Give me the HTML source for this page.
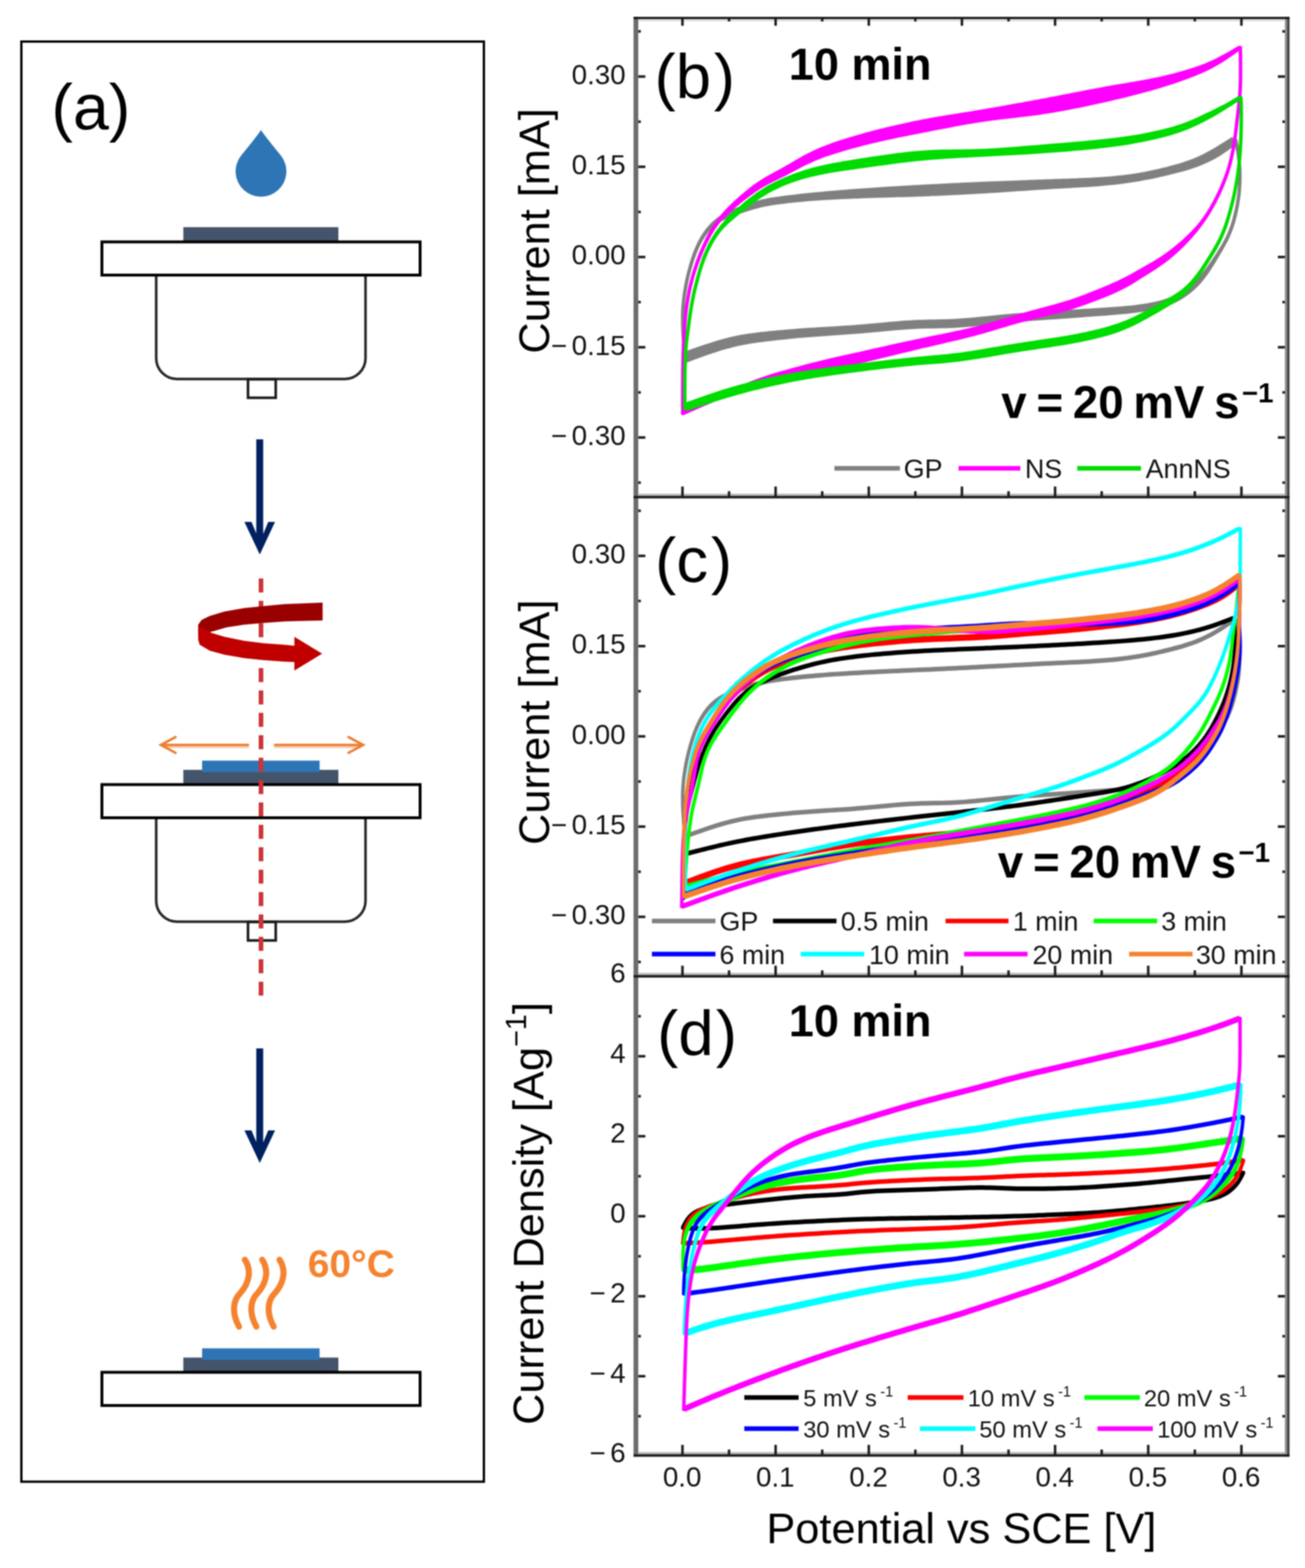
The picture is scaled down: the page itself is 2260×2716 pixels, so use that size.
<!DOCTYPE html>
<html lang="en"><head><meta charset="utf-8"><title>Spin coating schematic and cyclic voltammetry</title>
<style>html,body{margin:0;padding:0;background:#fff}body{width:2260px;height:2716px;overflow:hidden}svg{display:block;font-family:'Liberation Sans', Arial, Helvetica, sans-serif;filter:blur(1.1px)}</style>
</head><body>
<svg xmlns="http://www.w3.org/2000/svg" width="2260" height="2716" viewBox="0 0 2260 2716">
<rect x="0" y="0" width="2260" height="2716" fill="#fff"/>
<g id="panel-a">
<rect x="37" y="72" width="801" height="2494.5" fill="none" stroke="#000" stroke-width="4"/>
<text x="89.0" y="224.4" font-size="112.0" font-weight="normal" fill="#000" text-anchor="start" >(a)</text>
<path d="M452 225 Q455 231 486.5 269.5 A44 44 0 1 1 417.5 269.5 Q449 231 452 225 Z" fill="#2E75B6"/>
<rect x="317.5" y="393.5" width="268.5" height="25" fill="#44546A"/>
<path d="M270.5 478.0 V620.5 a36 36 0 0 0 36 36 H597 a36 36 0 0 0 36 -36 V478.0" fill="#fff" stroke="#262626" stroke-width="4.5"/>
<rect x="429.5" y="657.0" width="48" height="32" fill="#fff" stroke="#1a1a1a" stroke-width="4.5"/>
<rect x="176.5" y="419.0" width="551" height="57.5" fill="#fff" stroke="#000" stroke-width="5"/>
<rect x="443.8" y="761.0" width="12" height="169.5" fill="#002060"/>
<path d="M423.3 904.0 H435.5 L444 924.5 H456 L464.5 904.0 H476.3 L449.9 960.5 Z" fill="#002060"/>
<rect x="443.8" y="1816.0" width="12" height="168.5" fill="#002060"/>
<path d="M423.3 1958.0 H435.5 L444 1978.5 H456 L464.5 1958.0 H476.3 L449.9 2014.5 Z" fill="#002060"/>
<rect x="317.5" y="1333.5" width="268.5" height="25" fill="#44546A"/>
<rect x="350" y="1317.5" width="203.5" height="20" fill="#2E75B6"/>
<path d="M270.5 1418.0 V1560.5 a36 36 0 0 0 36 36 H597 a36 36 0 0 0 36 -36 V1418.0" fill="#fff" stroke="#262626" stroke-width="4.5"/>
<rect x="429.5" y="1597.0" width="48" height="32" fill="#fff" stroke="#1a1a1a" stroke-width="4.5"/>
<rect x="176.5" y="1359.0" width="551" height="57.5" fill="#fff" stroke="#000" stroke-width="5"/>
<path d="M452 1002 V1727" stroke="#CC3338" stroke-width="8" stroke-dasharray="24.2 14.6" fill="none"/>
<path d="M558.7 1043.8 L491.7 1046.4 L457.4 1049.8 L423 1053.2 L388.7 1059.2 L363 1067 L349.2 1073.8 L343.2 1082 L343.2 1100 L371.5 1092.7 L392 1086.7 L423 1082 L457.4 1079 L491.7 1076.4 L558.7 1074.7 Z" fill="#9A0000"/>
<path d="M343.2 1084 L366.4 1096.2 L388.7 1103 L423 1110 L457.4 1114.2 L491.7 1116.8 L509.8 1118.5 L509.8 1103 L557.9 1132.2 L509.8 1161.4 L509.8 1146.8 L491.7 1146 L457.4 1143.4 L423 1140 L388.7 1134 L363 1127 L345.8 1116.8 L343.2 1108 Z" fill="#C00000"/>
<path d="M278.0 1290.3 H431.2" stroke="#ED7D31" stroke-width="4.2" fill="none"/>
<path d="M282.0 1294.1 H431.2" stroke="#ED7D31" stroke-opacity="0.4" stroke-width="3.4" fill="none"/>
<path d="M305.5 1275.8 L278.5 1290.3 L305.5 1304.8" stroke="#ED7D31" stroke-width="4.2" fill="none"/>
<path d="M629.5 1290.3 H474.5" stroke="#ED7D31" stroke-width="4.2" fill="none"/>
<path d="M625.5 1294.1 H474.5" stroke="#ED7D31" stroke-opacity="0.4" stroke-width="3.4" fill="none"/>
<path d="M602.0 1275.8 L629.0 1290.3 L602.0 1304.8" stroke="#ED7D31" stroke-width="4.2" fill="none"/>
<path d="M424.0 2182 C 436.0 2200, 432.0 2222, 416.0 2240 C 400.0 2256, 404.0 2280, 414.0 2298" stroke="#F5822E" stroke-width="10.5" fill="none" stroke-linecap="round"/>
<path d="M454.0 2182 C 466.0 2200, 462.0 2222, 446.0 2240 C 430.0 2256, 434.0 2280, 444.0 2298" stroke="#F5822E" stroke-width="10.5" fill="none" stroke-linecap="round"/>
<path d="M484.0 2182 C 496.0 2200, 492.0 2222, 476.0 2240 C 460.0 2256, 464.0 2280, 474.0 2298" stroke="#F5822E" stroke-width="10.5" fill="none" stroke-linecap="round"/>
<text x="533.0" y="2211.6" font-size="67.5" font-weight="bold" fill="#F5822E" text-anchor="start" >60°C</text>
<rect x="317.5" y="2351.5" width="268.5" height="25" fill="#44546A"/>
<rect x="350" y="2335.5" width="203.5" height="20" fill="#2E75B6"/>
<rect x="176.5" y="2377.0" width="551" height="57.5" fill="#fff" stroke="#000" stroke-width="5"/>
</g>
<g id="plots">
<path d="M1189 618.8L1188.5 612.7L1188 606.5L1187.5 600.1L1187.1 593.4L1186.6 586.5L1186.1 579.5L1185.7 572.3L1185.4 565.1L1185.3 557.9L1185.2 550.8L1185.3 543.8L1185.6 536.8L1186.1 529.9L1186.7 523L1187.5 516.2L1188.4 509.5L1189.5 502.7L1190.7 495.9L1192 489L1193.5 482.2L1195.2 475.3L1197 468.4L1198.9 461.5L1200.9 454.8L1203.1 448.2L1205.4 441.8L1207.8 435.6L1210.4 429.5L1213.3 423.5L1216.5 417.6L1220.1 411.7L1224 406.1L1228.3 400.7L1232.9 395.7L1237.8 391.2L1243.1 387.2L1248.6 383.8L1254.5 380.8L1260.7 378L1267.1 375.5L1273.8 373.1L1280.7 370.7L1287.6 368.3L1294.7 366L1301.6 363.8L1308.6 361.7L1315.5 359.9L1322.3 358.3L1329.2 356.9L1336.1 355.7L1343.1 354.7L1350.1 353.7L1357.1 352.9L1364.1 352.1L1371.1 351.3L1378 350.6L1385.1 349.9L1392.2 349.2L1399.4 348.6L1406.6 348L1413.7 347.5L1420.8 347L1427.9 346.6L1434.8 346.2L1441.8 345.8L1448.9 345.4L1456.1 345.1L1463.4 344.8L1470.8 344.5L1478.2 344.1L1485.6 343.9L1493 343.6L1500.2 343.3L1507.4 343.1L1514.5 342.8L1521.6 342.6L1528.6 342.4L1535.6 342.2L1542.7 342L1549.9 341.8L1557 341.6L1564.2 341.4L1571.4 341.2L1578.6 340.9L1585.8 340.7L1592.9 340.5L1600 340.2L1607 339.9L1613.9 339.6L1620.8 339.4L1627.7 339.1L1634.6 338.7L1641.5 338.4L1648.4 338.1L1655.2 337.8L1662.1 337.4L1669 337.1L1675.9 336.7L1682.8 336.3L1689.7 336L1696.6 335.6L1703.5 335.2L1710.4 334.8L1717.2 334.3L1724.1 333.9L1731 333.5L1737.8 333L1744.7 332.5L1751.6 332.1L1758.4 331.6L1765.3 331.1L1772.2 330.7L1779 330.2L1785.9 329.7L1792.8 329.3L1799.7 328.8L1806.6 328.4L1813.6 327.9L1820.6 327.5L1827.7 327.1L1834.8 326.7L1842 326.3L1849.1 325.9L1856.2 325.5L1863.3 325.1L1870.3 324.7L1877.2 324.3L1884 323.9L1890.7 323.4L1897.5 322.9L1904.3 322.4L1911.2 321.8L1918.2 321.1L1925.2 320.4L1932.2 319.7L1939.2 318.9L1946 318L1952.8 317.1L1959.5 316.1L1966.3 315L1973.1 313.9L1980 312.6L1987 311.3L1994.1 309.9L2001.3 308.4L2008.4 306.8L2015.6 305.2L2022.6 303.5L2029.6 301.8L2036.5 300.1L2043.4 298.3L2050.3 296.4L2057.2 294.4L2064 292.2L2070.7 289.9L2077.3 287.5L2083.8 284.8L2090.1 282L2096.3 279.1L2102.4 275.9L2108.5 272.5L2114.4 268.9L2120.2 265.1L2126 261.1L2131.5 257.1L2136.9 253L2142.2 248.9L2133.8 237.1L2128.3 240.7L2122.7 244.3L2117.1 247.8L2111.4 251.3L2105.8 254.7L2100.1 258.1L2094.4 261.3L2088.8 264.3L2083.1 267.3L2077.2 270L2071.3 272.7L2065.2 275.2L2058.9 277.6L2052.5 279.8L2045.9 281.9L2039.3 283.9L2032.7 285.8L2026 287.6L2019.1 289.4L2012.2 291.1L2005.2 292.7L1998.2 294.3L1991.2 295.8L1984.2 297.2L1977.4 298.5L1970.6 299.7L1964 300.7L1957.4 301.7L1950.9 302.6L1944.2 303.4L1937.5 304.1L1930.7 304.7L1923.8 305.4L1916.9 305.9L1910 306.4L1903.2 306.9L1896.5 307.3L1889.8 307.7L1883.1 308L1876.3 308.3L1869.4 308.6L1862.5 308.9L1855.4 309.1L1848.3 309.4L1841.2 309.6L1834.1 309.9L1826.9 310.1L1819.8 310.4L1812.8 310.6L1805.8 310.9L1798.8 311.1L1791.9 311.4L1785 311.6L1778.1 311.9L1771.2 312.2L1764.3 312.4L1757.4 312.7L1750.6 312.9L1743.7 313.2L1736.8 313.4L1729.9 313.7L1723.1 314L1716.2 314.2L1709.3 314.5L1702.5 314.8L1695.6 315.1L1688.7 315.4L1681.8 315.7L1674.9 316L1668 316.3L1661.1 316.7L1654.2 317L1647.4 317.3L1640.5 317.7L1633.6 318L1626.7 318.4L1619.9 318.7L1613 319.1L1606 319.4L1599.1 319.8L1592 320.2L1584.9 320.6L1577.7 321L1570.5 321.4L1563.4 321.8L1556.2 322.2L1549 322.7L1541.9 323.1L1534.8 323.5L1527.7 324L1520.7 324.4L1513.6 324.9L1506.5 325.4L1499.3 325.9L1492 326.4L1484.6 327L1477.2 327.5L1469.8 328.1L1462.4 328.7L1455.1 329.3L1447.9 329.9L1440.8 330.5L1433.8 331.1L1426.7 331.7L1419.7 332.4L1412.5 333.1L1405.3 333.8L1398 334.5L1390.8 335.3L1383.6 336.1L1376.5 337L1369.5 337.8L1362.5 338.6L1355.5 339.5L1348.3 340.4L1341.1 341.4L1333.9 342.6L1326.6 343.9L1319.4 345.5L1312.2 347.4L1305 349.5L1297.9 351.8L1290.7 354.3L1283.6 356.8L1276.5 359.5L1269.6 362.2L1262.7 365.1L1256 368.4L1249.6 372L1243.6 376L1237.9 380.5L1232.5 385.3L1227.5 390.5L1222.8 396.1L1218.4 402L1214.4 408.1L1210.8 414.3L1207.5 420.6L1204.6 426.9L1201.9 433.2L1199.5 439.6L1197.2 446.2L1195 452.9L1193 459.8L1191.1 466.8L1189.2 473.8L1187.6 480.8L1186.1 487.8L1184.7 494.8L1183.5 501.7L1182.4 508.6L1181.5 515.5L1180.7 522.4L1180.1 529.4L1179.6 536.4L1179.3 543.6L1179.2 550.8L1179.3 558L1179.4 565.3L1179.7 572.6L1180.1 579.8L1180.6 586.9L1181 593.9L1181.5 600.6L1182 607L1182.5 613.2L1183 619.2Z" fill="#808080"/>
<circle cx="1186.0" cy="619.0" r="3.0" fill="#808080"/>
<circle cx="2138.0" cy="243.0" r="3.0" fill="#808080"/>
<path d="M2137 243.6L2138.2 249.5L2139.4 255.6L2140.6 262L2141.7 268.6L2142.5 275.5L2143.3 282.6L2143.8 289.9L2144.1 297.2L2144.2 304.5L2144.2 311.7L2143.9 318.8L2143.5 325.7L2143 332.4L2142.2 338.9L2141.3 345.4L2140.3 351.9L2139.1 358.4L2137.7 364.9L2136.2 371.5L2134.6 378L2132.7 384.5L2130.7 391L2128.4 397.3L2125.9 403.5L2123.1 409.6L2120.1 415.6L2116.8 421.5L2113.5 427.2L2110 432.8L2106.5 438.4L2102.9 444L2099.2 449.4L2095.5 454.8L2091.8 460.1L2087.9 465.4L2083.9 470.5L2079.6 475.6L2075.2 480.5L2070.5 485.3L2065.5 490L2060.2 494.5L2054.6 498.7L2048.9 502.7L2043 506.4L2037.1 509.7L2031.1 512.6L2025.1 515.2L2019 517.5L2012.8 519.4L2006.5 521.2L2000 522.7L1993.3 524.1L1986.3 525.4L1979.2 526.5L1972.1 527.5L1965.2 528.4L1958.3 529.2L1951.6 529.8L1944.8 530.4L1938 531L1931.1 531.5L1924 532L1916.8 532.5L1909.5 533L1902.1 533.4L1894.7 533.9L1887.4 534.4L1880.1 534.8L1872.9 535.3L1865.8 535.7L1858.8 536.2L1851.8 536.6L1844.9 537.1L1838 537.5L1831.1 537.9L1824.3 538.3L1817.4 538.7L1810.5 539.1L1803.6 539.5L1796.8 540L1789.9 540.4L1783 540.9L1776.1 541.4L1769.2 541.9L1762.2 542.4L1755.2 543L1748.2 543.7L1741.2 544.3L1734.1 545L1727 545.8L1719.9 546.5L1712.9 547.2L1705.9 547.9L1699 548.6L1692.1 549.3L1685.4 550L1678.6 550.6L1671.9 551.1L1665.1 551.6L1658.3 552.1L1651.5 552.4L1644.5 552.7L1637.6 552.9L1630.6 553.1L1623.7 553.2L1616.8 553.4L1609.8 553.5L1602.8 553.7L1595.7 553.9L1588.6 554.1L1581.6 554.5L1574.7 554.9L1567.8 555.3L1560.9 555.8L1554.1 556.4L1547.2 557L1540.3 557.6L1533.4 558.2L1526.4 558.9L1519.4 559.5L1512.3 560.2L1505.3 560.8L1498.2 561.5L1491.2 562.1L1484.3 562.6L1477.3 563.2L1470.4 563.7L1463.6 564.1L1456.7 564.6L1449.8 565L1443 565.4L1436.1 565.8L1429.2 566.2L1422.4 566.6L1415.5 567L1408.6 567.4L1401.7 567.8L1394.8 568.3L1387.9 568.8L1380.9 569.3L1374 569.9L1367 570.5L1360 571.1L1353 571.7L1346 572.3L1338.9 573L1331.9 573.6L1324.8 574.4L1317.8 575.1L1310.8 576L1303.8 576.9L1296.8 577.8L1289.8 578.9L1282.8 580.1L1275.8 581.5L1268.6 583.1L1261.3 584.8L1253.8 586.7L1246.3 588.8L1238.8 591L1231.3 593.4L1224 595.7L1217 598.1L1210.3 600.3L1204.1 602.5L1198.2 604.5L1192.8 606.4L1187.7 608.2L1182.7 609.9L1189.3 628.1L1194.2 626.2L1199.2 624.3L1204.6 622.3L1210.4 620.2L1216.5 618L1223.1 615.6L1229.9 613.3L1237 610.9L1244.2 608.6L1251.4 606.3L1258.6 604.3L1265.7 602.4L1272.7 600.6L1279.5 599.1L1286.2 597.7L1292.9 596.5L1299.5 595.3L1306.3 594.3L1313 593.3L1319.9 592.4L1326.8 591.5L1333.7 590.7L1340.7 589.9L1347.7 589.1L1354.6 588.4L1361.6 587.7L1368.5 587L1375.4 586.3L1382.3 585.6L1389.2 585L1396 584.4L1402.8 583.9L1409.7 583.4L1416.5 582.9L1423.4 582.4L1430.2 582L1437.1 581.5L1444 581.1L1450.8 580.6L1457.7 580.1L1464.6 579.6L1471.6 579.1L1478.5 578.6L1485.5 578L1492.5 577.4L1499.6 576.8L1506.6 576.2L1513.7 575.5L1520.8 574.9L1527.8 574.2L1534.8 573.6L1541.7 572.9L1548.6 572.3L1555.4 571.8L1562.1 571.2L1568.8 570.7L1575.6 570.3L1582.4 569.9L1589.3 569.6L1596.2 569.3L1603.2 569.1L1610.1 569L1617.1 568.9L1624 568.7L1631 568.6L1638 568.4L1645.1 568.2L1652.2 567.9L1659.2 567.5L1666.2 567.1L1673.1 566.6L1679.9 566L1686.8 565.4L1693.6 564.7L1700.5 564L1707.5 563.3L1714.5 562.6L1721.5 561.9L1728.6 561.2L1735.6 560.4L1742.6 559.7L1749.6 559.1L1756.6 558.4L1763.5 557.8L1770.4 557.2L1777.3 556.7L1784.1 556.1L1791 555.6L1797.8 555.1L1804.7 554.6L1811.5 554.1L1818.4 553.6L1825.2 553.2L1832.1 552.7L1839 552.2L1845.9 551.7L1852.8 551.2L1859.8 550.7L1866.8 550.2L1873.9 549.7L1881.1 549.1L1888.4 548.6L1895.7 548L1903.1 547.5L1910.5 546.9L1917.8 546.4L1925 545.8L1932.2 545.2L1939.2 544.6L1946.1 544L1952.9 543.4L1959.8 542.6L1966.8 541.8L1974 540.8L1981.3 539.7L1988.6 538.5L1995.9 537.1L2003 535.6L2009.9 533.8L2016.7 531.8L2023.4 529.5L2029.9 526.9L2036.5 523.8L2042.9 520.4L2049.3 516.5L2055.5 512.3L2061.5 507.7L2067.3 502.8L2072.7 497.7L2077.8 492.4L2082.5 487L2086.9 481.6L2091 476L2094.9 470.4L2098.6 464.8L2102.1 459.2L2105.6 453.5L2109 447.8L2112.4 442.1L2115.8 436.3L2119.2 430.5L2122.5 424.6L2125.8 418.5L2128.8 412.3L2131.6 406L2134.2 399.5L2136.5 392.9L2138.6 386.3L2140.5 379.6L2142.2 372.9L2143.7 366.2L2145.1 359.6L2146.3 352.9L2147.3 346.3L2148.2 339.7L2149 332.9L2149.5 326.1L2149.9 319.1L2150.2 311.8L2150.2 304.5L2150.1 297L2149.8 289.6L2149.3 282.1L2148.6 274.8L2147.7 267.8L2146.6 261L2145.5 254.5L2144.3 248.4L2143 242.4Z" fill="#808080"/>
<circle cx="2140.0" cy="243.0" r="3.0" fill="#808080"/>
<circle cx="1186.0" cy="619.0" r="3.0" fill="#808080"/>
<path d="M1185.4 716L1185.4 709.6L1185.4 703.1L1185.4 696.2L1185.4 688.9L1185.4 681.3L1185.4 673.6L1185.5 665.7L1185.5 657.8L1185.6 650L1185.6 642.4L1185.7 634.8L1185.9 627.4L1186 620.1L1186.2 612.8L1186.5 605.6L1186.7 598.5L1187 591.4L1187.4 584.4L1187.8 577.4L1188.2 570.5L1188.7 563.6L1189.3 556.7L1189.9 550L1190.6 543.3L1191.4 536.6L1192.2 530.1L1193.2 523.6L1194.2 517.2L1195.4 510.8L1196.6 504.4L1198 498L1199.6 491.5L1201.3 484.9L1203.1 478.4L1205.1 471.8L1207.3 465.1L1209.5 458.5L1211.9 451.8L1214.5 445.2L1217.2 438.6L1220 432.1L1222.9 425.7L1226 419.5L1229.1 413.4L1232.3 407.5L1235.7 401.8L1239.2 396.3L1242.9 391L1246.8 385.8L1251 380.9L1255.3 376.2L1259.9 371.7L1264.8 367.3L1269.7 362.9L1274.8 358.6L1280.1 354.3L1285.3 350L1290.7 345.7L1296.2 341.5L1301.7 337.4L1307.2 333.4L1312.8 329.7L1318.5 326.1L1324.2 322.8L1330 319.6L1335.9 316.6L1341.9 313.6L1348 310.6L1354.1 307.5L1360.3 304.4L1366.4 301.2L1372.5 297.9L1378.7 294.7L1384.9 291.4L1391.2 288.1L1397.6 285L1404.1 282L1410.5 279.1L1417 276.4L1423.3 273.9L1429.6 271.6L1435.9 269.5L1442.2 267.4L1448.6 265.4L1455.2 263.4L1461.8 261.4L1468.5 259.5L1475.3 257.6L1482.2 255.7L1489 253.9L1495.8 252.1L1502.5 250.4L1509.2 248.8L1515.7 247.2L1522.3 245.7L1528.8 244.2L1535.3 242.8L1541.9 241.4L1548.5 240L1555.1 238.6L1561.8 237.3L1568.5 235.9L1575.2 234.6L1582 233.3L1588.7 231.9L1595.5 230.6L1602.2 229.3L1609 228L1615.7 226.6L1622.5 225.3L1629.3 224L1636.1 222.7L1642.9 221.4L1649.7 220.1L1656.6 218.8L1663.5 217.6L1670.3 216.3L1677.2 215.1L1684.1 213.9L1690.9 212.8L1697.8 211.7L1704.7 210.7L1711.5 209.7L1718.4 208.8L1725.3 207.9L1732.1 207L1739 206.2L1745.9 205.4L1752.8 204.7L1759.7 203.9L1766.6 203.1L1773.5 202.3L1780.5 201.5L1787.4 200.6L1794.4 199.7L1801.3 198.7L1808.3 197.6L1815.2 196.5L1822.1 195.4L1829.1 194.2L1836 193L1842.9 191.7L1849.8 190.4L1856.7 189.1L1863.6 187.8L1870.5 186.4L1877.4 185L1884.3 183.5L1891.1 182.1L1898 180.6L1904.9 179.1L1911.9 177.5L1918.8 175.9L1925.9 174.3L1932.9 172.6L1940 170.9L1947.1 169.2L1954.2 167.4L1961.3 165.6L1968.3 163.8L1975.3 162L1982.1 160.1L1988.9 158.3L1995.7 156.4L2002.5 154.4L2009.4 152.4L2016.4 150.3L2023.5 148L2030.7 145.7L2038 143.2L2045.1 140.8L2052.1 138.3L2058.9 135.7L2065.6 133.2L2072.2 130.5L2078.8 127.8L2085.4 124.9L2092 121.7L2098.7 118.4L2105.3 114.8L2111.9 111L2118.4 107L2124.9 102.8L2131.1 98.5L2137.3 94.2L2143.2 89.9L2149.1 85.6L2144.9 79.4L2138.7 83L2132.5 86.8L2126.1 90.4L2119.6 94.1L2113 97.6L2106.4 101L2099.9 104.2L2093.3 107.1L2086.7 109.9L2080.1 112.4L2073.6 114.8L2067.1 117L2060.6 119.1L2054 121.1L2047.2 123.1L2040.2 125L2033.1 126.9L2025.9 128.8L2018.6 130.5L2011.5 132.2L2004.5 133.7L1997.7 135.1L1990.9 136.4L1984.2 137.7L1977.4 139L1970.5 140.2L1963.5 141.4L1956.4 142.6L1949.2 143.9L1942.1 145.1L1934.9 146.3L1927.7 147.6L1920.6 148.8L1913.5 150.1L1906.5 151.4L1899.5 152.7L1892.6 154L1885.7 155.3L1878.8 156.6L1872 158L1865.1 159.3L1858.3 160.6L1851.4 162L1844.6 163.3L1837.8 164.6L1831 166L1824.1 167.3L1817.3 168.6L1810.5 169.9L1803.7 171.1L1797 172.4L1790.2 173.6L1783.4 174.9L1776.6 176.1L1769.8 177.4L1763 178.6L1756.2 179.8L1749.3 181L1742.5 182.3L1735.7 183.5L1728.8 184.7L1721.9 185.9L1715.1 187.1L1708.2 188.3L1701.3 189.5L1694.4 190.6L1687.5 191.8L1680.6 192.9L1673.7 194L1666.7 195.1L1659.8 196.2L1652.9 197.3L1646 198.4L1639 199.5L1632.1 200.7L1625.2 201.8L1618.4 203L1611.5 204.3L1604.7 205.5L1597.8 206.8L1591 208.2L1584.2 209.6L1577.4 211L1570.6 212.4L1563.9 213.9L1557.1 215.4L1550.4 216.9L1543.7 218.5L1537 220.1L1530.4 221.7L1523.8 223.3L1517.2 225L1510.6 226.7L1504 228.5L1497.3 230.3L1490.5 232.2L1483.6 234.2L1476.7 236.2L1469.7 238.3L1462.8 240.4L1456 242.6L1449.3 244.8L1442.6 247.1L1436 249.4L1429.5 251.9L1423 254.4L1416.5 257.2L1409.9 260.2L1403.3 263.4L1396.6 266.8L1390.1 270.3L1383.6 274L1377.4 277.6L1371.3 281.2L1365.2 284.7L1359.3 288.1L1353.3 291.4L1347.4 294.7L1341.4 297.9L1335.4 301.2L1329.4 304.5L1323.4 308L1317.5 311.7L1311.7 315.5L1305.9 319.6L1300.2 323.8L1294.7 328.2L1289.2 332.7L1283.8 337.2L1278.5 341.9L1273.3 346.5L1268.3 351.2L1263.3 356L1258.5 360.9L1253.9 365.8L1249.4 370.9L1245.1 376.1L1241.1 381.4L1237.2 386.9L1233.5 392.6L1229.9 398.3L1226.5 404.3L1223.2 410.3L1220.1 416.6L1217.1 422.9L1214.1 429.5L1211.3 436.1L1208.6 442.9L1206.1 449.6L1203.6 456.4L1201.4 463.2L1199.2 469.9L1197.2 476.7L1195.4 483.4L1193.7 490L1192.1 496.6L1190.7 503.1L1189.4 509.7L1188.2 516.2L1187.2 522.7L1186.2 529.3L1185.4 535.9L1184.6 542.6L1183.9 549.4L1183.3 556.2L1182.7 563.1L1182.2 570L1181.8 577L1181.4 584.1L1181 591.2L1180.7 598.3L1180.5 605.4L1180.2 612.6L1180 619.9L1179.9 627.3L1179.7 634.7L1179.6 642.3L1179.6 650L1179.5 657.8L1179.5 665.6L1179.4 673.5L1179.4 681.3L1179.4 688.9L1179.4 696.2L1179.4 703.1L1179.4 709.6L1179.4 716Z" fill="#FF00FF"/>
<circle cx="1182.4" cy="716.0" r="3.0" fill="#FF00FF"/>
<circle cx="2147.0" cy="82.5" r="3.0" fill="#FF00FF"/>
<path d="M2145 82.5L2145.1 88.7L2145.2 95.1L2145.2 101.6L2145.3 108.5L2145.3 115.5L2145.4 122.7L2145.3 129.9L2145.3 137L2145.1 144.1L2144.9 151L2144.6 157.8L2144.1 164.6L2143.5 171.5L2142.8 178.4L2142 185.5L2141.1 192.7L2140.3 200L2139.4 207.5L2138.6 215.1L2137.7 222.7L2136.8 230.4L2135.8 238L2134.7 245.5L2133.5 252.9L2132.2 260.2L2130.8 267.4L2129.2 274.5L2127.5 281.5L2125.6 288.4L2123.5 295.2L2121.2 301.9L2118.8 308.5L2116.2 315.1L2113.5 321.6L2110.7 328.1L2107.6 334.5L2104.5 341L2101.1 347.4L2097.6 353.8L2093.9 360.2L2090.1 366.4L2086.1 372.5L2081.9 378.5L2077.5 384.3L2072.9 389.9L2068.1 395.3L2063.2 400.5L2058.1 405.6L2052.9 410.6L2047.6 415.4L2042.2 420.2L2036.7 424.8L2031.1 429.3L2025.4 433.7L2019.7 437.9L2014 441.9L2008.3 445.7L2002.7 449.3L1997 452.7L1991.3 456L1985.6 459.3L1979.9 462.5L1974.2 465.7L1968.5 469L1962.8 472.2L1957 475.4L1951.2 478.5L1945.3 481.6L1939.3 484.5L1933.2 487.4L1927 490.1L1920.8 492.9L1914.5 495.5L1908.1 498.2L1901.8 500.7L1895.6 503.3L1889.5 505.7L1883.6 508.1L1877.7 510.4L1871.9 512.6L1866 514.7L1860 516.8L1853.9 518.9L1847.7 520.8L1841.4 522.8L1835.1 524.6L1828.6 526.5L1822 528.3L1815.3 530.1L1808.5 532L1801.5 533.8L1794.6 535.7L1787.6 537.6L1780.6 539.5L1773.6 541.4L1766.7 543.4L1759.6 545.4L1752.5 547.4L1745.4 549.6L1738.3 551.7L1731.2 553.8L1724.3 555.9L1717.5 558L1710.7 559.9L1703.9 561.8L1697.2 563.7L1690.4 565.4L1683.5 567.1L1676.6 568.7L1669.7 570.3L1662.8 571.9L1655.9 573.3L1649.2 574.8L1642.5 576.2L1635.8 577.5L1629.2 578.9L1622.6 580.2L1615.8 581.6L1608.9 583L1601.9 584.4L1594.7 585.9L1587.5 587.4L1580.4 588.9L1573.3 590.5L1566.3 592L1559.3 593.5L1552.2 595.1L1545.1 596.6L1538 598.2L1530.7 599.9L1523.5 601.5L1516.3 603.1L1509.1 604.7L1502.1 606.3L1495.1 607.9L1488.2 609.4L1481.3 610.9L1474.5 612.5L1467.7 614L1460.8 615.5L1454.1 617L1447.4 618.6L1440.8 620.1L1434.2 621.6L1427.6 623.2L1421 624.8L1414.4 626.4L1407.7 628.1L1401 629.8L1394.2 631.6L1387.4 633.4L1380.6 635.2L1373.7 637.1L1366.8 638.9L1359.9 640.9L1353.1 642.8L1346.3 644.7L1339.6 646.7L1333 648.8L1326.4 650.9L1319.8 653.2L1313.2 655.6L1306.6 658L1300.1 660.6L1293.7 663.2L1287.5 665.8L1281.3 668.5L1275.1 671.2L1268.8 674L1262.3 676.9L1255.8 679.8L1249 682.7L1242.2 685.8L1235.2 688.9L1228.2 692L1221.1 695.2L1213.9 698.3L1206.9 701.4L1200.1 704.4L1193.5 707.3L1187.2 710.1L1181 712.9L1183.8 719.1L1190 716.4L1196.3 713.6L1202.9 710.7L1209.7 707.7L1216.7 704.6L1223.8 701.5L1231 698.4L1238.1 695.3L1245 692.3L1251.9 689.4L1258.7 686.6L1265.3 683.9L1271.8 681.4L1278.2 679L1284.5 676.7L1290.8 674.5L1297.1 672.3L1303.6 670.3L1310.1 668.2L1316.7 666.3L1323.3 664.4L1329.9 662.7L1336.5 660.9L1343.1 659.3L1349.8 657.6L1356.5 656L1363.4 654.4L1370.3 652.8L1377.2 651.2L1384.1 649.7L1391 648.2L1397.8 646.7L1404.6 645.3L1411.3 644L1418 642.7L1424.6 641.5L1431.2 640.4L1437.8 639.2L1444.4 638.1L1451.1 637L1457.9 635.8L1464.8 634.5L1471.7 633.2L1478.7 631.8L1485.6 630.3L1492.5 628.8L1499.5 627.2L1506.5 625.5L1513.6 623.8L1520.7 622.1L1527.9 620.3L1535.1 618.5L1542.3 616.8L1549.4 615L1556.5 613.3L1563.5 611.6L1570.4 609.9L1577.4 608.2L1584.4 606.5L1591.4 604.8L1598.5 603.1L1605.6 601.5L1612.6 599.9L1619.5 598.3L1626.2 596.7L1632.8 595.2L1639.4 593.6L1646 592.1L1652.7 590.5L1659.5 588.9L1666.4 587.2L1673.3 585.5L1680.3 583.8L1687.3 582L1694.2 580.1L1701.1 578.2L1708 576.2L1714.8 574.2L1721.7 572.2L1728.6 570.1L1735.5 568L1742.5 565.9L1749.6 563.8L1756.7 561.8L1763.7 559.8L1770.7 558L1777.6 556.1L1784.5 554.4L1791.5 552.6L1798.5 550.9L1805.5 549.2L1812.5 547.5L1819.4 545.8L1826.2 544.1L1832.9 542.4L1839.6 540.6L1846.1 538.8L1852.6 536.9L1859.1 534.9L1865.4 532.8L1871.6 530.7L1877.7 528.6L1883.7 526.4L1889.7 524.1L1895.8 521.8L1902 519.4L1908.3 517L1914.8 514.4L1921.3 511.7L1927.8 509L1934.3 506.1L1940.7 503L1947 499.8L1953.1 496.4L1959.2 492.9L1965 489.4L1970.8 485.8L1976.4 482.3L1982 478.8L1987.6 475.3L1993.2 471.8L1998.8 468.2L2004.4 464.5L2010.1 460.6L2015.8 456.5L2021.5 452.2L2027.2 447.7L2032.9 443L2038.4 438.1L2043.9 433L2049.3 427.9L2054.5 422.6L2059.6 417.2L2064.6 411.7L2069.4 406.1L2074.2 400.4L2078.7 394.6L2083.2 388.6L2087.5 382.5L2091.7 376.2L2095.7 369.9L2099.5 363.5L2103.2 356.9L2106.7 350.4L2110.1 343.8L2113.3 337.2L2116.3 330.6L2119.2 324L2121.9 317.3L2124.5 310.6L2126.9 303.9L2129.2 297L2131.3 290.1L2133.3 283L2135 275.8L2136.6 268.6L2138.1 261.3L2139.4 253.9L2140.6 246.4L2141.7 238.8L2142.7 231.1L2143.7 223.4L2144.5 215.8L2145.4 208.2L2146.2 200.7L2147.1 193.4L2147.9 186.2L2148.7 179L2149.5 172L2150.1 165.1L2150.6 158.2L2150.9 151.2L2151.1 144.2L2151.3 137.1L2151.3 129.9L2151.4 122.7L2151.3 115.5L2151.3 108.4L2151.2 101.6L2151.2 95L2151.1 88.6L2151 82.5Z" fill="#FF00FF"/>
<circle cx="2148.0" cy="82.5" r="3.0" fill="#FF00FF"/>
<circle cx="1182.4" cy="716.0" r="3.0" fill="#FF00FF"/>
<path d="M1189 708L1189 701.6L1189 695L1189 688.1L1188.9 680.9L1189 673.4L1189 665.7L1189 657.9L1189.1 650.2L1189.2 642.5L1189.4 635L1189.6 627.7L1189.8 620.5L1190.2 613.4L1190.6 606.5L1191.2 599.8L1191.8 593L1192.6 586.2L1193.5 579.4L1194.4 572.4L1195.4 565.3L1196.4 558L1197.4 550.6L1198.5 543.2L1199.6 535.7L1200.9 528.3L1202.2 521.1L1203.6 514L1205.1 507.1L1206.7 500.4L1208.3 493.9L1210 487.4L1211.7 481.1L1213.4 474.9L1215.2 468.7L1217.1 462.6L1219.2 456.5L1221.4 450.4L1223.8 444.3L1226.4 438.1L1229.3 432L1232.4 425.9L1235.7 419.9L1239.2 414.1L1242.9 408.5L1246.8 403.2L1250.9 398.2L1255.3 393.4L1259.9 388.9L1264.7 384.5L1269.7 380.2L1274.8 375.9L1280 371.6L1285.3 367.3L1290.7 362.9L1296.1 358.6L1301.6 354.3L1307.1 350.2L1312.7 346.3L1318.3 342.5L1324 338.9L1329.8 335.5L1335.6 332.3L1341.4 329.2L1347.4 326.4L1353.3 323.7L1359.3 321.1L1365.3 318.8L1371.2 316.6L1377.2 314.5L1383.3 312.5L1389.6 310.6L1395.9 308.8L1402.5 307.1L1409.1 305.5L1415.7 304L1422.4 302.5L1429.2 301.2L1435.9 300L1442.8 298.8L1449.8 297.7L1456.9 296.6L1464.2 295.5L1471.6 294.4L1479 293.4L1486.4 292.3L1493.7 291.3L1501 290.3L1508.2 289.3L1515.3 288.3L1522.4 287.3L1529.4 286.4L1536.4 285.4L1543.5 284.5L1550.6 283.5L1557.7 282.6L1564.8 281.7L1572 280.9L1579.1 280.1L1586.2 279.3L1593.2 278.6L1600.2 277.9L1607.1 277.3L1614 276.7L1620.8 276.2L1627.6 275.7L1634.5 275.2L1641.3 274.8L1648.1 274.4L1655 274L1661.9 273.6L1668.8 273.3L1675.7 272.9L1682.6 272.5L1689.5 272.2L1696.4 271.8L1703.3 271.4L1710.2 271.1L1717.1 270.7L1724 270.3L1730.9 270L1737.8 269.6L1744.6 269.3L1751.5 268.9L1758.4 268.5L1765.3 268.2L1772.2 267.8L1779.1 267.4L1786 267L1792.9 266.6L1799.8 266.1L1806.8 265.6L1813.8 265.1L1820.8 264.6L1827.9 264.1L1835.1 263.5L1842.2 262.9L1849.4 262.4L1856.5 261.8L1863.6 261.1L1870.5 260.5L1877.4 259.9L1884.3 259.2L1891 258.6L1897.8 257.9L1904.6 257.1L1911.5 256.3L1918.4 255.5L1925.4 254.6L1932.4 253.7L1939.4 252.7L1946.2 251.7L1953 250.7L1959.6 249.5L1966.3 248.3L1973.1 247.1L1979.9 245.7L1986.7 244.3L1993.7 242.8L2000.7 241.2L2007.7 239.5L2014.7 237.7L2021.7 235.9L2028.7 233.9L2035.6 231.8L2042.5 229.5L2049.3 227L2056.2 224.4L2063 221.6L2069.7 218.6L2076.2 215.5L2082.7 212.3L2088.9 209L2095.1 205.7L2101.1 202.4L2107.1 198.9L2112.9 195.5L2118.5 192L2124 188.6L2129.3 185.3L2134.5 182L2139.4 178.8L2144.2 175.7L2149 172.7L2145 166.3L2140.2 169.2L2135.3 172.1L2130.3 175L2125 177.9L2119.6 180.9L2113.9 183.8L2108.1 186.7L2102.1 189.7L2096 192.7L2089.9 195.6L2083.7 198.6L2077.5 201.6L2071.1 204.5L2064.7 207.3L2058.2 210L2051.6 212.6L2045 214.9L2038.3 217.1L2031.7 219.2L2025 221.1L2018.2 222.8L2011.4 224.5L2004.6 226.1L1997.6 227.6L1990.8 229L1983.9 230.4L1977.1 231.7L1970.4 232.9L1963.8 234L1957.3 235.1L1950.7 236L1944.1 237L1937.3 237.9L1930.5 238.7L1923.6 239.5L1916.6 240.3L1909.8 241.1L1902.9 241.8L1896.2 242.5L1889.5 243.1L1882.8 243.8L1876 244.4L1869.2 245L1862.2 245.6L1855.2 246.2L1848.1 246.8L1841 247.4L1833.8 248L1826.7 248.6L1819.6 249.1L1812.6 249.7L1805.6 250.3L1798.7 250.9L1791.8 251.4L1784.9 252L1778 252.6L1771.2 253.1L1764.3 253.7L1757.5 254.2L1750.6 254.8L1743.8 255.3L1736.9 255.8L1730.1 256.2L1723.2 256.7L1716.4 257.1L1709.5 257.5L1702.6 257.8L1695.8 258L1688.9 258.3L1682.1 258.4L1675.2 258.6L1668.3 258.7L1661.4 258.7L1654.5 258.8L1647.6 258.9L1640.7 259L1633.8 259.1L1626.8 259.3L1619.9 259.5L1612.9 259.8L1605.9 260.2L1598.8 260.7L1591.7 261.2L1584.5 261.8L1577.2 262.6L1570 263.3L1562.7 264.2L1555.5 265.1L1548.3 266L1541.1 267L1534 268L1526.9 269L1519.9 270L1512.8 271L1505.7 272.1L1498.5 273.2L1491.2 274.3L1483.8 275.5L1476.4 276.7L1469 277.9L1461.6 279.1L1454.3 280.4L1447 281.7L1439.9 283.1L1432.9 284.5L1426 286L1419.1 287.6L1412.2 289.3L1405.4 291.1L1398.6 293.1L1391.9 295.1L1385.4 297.3L1379 299.5L1372.7 301.8L1366.6 304.3L1360.4 306.8L1354.3 309.4L1348.1 312.2L1342 315.2L1335.8 318.3L1329.7 321.6L1323.7 325.2L1317.7 328.9L1311.9 332.8L1306.1 336.9L1300.4 341.2L1294.8 345.6L1289.2 350.1L1283.8 354.7L1278.5 359.3L1273.3 363.9L1268.3 368.6L1263.3 373.3L1258.5 378.1L1253.9 383L1249.4 388.1L1245.1 393.4L1241 398.9L1237.1 404.6L1233.4 410.5L1229.8 416.6L1226.5 422.8L1223.4 429.2L1220.5 435.5L1217.8 441.8L1215.4 448.1L1213.2 454.4L1211.2 460.7L1209.3 466.9L1207.5 473.2L1205.7 479.5L1204 485.9L1202.4 492.4L1200.7 499L1199.1 505.8L1197.6 512.8L1196.2 520L1194.9 527.3L1193.7 534.8L1192.5 542.3L1191.4 549.8L1190.4 557.2L1189.4 564.5L1188.4 571.6L1187.5 578.6L1186.6 585.5L1185.8 592.4L1185.2 599.2L1184.6 606.1L1184.2 613.1L1183.8 620.2L1183.6 627.5L1183.4 634.9L1183.2 642.4L1183.1 650.1L1183 657.9L1183 665.6L1183 673.3L1182.9 680.9L1183 688.1L1183 695L1183 701.6L1183 708Z" fill="#00DC00"/>
<circle cx="1186.0" cy="708.0" r="3.0" fill="#00DC00"/>
<circle cx="2147.0" cy="169.5" r="3.0" fill="#00DC00"/>
<path d="M2146 169.6L2146.2 175L2146.5 180.6L2146.6 186.4L2146.7 192.5L2146.8 199L2146.7 205.7L2146.7 212.7L2146.5 219.8L2146.4 227.1L2146.2 234.5L2145.9 241.9L2145.5 249.3L2145.1 256.7L2144.6 264.1L2144.1 271.4L2143.4 278.8L2142.6 286L2141.7 293.3L2140.8 300.5L2139.7 307.7L2138.5 314.9L2137.2 322.1L2135.9 329.3L2134.4 336.4L2132.8 343.6L2131.2 350.6L2129.4 357.5L2127.6 364.3L2125.7 371.1L2123.7 377.7L2121.7 384.1L2119.5 390.5L2117.2 396.8L2114.7 402.9L2112 408.9L2109.2 414.9L2106.1 420.7L2102.9 426.5L2099.6 432.2L2096.2 437.9L2092.7 443.6L2089.1 449.3L2085.4 455L2081.7 460.7L2077.9 466.4L2073.9 472L2069.7 477.6L2065.3 483L2060.7 488.2L2055.9 493.1L2051 497.6L2046 501.7L2040.8 505.5L2035.5 509.1L2029.9 512.6L2024.2 516L2018.3 519.5L2012.3 523L2006.1 526.4L1999.8 529.9L1993.5 533.3L1987.3 536.7L1981.1 539.9L1975.1 543L1969 546.1L1963 549L1956.9 551.7L1950.8 554.4L1944.6 556.8L1938.4 559.2L1932.2 561.3L1926 563.3L1919.8 565.2L1913.5 567L1907 568.7L1900.4 570.4L1893.6 572L1886.8 573.6L1879.8 575.2L1872.8 576.6L1865.9 578L1859.1 579.3L1852.4 580.5L1845.7 581.7L1839 582.8L1832.2 583.9L1825.4 585L1818.4 586L1811.4 587L1804.4 588.1L1797.3 589.1L1790.2 590.2L1783.1 591.2L1776 592.3L1768.9 593.4L1761.8 594.5L1754.8 595.7L1747.7 596.8L1740.6 598L1733.6 599.2L1726.5 600.4L1719.4 601.6L1712.4 602.8L1705.4 604L1698.5 605.2L1691.7 606.3L1684.9 607.4L1678.1 608.4L1671.4 609.4L1664.6 610.4L1657.8 611.3L1650.9 612.1L1644 612.9L1637.1 613.7L1630.1 614.3L1623.2 615L1616.3 615.6L1609.4 616.2L1602.4 616.8L1595.3 617.5L1588.3 618.1L1581.3 618.8L1574.4 619.5L1567.6 620.2L1560.8 621L1554 621.7L1547.1 622.5L1540.2 623.3L1533.3 624.1L1526.3 624.9L1519.2 625.7L1512.2 626.5L1505.1 627.4L1498 628.2L1491 629.1L1484 630L1477 630.9L1470.1 631.7L1463.2 632.6L1456.3 633.5L1449.4 634.3L1442.5 635.2L1435.6 636.1L1428.7 637L1421.8 638L1414.9 639L1408 640L1401.1 641L1394.2 642.1L1387.2 643.3L1380.3 644.4L1373.3 645.7L1366.3 647L1359.3 648.4L1352.2 649.8L1345.1 651.2L1338.1 652.7L1331 654.3L1323.9 655.8L1316.9 657.4L1309.9 659.1L1303 660.8L1296.1 662.5L1289.3 664.2L1282.4 666L1275.5 667.9L1268.5 669.9L1261.4 672.1L1254.1 674.3L1246.8 676.6L1239.5 679L1232.3 681.4L1225.2 683.8L1218.4 686.2L1212 688.5L1205.9 690.6L1200.2 692.7L1195 694.6L1190 696.3L1185.2 698.1L1190 711.9L1194.9 710.3L1199.9 708.6L1205.2 706.8L1210.8 704.8L1216.9 702.8L1223.4 700.6L1230.1 698.3L1237.2 696.1L1244.3 693.8L1251.5 691.5L1258.8 689.3L1265.9 687.2L1272.9 685.2L1279.8 683.2L1286.6 681.4L1293.3 679.6L1300 677.8L1306.8 676.1L1313.7 674.4L1320.5 672.8L1327.5 671.1L1334.4 669.5L1341.4 667.9L1348.4 666.4L1355.3 664.9L1362.3 663.4L1369.2 662L1376.1 660.7L1383 659.4L1389.8 658.2L1396.6 657L1403.5 655.9L1410.3 654.8L1417.1 653.7L1423.9 652.7L1430.8 651.7L1437.6 650.7L1444.4 649.8L1451.3 648.8L1458.2 647.9L1465 647L1471.9 646.1L1478.8 645.2L1485.8 644.3L1492.8 643.4L1499.8 642.5L1506.8 641.6L1513.9 640.7L1520.9 639.9L1527.9 639.1L1534.9 638.3L1541.8 637.5L1548.7 636.7L1555.5 636L1562.3 635.2L1569 634.5L1575.8 633.9L1582.7 633.2L1589.6 632.6L1596.6 632L1603.6 631.5L1610.6 631L1617.5 630.5L1624.5 629.9L1631.5 629.4L1638.5 628.8L1645.6 628.1L1652.7 627.3L1659.7 626.5L1666.7 625.6L1673.6 624.6L1680.4 623.6L1687.3 622.6L1694.1 621.5L1701 620.3L1708 619.2L1715 618L1722 616.7L1729.1 615.5L1736.1 614.3L1743.2 613.1L1750.2 612L1757.2 610.8L1764.2 609.7L1771.3 608.6L1778.3 607.5L1785.3 606.4L1792.4 605.4L1799.5 604.3L1806.6 603.3L1813.7 602.2L1820.7 601.2L1827.7 600.1L1834.6 599L1841.5 597.9L1848.3 596.8L1855.1 595.6L1861.9 594.3L1868.9 593L1875.9 591.5L1883 590L1890.1 588.4L1897.2 586.8L1904.1 585.1L1910.9 583.3L1917.6 581.4L1924.1 579.5L1930.6 577.4L1937.1 575.2L1943.5 572.8L1950 570.1L1956.4 567.3L1962.7 564.4L1969 561.3L1975.1 558.1L1981.2 554.8L1987.3 551.5L1993.5 548.1L1999.7 544.5L2006 541L2012.3 537.3L2018.5 533.6L2024.6 529.9L2030.6 526.1L2036.4 522.3L2042 518.2L2047.4 514L2052.6 509.4L2057.6 504.4L2062.3 499.2L2066.9 493.6L2071.3 487.8L2075.5 482L2079.6 476.1L2083.5 470.2L2087.3 464.3L2090.9 458.5L2094.5 452.7L2098.1 447L2101.6 441.2L2105.1 435.5L2108.5 429.6L2111.7 423.7L2114.8 417.7L2117.7 411.5L2120.4 405.3L2122.9 399L2125.3 392.6L2127.4 386L2129.5 379.4L2131.5 372.7L2133.4 365.9L2135.2 359L2137 352L2138.7 344.9L2140.3 337.7L2141.7 330.4L2143.1 323.2L2144.4 315.9L2145.6 308.6L2146.7 301.3L2147.7 294L2148.6 286.7L2149.3 279.4L2150 272L2150.6 264.5L2151.1 257.1L2151.5 249.6L2151.9 242.1L2152.1 234.7L2152.4 227.3L2152.5 219.9L2152.7 212.7L2152.7 205.7L2152.8 198.9L2152.7 192.4L2152.6 186.2L2152.5 180.4L2152.2 174.8L2152 169.4Z" fill="#00DC00"/>
<circle cx="2149.0" cy="169.5" r="3.0" fill="#00DC00"/>
<circle cx="1187.6" cy="705.0" r="3.0" fill="#00DC00"/>
<path d="M1189 1448.8L1188.5 1442.7L1188 1436.5L1187.6 1430.1L1187.1 1423.4L1186.6 1416.5L1186.1 1409.5L1185.7 1402.3L1185.4 1395.1L1185.3 1387.9L1185.2 1380.8L1185.3 1373.8L1185.7 1366.8L1186.1 1359.9L1186.8 1353L1187.5 1346.2L1188.5 1339.5L1189.5 1332.7L1190.7 1325.9L1192.1 1319.1L1193.6 1312.2L1195.2 1305.3L1197 1298.4L1199 1291.5L1201 1284.8L1203.2 1278.2L1205.4 1271.8L1207.8 1265.6L1210.5 1259.6L1213.4 1253.5L1216.6 1247.6L1220.1 1241.7L1224 1236L1228.2 1230.6L1232.8 1225.6L1237.6 1221L1242.7 1216.8L1248.2 1213.1L1253.9 1209.7L1260 1206.7L1266.4 1203.9L1273.1 1201.3L1279.9 1198.7L1286.9 1196.3L1293.9 1193.9L1300.9 1191.5L1307.9 1189.4L1314.8 1187.4L1321.7 1185.7L1328.7 1184.3L1335.7 1183.1L1342.7 1182L1349.8 1181L1356.8 1180.1L1363.8 1179.3L1370.7 1178.5L1377.7 1177.7L1384.7 1177L1391.9 1176.3L1399.1 1175.5L1406.3 1174.9L1413.5 1174.3L1420.6 1173.7L1427.6 1173.1L1434.6 1172.6L1441.6 1172.1L1448.7 1171.6L1455.9 1171.2L1463.1 1170.7L1470.5 1170.3L1477.9 1169.8L1485.3 1169.4L1492.7 1169L1500 1168.6L1507.2 1168.2L1514.3 1167.9L1521.3 1167.5L1528.4 1167.2L1535.4 1166.9L1542.5 1166.5L1549.6 1166.2L1556.8 1165.9L1564 1165.6L1571.2 1165.3L1578.4 1165L1585.5 1164.6L1592.6 1164.3L1599.7 1164L1606.7 1163.7L1613.6 1163.4L1620.5 1163L1627.4 1162.7L1634.3 1162.4L1641.2 1162L1648 1161.7L1654.9 1161.4L1661.8 1161L1668.7 1160.7L1675.6 1160.4L1682.5 1160L1689.4 1159.7L1696.3 1159.3L1703.2 1159L1710.1 1158.6L1716.9 1158.3L1723.8 1157.9L1730.7 1157.6L1737.5 1157.2L1744.4 1156.8L1751.3 1156.5L1758.1 1156.1L1765 1155.8L1771.9 1155.4L1778.8 1155L1785.6 1154.7L1792.5 1154.3L1799.4 1154L1806.4 1153.6L1813.4 1153.3L1820.4 1152.9L1827.5 1152.6L1834.6 1152.3L1841.8 1152L1848.9 1151.6L1856 1151.3L1863.1 1151L1870 1150.7L1876.9 1150.3L1883.7 1149.9L1890.5 1149.5L1897.3 1149.1L1904 1148.6L1910.9 1148.1L1917.9 1147.5L1924.9 1146.9L1931.9 1146.2L1938.8 1145.4L1945.6 1144.6L1952.4 1143.8L1959.1 1142.8L1965.8 1141.8L1972.5 1140.7L1979.4 1139.5L1986.4 1138.2L1993.4 1136.7L2000.6 1135.2L2007.7 1133.6L2014.8 1132L2021.8 1130.3L2028.8 1128.6L2035.6 1126.8L2042.4 1124.9L2049.2 1122.9L2056 1120.8L2062.7 1118.6L2069.3 1116.2L2075.8 1113.7L2082.1 1111L2088.2 1108.1L2094.3 1105.1L2100.3 1101.9L2106.2 1098.6L2112.1 1095.1L2117.9 1091.4L2123.6 1087.6L2129.2 1083.8L2134.7 1079.9L2140.2 1076.1L2135.8 1069.9L2130.5 1073.8L2125 1077.6L2119.4 1081.3L2113.8 1085L2108.1 1088.6L2102.4 1092L2096.6 1095.2L2090.8 1098.3L2084.9 1101.2L2078.9 1103.9L2072.8 1106.5L2066.6 1108.9L2060.2 1111.2L2053.6 1113.3L2047 1115.4L2040.3 1117.3L2033.6 1119.1L2026.8 1120.9L2019.9 1122.6L2013 1124.3L2006 1125.9L1998.9 1127.5L1991.8 1129L1984.8 1130.4L1977.9 1131.7L1971.2 1132.9L1964.5 1133.9L1957.9 1135L1951.3 1135.9L1944.7 1136.7L1937.9 1137.5L1931.1 1138.2L1924.1 1138.9L1917.2 1139.6L1910.3 1140.1L1903.5 1140.6L1896.7 1141.1L1890 1141.6L1883.3 1141.9L1876.5 1142.3L1869.6 1142.7L1862.7 1143L1855.6 1143.3L1848.5 1143.7L1841.4 1144L1834.3 1144.3L1827.1 1144.6L1820 1145L1813 1145.3L1806 1145.6L1799 1146L1792.1 1146.3L1785.2 1146.7L1778.3 1147L1771.5 1147.4L1764.6 1147.8L1757.7 1148.1L1750.9 1148.5L1744 1148.9L1737.1 1149.2L1730.3 1149.6L1723.4 1149.9L1716.5 1150.3L1709.7 1150.6L1702.8 1151L1695.9 1151.3L1689 1151.7L1682.1 1152L1675.2 1152.4L1668.3 1152.7L1661.4 1153.1L1654.5 1153.4L1647.7 1153.7L1640.8 1154.1L1633.9 1154.4L1627 1154.7L1620.2 1155L1613.3 1155.4L1606.3 1155.7L1599.3 1156L1592.3 1156.3L1585.2 1156.7L1578 1157L1570.8 1157.3L1563.6 1157.6L1556.4 1157.9L1549.3 1158.2L1542.1 1158.5L1535 1158.9L1528 1159.2L1520.9 1159.5L1513.9 1159.9L1506.8 1160.2L1499.6 1160.6L1492.3 1161L1484.9 1161.4L1477.5 1161.8L1470 1162.3L1462.6 1162.7L1455.3 1163.2L1448.1 1163.7L1441 1164.1L1434 1164.6L1427 1165.2L1419.9 1165.7L1412.8 1166.3L1405.6 1166.9L1398.3 1167.6L1391.1 1168.3L1383.9 1169L1376.9 1169.8L1369.8 1170.6L1362.8 1171.4L1355.8 1172.2L1348.7 1173.1L1341.5 1174.1L1334.3 1175.2L1327.2 1176.5L1320 1178L1312.8 1179.8L1305.7 1181.8L1298.6 1184L1291.4 1186.4L1284.3 1188.9L1277.3 1191.4L1270.3 1194L1263.4 1196.7L1256.7 1199.7L1250.2 1203L1244.1 1206.7L1238.2 1210.9L1232.7 1215.5L1227.6 1220.6L1222.8 1226.1L1218.4 1232L1214.4 1238.1L1210.7 1244.3L1207.5 1250.6L1204.5 1256.9L1201.9 1263.2L1199.4 1269.6L1197.1 1276.2L1195 1282.9L1192.9 1289.8L1191 1296.7L1189.2 1303.8L1187.5 1310.8L1186 1317.8L1184.7 1324.8L1183.5 1331.7L1182.4 1338.6L1181.5 1345.5L1180.7 1352.4L1180.1 1359.4L1179.6 1366.4L1179.3 1373.6L1179.2 1380.8L1179.3 1388L1179.4 1395.3L1179.7 1402.6L1180.1 1409.8L1180.6 1416.9L1181 1423.9L1181.5 1430.6L1182 1437L1182.5 1443.2L1183 1449.2Z" fill="#808080"/>
<circle cx="1186.0" cy="1449.0" r="3.0" fill="#808080"/>
<circle cx="2138.0" cy="1073.0" r="3.0" fill="#808080"/>
<path d="M2137 1073.6L2138.2 1079.5L2139.4 1085.6L2140.6 1092L2141.6 1098.6L2142.5 1105.5L2143.2 1112.6L2143.8 1119.9L2144.1 1127.2L2144.2 1134.5L2144.2 1141.7L2143.9 1148.8L2143.5 1155.7L2142.9 1162.4L2142.2 1168.9L2141.3 1175.4L2140.3 1181.9L2139 1188.4L2137.7 1194.9L2136.2 1201.5L2134.5 1208L2132.6 1214.5L2130.6 1220.9L2128.3 1227.3L2125.8 1233.5L2123 1239.6L2120 1245.6L2116.8 1251.4L2113.4 1257.2L2110 1262.9L2106.6 1268.5L2103.1 1274.1L2099.6 1279.6L2096 1285.1L2092.3 1290.5L2088.6 1295.9L2084.7 1301.2L2080.6 1306.3L2076.2 1311.4L2071.6 1316.4L2066.6 1321.2L2061.4 1325.9L2055.8 1330.3L2050.1 1334.4L2044.2 1338.2L2038.2 1341.7L2032.1 1344.8L2026 1347.5L2019.8 1349.8L2013.6 1351.9L2007.2 1353.7L2000.6 1355.3L1993.8 1356.7L1986.8 1358L1979.6 1359.2L1972.5 1360.2L1965.5 1361.1L1958.6 1361.9L1951.8 1362.6L1945.1 1363.2L1938.3 1363.8L1931.3 1364.4L1924.2 1364.9L1917 1365.4L1909.7 1366L1902.3 1366.5L1895 1367L1887.6 1367.5L1880.4 1368L1873.2 1368.5L1866.1 1369L1859 1369.5L1852.1 1369.9L1845.1 1370.4L1838.2 1370.8L1831.4 1371.3L1824.5 1371.7L1817.6 1372.2L1810.8 1372.6L1803.9 1373.1L1797 1373.5L1790.1 1374L1783.3 1374.5L1776.4 1375L1769.5 1375.6L1762.5 1376.2L1755.6 1376.8L1748.5 1377.4L1741.5 1378.1L1734.5 1378.8L1727.4 1379.5L1720.3 1380.2L1713.3 1380.9L1706.3 1381.7L1699.4 1382.4L1692.5 1383.1L1685.7 1383.7L1678.9 1384.3L1672.2 1384.9L1665.4 1385.4L1658.5 1385.8L1651.6 1386.2L1644.7 1386.4L1637.7 1386.7L1630.7 1386.9L1623.8 1387L1616.8 1387.1L1609.9 1387.2L1602.9 1387.4L1595.8 1387.6L1588.8 1387.9L1581.8 1388.2L1574.9 1388.6L1568 1389.1L1561.2 1389.6L1554.4 1390.1L1547.6 1390.7L1540.7 1391.3L1533.7 1391.9L1526.7 1392.6L1519.7 1393.2L1512.6 1393.9L1505.6 1394.5L1498.6 1395.2L1491.5 1395.8L1484.6 1396.3L1477.6 1396.9L1470.7 1397.4L1463.8 1397.9L1457 1398.4L1450.1 1398.8L1443.2 1399.2L1436.4 1399.7L1429.5 1400.1L1422.6 1400.5L1415.7 1400.9L1408.9 1401.4L1402 1401.9L1395.1 1402.4L1388.2 1402.9L1381.3 1403.5L1374.3 1404.1L1367.4 1404.7L1360.4 1405.4L1353.4 1406.1L1346.4 1406.7L1339.4 1407.5L1332.4 1408.2L1325.3 1409L1318.3 1409.8L1311.4 1410.7L1304.5 1411.6L1297.6 1412.7L1290.7 1413.8L1283.8 1415L1276.8 1416.4L1269.7 1418L1262.5 1419.7L1255.2 1421.7L1247.7 1423.8L1240.3 1426L1232.9 1428.4L1225.7 1430.8L1218.8 1433.2L1212.1 1435.5L1205.9 1437.7L1200.1 1439.8L1194.7 1441.7L1189.6 1443.5L1184.7 1445.3L1187.3 1452.7L1192.3 1450.9L1197.4 1449.1L1202.8 1447.1L1208.5 1445.1L1214.7 1442.9L1221.3 1440.6L1228.2 1438.2L1235.3 1435.9L1242.6 1433.6L1250 1431.4L1257.3 1429.3L1264.5 1427.4L1271.5 1425.7L1278.4 1424.2L1285.3 1422.8L1292 1421.6L1298.8 1420.5L1305.6 1419.5L1312.4 1418.6L1319.3 1417.7L1326.2 1416.9L1333.2 1416.1L1340.2 1415.4L1347.2 1414.7L1354.2 1414L1361.2 1413.3L1368.1 1412.7L1375.1 1412.1L1382 1411.5L1388.8 1410.9L1395.7 1410.4L1402.6 1409.9L1409.4 1409.4L1416.3 1408.9L1423.1 1408.5L1430 1408.1L1436.9 1407.6L1443.7 1407.2L1450.6 1406.8L1457.5 1406.3L1464.4 1405.9L1471.3 1405.4L1478.2 1404.9L1485.2 1404.3L1492.2 1403.7L1499.3 1403.1L1506.3 1402.5L1513.4 1401.8L1520.4 1401.2L1527.5 1400.5L1534.5 1399.9L1541.4 1399.3L1548.3 1398.6L1555.1 1398.1L1561.8 1397.5L1568.6 1397L1575.4 1396.6L1582.2 1396.2L1589.2 1395.9L1596.1 1395.6L1603.1 1395.4L1610.1 1395.2L1617 1395.1L1624 1395L1630.9 1394.8L1637.9 1394.7L1645 1394.4L1652 1394.1L1659 1393.8L1665.9 1393.3L1672.8 1392.8L1679.6 1392.3L1686.4 1391.7L1693.3 1391L1700.2 1390.3L1707.1 1389.6L1714.1 1388.9L1721.1 1388.2L1728.2 1387.4L1735.2 1386.7L1742.3 1386L1749.3 1385.4L1756.3 1384.7L1763.2 1384.1L1770.1 1383.5L1777 1383L1783.9 1382.5L1790.7 1382L1797.6 1381.5L1804.4 1381.1L1811.3 1380.6L1818.1 1380.2L1825 1379.7L1831.9 1379.3L1838.8 1378.8L1845.7 1378.4L1852.6 1377.9L1859.6 1377.4L1866.6 1377L1873.7 1376.5L1880.9 1376L1888.2 1375.5L1895.5 1375L1902.9 1374.5L1910.2 1373.9L1917.6 1373.4L1924.8 1372.9L1931.9 1372.3L1938.9 1371.8L1945.8 1371.2L1952.6 1370.6L1959.5 1369.9L1966.5 1369.1L1973.6 1368.1L1980.9 1367.1L1988.2 1365.9L1995.4 1364.5L2002.4 1363L2009.3 1361.3L2015.9 1359.4L2022.5 1357.2L2029 1354.6L2035.5 1351.7L2041.8 1348.4L2048.2 1344.7L2054.3 1340.6L2060.3 1336.2L2066.1 1331.4L2071.6 1326.5L2076.7 1321.4L2081.5 1316.1L2086 1310.8L2090.2 1305.4L2094.2 1299.9L2098 1294.4L2101.7 1288.9L2105.3 1283.3L2108.8 1277.7L2112.3 1272L2115.8 1266.3L2119.2 1260.5L2122.6 1254.6L2125.8 1248.6L2128.9 1242.4L2131.7 1236L2134.3 1229.6L2136.6 1223L2138.7 1216.3L2140.5 1209.6L2142.2 1202.9L2143.7 1196.2L2145.1 1189.6L2146.3 1182.9L2147.4 1176.3L2148.3 1169.7L2149 1162.9L2149.5 1156.1L2149.9 1149.1L2150.2 1141.8L2150.2 1134.5L2150.1 1127L2149.8 1119.6L2149.3 1112.1L2148.6 1104.8L2147.7 1097.7L2146.6 1091L2145.5 1084.5L2144.3 1078.4L2143 1072.4Z" fill="#808080"/>
<circle cx="2140.0" cy="1073.0" r="3.0" fill="#808080"/>
<circle cx="1186.0" cy="1449.0" r="3.0" fill="#808080"/>
<path d="M1187 1480.1L1187.3 1474L1187.6 1467.7L1187.9 1461.2L1188.3 1454.6L1188.7 1447.7L1189.1 1440.8L1189.6 1434L1190.2 1427.2L1190.9 1420.5L1191.7 1413.8L1192.7 1407.3L1193.9 1400.7L1195.3 1394.2L1196.8 1387.6L1198.5 1381L1200.3 1374.4L1202.1 1367.7L1203.9 1360.9L1205.7 1354.1L1207.5 1347.3L1209.3 1340.5L1211.1 1333.7L1213 1327L1215 1320.3L1217.2 1313.8L1219.6 1307.3L1222.2 1300.9L1224.9 1294.7L1227.8 1288.6L1230.8 1282.7L1234 1276.9L1237.3 1271.2L1240.8 1265.6L1244.5 1260.1L1248.3 1254.6L1252.2 1249.1L1256.2 1243.7L1260.2 1238.3L1264.4 1233L1268.6 1227.7L1273 1222.4L1277.5 1217.3L1282.3 1212.4L1287.2 1207.8L1292.4 1203.3L1297.8 1199.2L1303.4 1195.3L1309.3 1191.7L1315.4 1188.3L1321.7 1185L1328.1 1182L1334.7 1179.1L1341.3 1176.3L1348 1173.6L1354.7 1171.1L1361.5 1168.7L1368.3 1166.3L1375.1 1164.1L1382.1 1161.9L1389 1159.9L1395.9 1157.9L1402.8 1156L1409.5 1154.3L1416.2 1152.6L1422.8 1151.1L1429.4 1149.7L1435.9 1148.3L1442.5 1147.1L1449.2 1145.9L1456 1144.8L1462.9 1143.7L1469.8 1142.8L1476.6 1141.9L1483.4 1141L1490 1140.2L1496.6 1139.5L1503.2 1138.8L1509.8 1138.1L1516.6 1137.5L1523.4 1136.9L1530.4 1136.3L1537.4 1135.7L1544.5 1135.2L1551.7 1134.6L1559 1134.1L1566.2 1133.6L1573.4 1133.1L1580.6 1132.6L1587.8 1132.2L1595 1131.7L1602.2 1131.3L1609.5 1130.9L1616.9 1130.6L1624.3 1130.2L1631.7 1129.9L1639.1 1129.5L1646.5 1129.2L1653.8 1128.9L1661 1128.6L1668 1128.3L1675 1128L1681.8 1127.8L1688.6 1127.5L1695.3 1127.2L1702.2 1126.9L1709 1126.6L1715.8 1126.4L1722.5 1126.1L1729.1 1125.8L1735.6 1125.5L1742.1 1125.3L1748.7 1125L1755.2 1124.7L1761.8 1124.4L1768.4 1124.1L1775 1123.8L1781.7 1123.5L1788.3 1123.2L1795.1 1122.9L1802 1122.6L1809 1122.2L1816.1 1121.9L1823.2 1121.6L1830.4 1121.2L1837.6 1120.8L1844.8 1120.4L1851.9 1120.1L1859.1 1119.7L1866.2 1119.3L1873.3 1118.9L1880.4 1118.4L1887.5 1118L1894.7 1117.6L1901.8 1117.2L1909 1116.7L1916.1 1116.3L1923.2 1115.8L1930.1 1115.3L1937 1114.8L1943.8 1114.3L1950.6 1113.8L1957.4 1113.3L1964.2 1112.7L1971.1 1112.1L1978.2 1111.4L1985.3 1110.7L1992.4 1109.9L1999.4 1109.1L2006.3 1108.3L2013.1 1107.4L2019.7 1106.5L2026.3 1105.5L2032.9 1104.4L2039.5 1103.2L2046.1 1102L2052.8 1100.6L2059.4 1099.2L2066 1097.7L2072.5 1096.1L2079.1 1094.4L2085.6 1092.5L2092.3 1090.5L2099 1088.4L2105.7 1086.2L2112.3 1083.8L2118.8 1081.5L2125.1 1079L2131.2 1076.6L2137.1 1074.2L2134.3 1067L2128.3 1069.4L2122.2 1071.8L2116 1074.1L2109.7 1076.5L2103.2 1078.8L2096.6 1080.9L2090 1083L2083.5 1084.9L2077 1086.7L2070.6 1088.4L2064.2 1090L2057.7 1091.5L2051.2 1092.9L2044.6 1094.2L2038.1 1095.4L2031.6 1096.5L2025.1 1097.6L2018.6 1098.6L2012 1099.5L2005.3 1100.4L1998.5 1101.2L1991.5 1102L1984.5 1102.7L1977.4 1103.5L1970.4 1104.1L1963.5 1104.7L1956.7 1105.3L1950 1105.9L1943.2 1106.4L1936.5 1106.9L1929.6 1107.4L1922.6 1107.8L1915.6 1108.3L1908.5 1108.7L1901.3 1109.2L1894.2 1109.6L1887.1 1110L1879.9 1110.5L1872.8 1110.9L1865.7 1111.3L1858.6 1111.7L1851.5 1112.1L1844.4 1112.5L1837.2 1112.8L1830 1113.2L1822.8 1113.6L1815.7 1113.9L1808.6 1114.3L1801.6 1114.6L1794.7 1114.9L1788 1115.2L1781.3 1115.5L1774.7 1115.9L1768.1 1116.2L1761.5 1116.4L1754.9 1116.7L1748.3 1117L1741.8 1117.3L1735.3 1117.6L1728.8 1117.8L1722.2 1118.1L1715.5 1118.4L1708.7 1118.6L1701.8 1118.9L1695 1119.2L1688.2 1119.5L1681.4 1119.8L1674.6 1120L1667.7 1120.3L1660.7 1120.6L1653.5 1120.9L1646.2 1121.2L1638.8 1121.6L1631.3 1121.9L1623.9 1122.2L1616.5 1122.6L1609.1 1123L1601.8 1123.3L1594.5 1123.8L1587.3 1124.2L1580.1 1124.6L1572.9 1125.1L1565.6 1125.6L1558.4 1126.1L1551.1 1126.6L1543.9 1127.2L1536.8 1127.8L1529.7 1128.3L1522.7 1128.9L1515.8 1129.6L1509.1 1130.2L1502.4 1130.9L1495.8 1131.6L1489.1 1132.3L1482.4 1133.1L1475.6 1133.9L1468.7 1134.9L1461.7 1135.9L1454.8 1136.9L1447.9 1138.1L1441.1 1139.3L1434.4 1140.5L1427.7 1141.9L1421.1 1143.4L1414.4 1144.9L1407.6 1146.6L1400.7 1148.4L1393.8 1150.3L1386.8 1152.3L1379.7 1154.4L1372.7 1156.6L1365.8 1158.9L1358.8 1161.3L1352 1163.8L1345.2 1166.4L1338.4 1169.1L1331.6 1171.9L1324.9 1175L1318.2 1178.2L1311.7 1181.6L1305.4 1185.2L1299.2 1189L1293.3 1193.2L1287.7 1197.6L1282.3 1202.4L1277.2 1207.3L1272.3 1212.5L1267.7 1217.8L1263.2 1223.2L1258.9 1228.7L1254.7 1234.1L1250.6 1239.6L1246.6 1245.1L1242.6 1250.7L1238.8 1256.3L1235.1 1262L1231.5 1267.8L1228.2 1273.6L1224.9 1279.6L1221.9 1285.8L1218.9 1292L1216.2 1298.5L1213.6 1305L1211.2 1311.7L1209 1318.4L1207 1325.2L1205 1332L1203.2 1338.9L1201.4 1345.7L1199.7 1352.5L1197.9 1359.3L1196.1 1366.1L1194.2 1372.8L1192.5 1379.5L1190.8 1386.2L1189.2 1392.8L1187.9 1399.5L1186.7 1406.3L1185.7 1413L1184.9 1419.8L1184.2 1426.6L1183.6 1433.5L1183.1 1440.4L1182.7 1447.3L1182.3 1454.2L1181.9 1460.9L1181.6 1467.4L1181.3 1473.7L1181 1479.9Z" fill="#000000"/>
<circle cx="1184.0" cy="1480.0" r="3.0" fill="#000000"/>
<circle cx="2135.7" cy="1070.6" r="3.0" fill="#000000"/>
<path d="M2134 1071.3L2134.6 1077.6L2135.2 1084L2135.6 1090.6L2135.9 1097.4L2136 1104.4L2135.9 1111.4L2135.6 1118.5L2135.2 1125.5L2134.7 1132.5L2134 1139.4L2133.3 1146.2L2132.3 1153.1L2131.2 1159.9L2130 1166.7L2128.6 1173.5L2127 1180.3L2125.2 1187.2L2123.2 1194L2121.1 1200.7L2118.8 1207.4L2116.4 1214L2113.8 1220.4L2111.1 1226.7L2108.4 1232.7L2105.5 1238.7L2102.5 1244.7L2099.3 1250.6L2096.1 1256.5L2092.6 1262.4L2089 1268.1L2085.2 1273.7L2081.3 1279.1L2077.1 1284.2L2072.8 1289.2L2068.3 1294.1L2063.6 1298.7L2058.8 1303.3L2053.8 1307.7L2048.6 1311.9L2043.3 1315.9L2037.9 1319.7L2032.3 1323.3L2026.7 1326.8L2021 1330.1L2015.3 1333.3L2009.5 1336.4L2003.7 1339.3L1997.8 1342.2L1991.8 1345L1985.6 1347.6L1979.3 1350.2L1972.9 1352.6L1966.6 1354.8L1960.2 1356.9L1954 1358.9L1947.8 1360.7L1941.7 1362.3L1935.5 1363.7L1929.4 1365.1L1923.1 1366.3L1916.8 1367.5L1910.2 1368.6L1903.4 1369.7L1896.4 1370.8L1889.2 1372L1881.9 1373.1L1874.6 1374.2L1867.4 1375.4L1860.4 1376.4L1853.5 1377.5L1846.7 1378.6L1839.9 1379.6L1833.1 1380.7L1826.3 1381.7L1819.3 1382.8L1812.2 1383.8L1805.1 1384.9L1798 1386L1790.9 1387L1783.7 1388L1776.6 1389L1769.6 1390L1762.5 1391L1755.5 1391.9L1748.5 1392.8L1741.4 1393.7L1734.4 1394.5L1727.3 1395.4L1720.3 1396.2L1713.2 1397L1706.3 1397.8L1699.3 1398.6L1692.4 1399.4L1685.6 1400.1L1678.8 1400.9L1672.1 1401.6L1665.2 1402.4L1658.3 1403.2L1651.4 1403.9L1644.4 1404.7L1637.4 1405.5L1630.4 1406.2L1623.4 1407L1616.5 1407.8L1609.5 1408.5L1602.6 1409.3L1595.5 1410.1L1588.5 1410.8L1581.6 1411.6L1574.7 1412.4L1567.9 1413.2L1561.1 1413.9L1554.3 1414.7L1547.5 1415.5L1540.6 1416.3L1533.6 1417.1L1526.6 1417.9L1519.6 1418.7L1512.5 1419.5L1505.5 1420.4L1498.4 1421.2L1491.4 1422L1484.4 1422.9L1477.4 1423.7L1470.5 1424.6L1463.6 1425.5L1456.7 1426.3L1449.8 1427.2L1443 1428.1L1436.1 1429L1429.2 1429.9L1422.3 1430.8L1415.5 1431.7L1408.6 1432.6L1401.7 1433.6L1394.8 1434.5L1387.9 1435.5L1381 1436.5L1374.1 1437.5L1367.2 1438.6L1360.2 1439.6L1353.3 1440.7L1346.3 1441.7L1339.3 1442.8L1332.2 1444L1325.3 1445.1L1318.3 1446.2L1311.3 1447.4L1304.4 1448.6L1297.6 1449.8L1290.7 1451.1L1283.8 1452.4L1276.8 1453.7L1269.7 1455.2L1262.5 1456.7L1255 1458.4L1247.5 1460.1L1240 1461.9L1232.5 1463.7L1225.1 1465.5L1218 1467.2L1211.2 1469L1204.8 1470.6L1198.9 1472.1L1193.3 1473.5L1188.1 1474.9L1183 1476.2L1185 1483.8L1190 1482.5L1195.3 1481.2L1200.8 1479.8L1206.8 1478.2L1213.2 1476.6L1219.9 1474.9L1227 1473.1L1234.3 1471.4L1241.8 1469.6L1249.3 1467.8L1256.8 1466.1L1264.1 1464.5L1271.3 1463L1278.4 1461.5L1285.3 1460.2L1292.2 1458.9L1299 1457.6L1305.8 1456.4L1312.7 1455.2L1319.6 1454.1L1326.5 1452.9L1333.5 1451.8L1340.5 1450.7L1347.5 1449.6L1354.5 1448.5L1361.4 1447.5L1368.4 1446.4L1375.3 1445.4L1382.2 1444.4L1389.1 1443.4L1396 1442.4L1402.8 1441.5L1409.7 1440.5L1416.5 1439.6L1423.4 1438.7L1430.3 1437.8L1437.1 1436.9L1444 1436L1450.8 1435.1L1457.7 1434.2L1464.6 1433.4L1471.5 1432.5L1478.4 1431.7L1485.4 1430.8L1492.4 1430L1499.4 1429.1L1506.4 1428.3L1513.5 1427.4L1520.5 1426.6L1527.6 1425.8L1534.6 1425L1541.5 1424.2L1548.4 1423.4L1555.2 1422.6L1562 1421.9L1568.8 1421.1L1575.6 1420.3L1582.5 1419.5L1589.4 1418.8L1596.4 1418L1603.4 1417.2L1610.4 1416.5L1617.4 1415.7L1624.3 1414.9L1631.3 1414.2L1638.2 1413.4L1645.3 1412.6L1652.3 1411.9L1659.2 1411.1L1666.1 1410.3L1672.9 1409.6L1679.7 1408.8L1686.5 1408.1L1693.3 1407.3L1700.2 1406.5L1707.2 1405.7L1714.2 1404.9L1721.2 1404.1L1728.3 1403.3L1735.3 1402.4L1742.4 1401.6L1749.5 1400.7L1756.5 1399.8L1763.6 1398.9L1770.7 1397.9L1777.7 1396.9L1784.9 1395.9L1792 1394.9L1799.2 1393.8L1806.3 1392.8L1813.4 1391.7L1820.5 1390.7L1827.5 1389.6L1834.4 1388.5L1841.2 1387.5L1847.9 1386.4L1854.7 1385.4L1861.6 1384.3L1868.6 1383.2L1875.8 1382.1L1883.1 1381L1890.4 1379.8L1897.7 1378.7L1904.7 1377.6L1911.6 1376.4L1918.2 1375.3L1924.6 1374.1L1931 1372.8L1937.3 1371.5L1943.6 1369.9L1949.9 1368.3L1956.2 1366.4L1962.6 1364.4L1969.1 1362.3L1975.6 1359.9L1982.2 1357.4L1988.6 1354.8L1995 1352L2001.1 1349.2L2007.2 1346.2L2013.1 1343.2L2019 1340L2024.8 1336.7L2030.6 1333.3L2036.4 1329.7L2042.1 1325.9L2047.7 1321.9L2053.2 1317.7L2058.5 1313.3L2063.7 1308.7L2068.7 1303.9L2073.5 1299L2078.1 1293.9L2082.5 1288.7L2086.8 1283.3L2090.9 1277.6L2094.7 1271.8L2098.4 1265.8L2101.9 1259.8L2105.2 1253.7L2108.4 1247.7L2111.4 1241.6L2114.3 1235.5L2117.1 1229.3L2119.8 1222.9L2122.4 1216.3L2124.8 1209.6L2127.1 1202.7L2129.3 1195.8L2131.2 1188.8L2133 1181.8L2134.6 1174.8L2136 1167.9L2137.3 1160.9L2138.4 1154L2139.3 1147L2140.1 1140L2140.7 1133L2141.2 1125.9L2141.6 1118.8L2141.9 1111.6L2142 1104.4L2141.9 1097.3L2141.6 1090.3L2141.2 1083.6L2140.6 1077.1L2140 1070.7Z" fill="#000000"/>
<circle cx="2137.0" cy="1071.0" r="3.0" fill="#000000"/>
<circle cx="1184.0" cy="1480.0" r="3.0" fill="#000000"/>
<path d="M1188 1529L1188 1523.2L1188.1 1517.1L1188.1 1510.7L1188.2 1503.9L1188.3 1496.7L1188.4 1489.1L1188.5 1481.4L1188.6 1473.5L1188.7 1465.7L1188.9 1458L1189.1 1450.4L1189.4 1442.9L1189.6 1435.6L1189.9 1428.3L1190.3 1421.1L1190.6 1414L1191.1 1407.1L1191.6 1400.1L1192.1 1393.2L1192.8 1386.3L1193.6 1379.4L1194.4 1372.5L1195.4 1365.5L1196.5 1358.6L1197.6 1351.7L1198.9 1345L1200.4 1338.3L1201.9 1331.8L1203.6 1325.3L1205.5 1318.9L1207.6 1312.6L1209.8 1306.4L1212.2 1300.2L1214.8 1294.2L1217.5 1288.2L1220.5 1282.2L1223.6 1276.3L1226.9 1270.3L1230.4 1264.5L1233.9 1258.7L1237.6 1253L1241.4 1247.3L1245.4 1241.7L1249.4 1236.2L1253.6 1230.7L1257.9 1225.3L1262.3 1220L1266.9 1214.8L1271.6 1209.7L1276.4 1204.8L1281.3 1200L1286.4 1195.3L1291.6 1190.9L1296.8 1186.7L1302.1 1182.7L1307.5 1178.9L1313 1175.2L1318.7 1171.7L1324.5 1168.3L1330.4 1165L1336.5 1161.9L1342.7 1159L1349.1 1156.2L1355.5 1153.5L1362.1 1151.1L1368.8 1148.7L1375.6 1146.4L1382.5 1144.3L1389.4 1142.2L1396.3 1140.2L1403.1 1138.4L1409.9 1136.7L1416.6 1135L1423.1 1133.5L1429.7 1132.1L1436.2 1130.8L1442.8 1129.6L1449.5 1128.4L1456.3 1127.3L1463.1 1126.2L1470 1125.2L1476.9 1124.3L1483.6 1123.4L1490.2 1122.6L1496.8 1121.8L1503.4 1121L1510.1 1120.3L1516.8 1119.5L1523.6 1118.9L1530.6 1118.2L1537.6 1117.5L1544.7 1116.9L1551.9 1116.2L1559.1 1115.6L1566.3 1115.1L1573.5 1114.5L1580.7 1114L1587.9 1113.6L1595.1 1113.2L1602.3 1112.8L1609.6 1112.4L1616.9 1112.1L1624.3 1111.8L1631.7 1111.4L1639.2 1111.2L1646.6 1110.9L1653.9 1110.6L1661 1110.3L1668.1 1110.1L1675 1109.8L1681.9 1109.5L1688.7 1109.2L1695.5 1108.8L1702.3 1108.4L1709.2 1108L1716 1107.5L1722.8 1107L1729.4 1106.5L1735.9 1105.9L1742.4 1105.4L1749 1104.8L1755.5 1104.2L1762.1 1103.7L1768.7 1103.1L1775.3 1102.6L1781.9 1102L1788.6 1101.5L1795.4 1101L1802.2 1100.4L1809.2 1099.9L1816.3 1099.3L1823.5 1098.7L1830.7 1098.1L1837.9 1097.5L1845.1 1096.9L1852.2 1096.2L1859.4 1095.6L1866.5 1094.9L1873.6 1094.2L1880.7 1093.5L1887.9 1092.7L1895 1092L1902.2 1091.2L1909.3 1090.4L1916.5 1089.6L1923.5 1088.8L1930.5 1088L1937.4 1087.2L1944.2 1086.3L1951 1085.4L1957.8 1084.5L1964.6 1083.5L1971.6 1082.4L1978.7 1081.3L1985.8 1080.1L1992.9 1078.8L2000 1077.5L2006.9 1076.1L2013.7 1074.7L2020.4 1073.2L2027 1071.7L2033.6 1070L2040.2 1068.3L2046.8 1066.4L2053.5 1064.4L2060.2 1062.3L2066.8 1060.1L2073.3 1057.9L2079.8 1055.5L2086.4 1053L2093 1050.4L2099.6 1047.5L2106.4 1044.4L2113 1041L2119.5 1037.3L2125.8 1033.3L2131.8 1029L2137.5 1024.6L2142.8 1020.1L2148 1015.6L2142 1008.4L2136.9 1012.8L2131.6 1017.1L2126.1 1021.2L2120.4 1025.1L2114.5 1028.7L2108.3 1032.1L2101.9 1035.2L2095.4 1038.1L2089 1040.7L2082.6 1043.3L2076.2 1045.6L2069.8 1047.9L2063.4 1050.1L2056.9 1052.2L2050.4 1054.2L2043.9 1056.1L2037.4 1057.9L2030.9 1059.6L2024.4 1061.2L2018 1062.7L2011.4 1064.1L2004.8 1065.5L1997.9 1066.8L1991 1068.1L1984 1069.4L1976.9 1070.5L1969.9 1071.6L1963 1072.7L1956.3 1073.6L1949.6 1074.6L1942.8 1075.4L1936.1 1076.3L1929.2 1077.1L1922.3 1077.9L1915.2 1078.8L1908.1 1079.5L1901 1080.3L1893.9 1081.1L1886.7 1081.8L1879.6 1082.6L1872.5 1083.3L1865.4 1084L1858.3 1084.7L1851.2 1085.3L1844.1 1086L1836.9 1086.6L1829.7 1087.2L1822.6 1087.8L1815.4 1088.4L1808.3 1088.9L1801.4 1089.5L1794.5 1090L1787.7 1090.6L1781 1091.1L1774.4 1091.6L1767.8 1092.2L1761.2 1092.7L1754.6 1093.3L1748 1093.9L1741.5 1094.4L1735 1095L1728.5 1095.5L1721.9 1096.1L1715.2 1096.6L1708.5 1097L1701.7 1097.4L1694.9 1097.8L1688.1 1098.2L1681.4 1098.5L1674.6 1098.8L1667.7 1099.1L1660.6 1099.3L1653.4 1099.6L1646.1 1099.9L1638.7 1100.2L1631.3 1100.5L1623.8 1100.8L1616.4 1101.1L1609 1101.4L1601.7 1101.8L1594.4 1102.2L1587.2 1102.6L1580 1103.1L1572.7 1103.6L1565.5 1104.1L1558.2 1104.7L1551 1105.3L1543.7 1105.9L1536.6 1106.6L1529.5 1107.3L1522.5 1107.9L1515.6 1108.7L1508.9 1109.4L1502.2 1110.1L1495.5 1110.9L1488.9 1111.7L1482.2 1112.5L1475.4 1113.4L1468.5 1114.4L1461.5 1115.4L1454.6 1116.5L1447.7 1117.6L1440.8 1118.9L1434.1 1120.1L1427.4 1121.5L1420.8 1123L1414.1 1124.5L1407.3 1126.2L1400.4 1128L1393.4 1129.9L1386.4 1131.9L1379.3 1134.1L1372.3 1136.3L1365.3 1138.7L1358.4 1141.2L1351.6 1143.8L1344.9 1146.6L1338.4 1149.6L1331.9 1152.8L1325.6 1156.1L1319.5 1159.6L1313.5 1163.2L1307.6 1167L1301.9 1170.9L1296.4 1175L1290.9 1179.3L1285.5 1183.8L1280.2 1188.5L1275.1 1193.4L1270 1198.5L1265.1 1203.7L1260.4 1209.1L1255.8 1214.5L1251.3 1220L1247 1225.6L1242.8 1231.2L1238.7 1237L1234.7 1242.8L1230.9 1248.6L1227.2 1254.5L1223.6 1260.5L1220.2 1266.6L1216.9 1272.7L1213.8 1278.9L1210.8 1285.1L1208.1 1291.3L1205.6 1297.6L1203.2 1304L1201 1310.4L1199 1317L1197.2 1323.6L1195.5 1330.2L1194 1336.9L1192.6 1343.7L1191.4 1350.6L1190.2 1357.6L1189.2 1364.6L1188.2 1371.7L1187.4 1378.7L1186.7 1385.7L1186 1392.7L1185.5 1399.7L1185 1406.7L1184.6 1413.7L1184.2 1420.8L1183.9 1428L1183.6 1435.3L1183.3 1442.7L1183.1 1450.2L1182.9 1457.8L1182.7 1465.6L1182.6 1473.4L1182.4 1481.3L1182.3 1489L1182.3 1496.6L1182.2 1503.8L1182.1 1510.7L1182.1 1517.1L1182 1523.1L1182 1529Z" fill="#FF0000"/>
<circle cx="1185.0" cy="1529.0" r="3.0" fill="#FF0000"/>
<circle cx="2145.0" cy="1012.0" r="3.0" fill="#FF0000"/>
<path d="M2143 1012L2143.1 1018.2L2143.2 1024.4L2143.2 1031L2143.3 1037.9L2143.4 1045L2143.4 1052.3L2143.3 1059.6L2143.2 1067L2143.1 1074.3L2143 1081.5L2142.7 1088.7L2142.4 1095.8L2142.1 1102.8L2141.7 1109.8L2141.2 1116.6L2140.6 1123.3L2140 1130L2139.3 1136.6L2138.5 1143.2L2137.6 1149.8L2136.6 1156.4L2135.5 1163.1L2134.4 1169.7L2133.1 1176.4L2131.8 1183.2L2130.4 1189.9L2128.8 1196.7L2127.1 1203.5L2125.2 1210.3L2123.2 1217L2121.1 1223.6L2118.8 1230.2L2116.3 1236.6L2113.6 1243L2110.6 1249.2L2107.5 1255.3L2104.1 1261.3L2100.5 1267.3L2096.7 1273.2L2092.7 1279.1L2088.4 1284.9L2083.9 1290.6L2079.2 1296.2L2074.3 1301.6L2069.3 1306.9L2064.1 1311.9L2058.9 1316.8L2053.6 1321.4L2048.2 1325.9L2042.7 1330.1L2037.1 1334.1L2031.4 1338L2025.7 1341.6L2019.9 1345.2L2014 1348.5L2008 1351.8L2002.1 1354.9L1996.1 1357.9L1990.1 1360.8L1984.1 1363.7L1978.1 1366.6L1972 1369.4L1965.9 1372.3L1959.8 1375.2L1953.5 1378L1947.3 1380.8L1940.9 1383.4L1934.5 1385.9L1928.1 1388.3L1921.8 1390.5L1915.3 1392.7L1908.7 1394.7L1902 1396.7L1895.1 1398.7L1888 1400.6L1880.8 1402.5L1873.6 1404.4L1866.4 1406.1L1859.3 1407.8L1852.3 1409.3L1845.3 1410.9L1838.3 1412.3L1831.2 1413.8L1824 1415.2L1816.8 1416.6L1809.5 1418L1802.3 1419.4L1795.2 1420.7L1788.2 1422L1781.3 1423.2L1774.4 1424.4L1767.7 1425.6L1761 1426.7L1754.3 1427.7L1747.8 1428.7L1741.3 1429.6L1734.8 1430.4L1728.3 1431.2L1721.7 1431.9L1715.1 1432.7L1708.3 1433.3L1701.5 1434L1694.7 1434.6L1687.9 1435.3L1681.1 1435.9L1674.3 1436.5L1667.4 1437L1660.4 1437.6L1653.2 1438.2L1645.9 1438.8L1638.5 1439.4L1631.1 1440.1L1623.6 1440.7L1616.2 1441.3L1608.8 1442L1601.5 1442.6L1594.3 1443.3L1587.1 1443.9L1580 1444.6L1572.9 1445.3L1565.9 1446L1558.8 1446.8L1551.8 1447.5L1544.9 1448.2L1538 1449L1531.2 1449.8L1524.4 1450.5L1517.6 1451.3L1510.9 1452.2L1504.1 1453L1497.3 1453.9L1490.6 1454.8L1483.7 1455.8L1476.9 1456.7L1470.1 1457.8L1463.2 1458.8L1456.3 1459.9L1449.4 1461.1L1442.6 1462.2L1435.7 1463.4L1428.8 1464.6L1421.9 1465.8L1415 1467.1L1408.2 1468.3L1401.3 1469.6L1394.4 1470.8L1387.5 1472.1L1380.6 1473.4L1373.7 1474.6L1366.8 1475.9L1359.8 1477.1L1352.8 1478.3L1345.8 1479.6L1338.8 1480.8L1331.8 1482L1324.7 1483.3L1317.7 1484.6L1310.8 1485.9L1303.8 1487.3L1297 1488.7L1290.1 1490.2L1283.2 1491.8L1276.3 1493.5L1269.3 1495.4L1262.1 1497.4L1254.9 1499.5L1247.6 1501.9L1240.3 1504.3L1233 1506.7L1225.9 1509.2L1219.1 1511.7L1212.6 1514.1L1206.5 1516.3L1200.9 1518.4L1195.6 1520.4L1190.6 1522.3L1185.8 1524.1L1189.4 1533.9L1194.3 1532.1L1199.3 1530.3L1204.5 1528.3L1210.2 1526.2L1216.3 1524L1222.7 1521.6L1229.5 1519.2L1236.5 1516.8L1243.6 1514.3L1250.8 1512L1258 1509.8L1265.1 1507.7L1272.1 1505.7L1279 1503.9L1285.7 1502.3L1292.5 1500.8L1299.2 1499.3L1306 1497.9L1312.8 1496.6L1319.7 1495.3L1326.7 1494L1333.7 1492.7L1340.7 1491.5L1347.7 1490.3L1354.7 1489L1361.7 1487.8L1368.7 1486.6L1375.7 1485.3L1382.6 1484.1L1389.5 1482.8L1396.4 1481.5L1403.2 1480.3L1410.1 1479L1417 1477.8L1423.8 1476.5L1430.7 1475.3L1437.5 1474.1L1444.4 1473L1451.2 1471.8L1458.1 1470.7L1464.9 1469.6L1471.7 1468.6L1478.5 1467.5L1485.3 1466.6L1492 1465.6L1498.8 1464.7L1505.5 1463.9L1512.2 1463L1518.9 1462.2L1525.7 1461.4L1532.4 1460.6L1539.2 1459.9L1546.1 1459.1L1553 1458.4L1560 1457.7L1567 1456.9L1574 1456.2L1581.1 1455.5L1588.2 1454.9L1595.3 1454.2L1602.5 1453.5L1609.8 1452.9L1617.1 1452.3L1624.5 1451.6L1632 1451L1639.4 1450.4L1646.8 1449.8L1654.1 1449.2L1661.3 1448.6L1668.3 1448L1675.3 1447.4L1682.1 1446.8L1688.9 1446.2L1695.7 1445.6L1702.5 1444.9L1709.4 1444.2L1716.2 1443.6L1722.9 1442.8L1729.6 1442.1L1736.2 1441.3L1742.7 1440.4L1749.3 1439.5L1756 1438.5L1762.7 1437.4L1769.5 1436.3L1776.3 1435.2L1783.1 1434L1790.1 1432.7L1797.2 1431.4L1804.3 1430.1L1811.6 1428.7L1818.8 1427.3L1826.1 1425.9L1833.3 1424.4L1840.5 1422.9L1847.6 1421.4L1854.7 1419.9L1861.8 1418.3L1868.9 1416.6L1876.2 1414.8L1883.5 1413L1890.8 1411L1898 1409L1905 1407L1911.9 1404.9L1918.6 1402.8L1925.2 1400.6L1931.8 1398.2L1938.3 1395.7L1944.9 1393.1L1951.4 1390.3L1957.8 1387.5L1964.1 1384.6L1970.3 1381.7L1976.4 1378.7L1982.5 1375.8L1988.6 1372.9L1994.6 1370L2000.7 1367L2006.8 1363.9L2012.9 1360.7L2018.9 1357.3L2025 1353.7L2031 1350L2036.9 1346.1L2042.7 1342L2048.5 1337.7L2054.1 1333.2L2059.6 1328.5L2065.1 1323.5L2070.4 1318.4L2075.7 1313.1L2080.8 1307.5L2085.8 1301.8L2090.5 1295.9L2095 1289.9L2099.4 1283.8L2103.4 1277.6L2107.3 1271.4L2110.9 1265.1L2114.2 1258.8L2117.3 1252.4L2120.2 1245.9L2122.9 1239.3L2125.3 1232.6L2127.6 1225.8L2129.7 1219L2131.7 1212.1L2133.5 1205.2L2135.2 1198.2L2136.7 1191.3L2138.1 1184.4L2139.4 1177.6L2140.7 1170.8L2141.8 1164.1L2142.8 1157.4L2143.8 1150.7L2144.6 1144L2145.4 1137.3L2146.1 1130.6L2146.7 1123.9L2147.3 1117.1L2147.8 1110.1L2148.2 1103.2L2148.5 1096.1L2148.8 1088.9L2149 1081.7L2149.1 1074.4L2149.3 1067.1L2149.3 1059.7L2149.4 1052.3L2149.4 1045L2149.3 1037.8L2149.3 1030.9L2149.2 1024.4L2149.1 1018.1L2149 1012Z" fill="#FF0000"/>
<circle cx="2146.0" cy="1012.0" r="3.0" fill="#FF0000"/>
<circle cx="1187.6" cy="1529.0" r="3.0" fill="#FF0000"/>
<path d="M1189 1535.2L1189.4 1528.7L1189.7 1522.2L1190.1 1515.4L1190.6 1508.4L1191 1501.3L1191.5 1494.1L1192 1486.8L1192.6 1479.5L1193.2 1472.3L1193.8 1465L1194.5 1457.7L1195.2 1450.4L1196 1443.1L1196.9 1435.9L1197.9 1428.7L1198.9 1421.6L1200 1414.6L1201.3 1407.7L1202.6 1400.9L1204.1 1394.3L1205.6 1387.7L1207.3 1381.2L1208.9 1374.6L1210.6 1368.1L1212.2 1361.6L1213.7 1355L1215.2 1348.5L1216.6 1341.9L1218 1335.4L1219.6 1328.9L1221.3 1322.4L1223.2 1316L1225.3 1309.7L1227.8 1303.5L1230.5 1297.5L1233.6 1291.6L1236.9 1285.7L1240.5 1280L1244.2 1274.3L1248.1 1268.7L1252 1263.1L1256 1257.5L1260 1251.9L1264.1 1246.3L1268.1 1240.8L1272.2 1235.3L1276.4 1229.9L1280.5 1224.5L1284.8 1219.3L1289.2 1214.1L1293.8 1209L1298.5 1204L1303.5 1199L1308.6 1194.2L1313.8 1189.6L1319.2 1185.2L1324.6 1181L1330 1177L1335.4 1173.3L1340.9 1169.7L1346.5 1166.2L1352.2 1162.9L1358.1 1159.7L1364.1 1156.6L1370.2 1153.6L1376.5 1150.7L1382.9 1147.9L1389.4 1145.3L1396 1142.8L1402.7 1140.4L1409.6 1138.1L1416.5 1135.8L1423.4 1133.7L1430.3 1131.6L1437.2 1129.5L1444.1 1127.6L1450.9 1125.7L1457.6 1123.9L1464.3 1122.2L1471 1120.6L1477.7 1119L1484.4 1117.6L1491.2 1116.1L1498 1114.8L1504.8 1113.6L1511.6 1112.4L1518.2 1111.3L1524.9 1110.3L1531.5 1109.4L1538.1 1108.5L1544.7 1107.7L1551.4 1107L1558.2 1106.2L1565.1 1105.5L1572 1104.8L1579 1104.1L1585.9 1103.4L1592.8 1102.7L1599.7 1102.1L1606.4 1101.5L1613.1 1100.9L1619.6 1100.3L1626.2 1099.7L1632.7 1099.2L1639.4 1098.6L1646.1 1098.1L1653.1 1097.5L1660.2 1097L1667.6 1096.4L1675.1 1095.9L1682.7 1095.3L1690.2 1094.7L1697.6 1094.2L1704.8 1093.7L1711.8 1093.2L1718.6 1092.7L1725.4 1092.2L1732.2 1091.7L1739.2 1091.2L1746.2 1090.8L1753.5 1090.3L1760.8 1089.8L1768.2 1089.3L1775.6 1088.7L1783.1 1088.2L1790.6 1087.7L1798.1 1087.2L1805.5 1086.7L1812.8 1086.1L1820 1085.6L1827.1 1085.1L1834.1 1084.6L1841 1084L1847.8 1083.5L1854.6 1082.9L1861.6 1082.3L1868.7 1081.7L1876 1081L1883.5 1080.3L1891 1079.6L1898.5 1078.8L1905.8 1078L1913 1077.3L1919.9 1076.5L1926.6 1075.7L1933.2 1074.9L1939.6 1074.1L1945.9 1073.2L1952.2 1072.4L1958.5 1071.4L1965 1070.5L1971.8 1069.4L1978.6 1068.3L1985.7 1067.1L1992.7 1065.8L1999.7 1064.5L2006.6 1063.1L2013.4 1061.7L2020 1060.2L2026.6 1058.6L2033.2 1057L2039.8 1055.2L2046.4 1053.4L2053.1 1051.5L2059.7 1049.4L2066.2 1047.3L2072.7 1045L2079 1042.7L2085.2 1040.3L2091.4 1037.7L2097.5 1034.9L2103.4 1032L2109.3 1029L2115 1025.9L2120.6 1022.7L2126.1 1019.4L2131.3 1016L2136.4 1012.7L2141.3 1009.4L2146.1 1006.1L2141.9 999.9L2137.1 1003.1L2132.2 1006.4L2127.2 1009.7L2122.1 1012.9L2116.8 1016.1L2111.3 1019.2L2105.7 1022.2L2100 1025.1L2094.2 1027.9L2088.3 1030.5L2082.3 1033L2076.2 1035.4L2070 1037.7L2063.7 1039.8L2057.3 1041.9L2050.8 1043.9L2044.3 1045.8L2037.7 1047.6L2031.2 1049.3L2024.8 1050.9L2018.3 1052.4L2011.7 1053.9L2005 1055.3L1998.2 1056.7L1991.3 1058L1984.3 1059.3L1977.3 1060.4L1970.5 1061.6L1963.8 1062.6L1957.4 1063.6L1951.1 1064.5L1944.8 1065.3L1938.6 1066.2L1932.2 1067L1925.7 1067.8L1919 1068.5L1912.1 1069.3L1905 1070.1L1897.6 1070.9L1890.2 1071.6L1882.7 1072.4L1875.3 1073.1L1868 1073.7L1860.9 1074.4L1854 1074.9L1847.2 1075.5L1840.4 1076.1L1833.5 1076.6L1826.5 1077.1L1819.4 1077.6L1812.2 1078.2L1804.9 1078.7L1797.5 1079.2L1790 1079.7L1782.5 1080.3L1775.1 1080.8L1767.6 1081.3L1760.2 1081.8L1752.9 1082.3L1745.7 1082.8L1738.6 1083.3L1731.7 1083.7L1724.8 1084.2L1718 1084.7L1711.2 1085.2L1704.2 1085.7L1697 1086.2L1689.6 1086.8L1682.1 1087.3L1674.5 1087.9L1667 1088.5L1659.6 1089L1652.5 1089.6L1645.5 1090.1L1638.7 1090.7L1632.1 1091.2L1625.5 1091.8L1618.9 1092.3L1612.4 1092.9L1605.7 1093.5L1598.9 1094.1L1592.1 1094.8L1585.1 1095.4L1578.2 1096.1L1571.2 1096.8L1564.2 1097.5L1557.3 1098.3L1550.5 1099L1543.7 1099.8L1537 1100.6L1530.4 1101.5L1523.7 1102.4L1517 1103.4L1510.2 1104.5L1503.4 1105.7L1496.5 1107L1489.6 1108.4L1482.7 1109.8L1475.9 1111.3L1469.1 1112.9L1462.4 1114.6L1455.6 1116.3L1448.8 1118.1L1442 1120L1435.1 1122L1428.1 1124L1421.1 1126.1L1414.1 1128.3L1407.1 1130.6L1400.1 1133L1393.3 1135.5L1386.5 1138.1L1379.9 1140.8L1373.3 1143.6L1366.9 1146.6L1360.6 1149.7L1354.5 1152.9L1348.5 1156.3L1342.6 1159.7L1336.9 1163.3L1331.2 1167L1325.6 1170.9L1320.1 1175.1L1314.5 1179.4L1309.1 1184.1L1303.7 1188.9L1298.4 1193.9L1293.4 1199L1288.5 1204.2L1283.9 1209.5L1279.4 1214.8L1275.1 1220.2L1270.9 1225.6L1266.7 1231.1L1262.6 1236.7L1258.5 1242.3L1254.4 1247.9L1250.4 1253.5L1246.4 1259.1L1242.4 1264.8L1238.5 1270.6L1234.8 1276.4L1231.1 1282.4L1227.7 1288.4L1224.6 1294.7L1221.8 1301L1219.3 1307.5L1217.1 1314.1L1215.2 1320.7L1213.5 1327.4L1212 1334L1210.5 1340.6L1209.1 1347.1L1207.7 1353.6L1206.1 1360.1L1204.5 1366.6L1202.9 1373.1L1201.2 1379.7L1199.6 1386.2L1198 1392.9L1196.5 1399.7L1195.2 1406.6L1194 1413.6L1192.8 1420.7L1191.8 1427.9L1190.9 1435.1L1190 1442.4L1189.2 1449.8L1188.5 1457.1L1187.8 1464.4L1187.1 1471.8L1186.5 1479.1L1186 1486.4L1185.5 1493.6L1185 1500.9L1184.5 1508L1184.1 1515L1183.7 1521.8L1183.4 1528.4L1183 1534.8Z" fill="#00FF00"/>
<circle cx="1186.0" cy="1535.0" r="3.0" fill="#00FF00"/>
<circle cx="2144.0" cy="1003.0" r="3.0" fill="#00FF00"/>
<path d="M2143 1002.7L2142.5 1009.1L2141.9 1015.5L2141.4 1022.1L2140.8 1028.9L2140.1 1035.8L2139.4 1042.7L2138.7 1049.5L2137.9 1056.1L2137.1 1062.5L2136.3 1068.8L2135.4 1075L2134.6 1081.2L2133.8 1087.5L2133 1094L2132.3 1100.7L2131.5 1107.5L2130.7 1114.6L2129.8 1121.8L2128.8 1129.1L2127.7 1136.4L2126.4 1143.7L2124.9 1151L2123.3 1158.3L2121.5 1165.4L2119.5 1172.5L2117.3 1179.5L2115 1186.4L2112.5 1193.1L2109.8 1199.7L2107.1 1206L2104.3 1212.2L2101.4 1218.2L2098.6 1224L2095.7 1229.8L2092.9 1235.5L2090 1241.2L2087.1 1246.9L2084 1252.6L2080.9 1258.2L2077.5 1263.8L2073.8 1269.4L2070 1275L2065.9 1280.6L2061.6 1286.1L2057.2 1291.6L2052.6 1297.1L2048 1302.4L2043.2 1307.6L2038.3 1312.6L2033.4 1317.3L2028.3 1321.8L2023.1 1326L2017.8 1330L2012.4 1333.7L2006.9 1337.3L2001.4 1340.8L1995.8 1344.2L1990.1 1347.6L1984.4 1350.9L1978.5 1354.2L1972.4 1357.3L1966.2 1360.4L1960 1363.3L1953.6 1366.1L1947.1 1368.8L1940.6 1371.4L1933.9 1374L1927 1376.5L1920.2 1379L1913.2 1381.3L1906.3 1383.6L1899.4 1385.8L1892.6 1387.9L1885.7 1389.8L1878.9 1391.7L1872 1393.5L1865.2 1395.2L1858.4 1396.8L1851.5 1398.4L1844.7 1400L1837.9 1401.5L1831.2 1403L1824.6 1404.4L1818 1405.8L1811.4 1407.2L1804.8 1408.6L1798.2 1409.9L1791.4 1411.2L1784.6 1412.6L1777.7 1413.9L1770.7 1415.3L1763.7 1416.6L1756.8 1417.9L1749.9 1419.2L1743 1420.5L1736.1 1421.8L1729.1 1423.1L1722.1 1424.4L1714.9 1425.8L1707.8 1427.1L1700.6 1428.4L1693.4 1429.7L1686.4 1431.1L1679.4 1432.4L1672.5 1433.6L1665.6 1434.9L1658.9 1436.2L1652.1 1437.5L1645.5 1438.7L1638.9 1440L1632.4 1441.2L1626 1442.4L1619.7 1443.7L1613.3 1444.9L1606.9 1446.1L1600.4 1447.3L1593.9 1448.5L1587.3 1449.7L1580.7 1450.9L1574.1 1452.1L1567.4 1453.3L1560.7 1454.5L1554 1455.6L1547.2 1456.8L1540.4 1458L1533.4 1459.2L1526.4 1460.4L1519.4 1461.6L1512.3 1462.9L1505.3 1464.1L1498.2 1465.3L1491.2 1466.6L1484.2 1467.9L1477.2 1469.1L1470.3 1470.4L1463.4 1471.7L1456.5 1473L1449.6 1474.3L1442.7 1475.6L1435.8 1477L1429 1478.3L1422.1 1479.6L1415.2 1481L1408.4 1482.3L1401.5 1483.7L1394.6 1485L1387.7 1486.4L1380.8 1487.7L1373.9 1489.1L1367 1490.5L1360 1491.8L1353 1493.2L1346 1494.5L1339 1495.9L1331.9 1497.2L1324.9 1498.6L1317.9 1500L1311 1501.3L1304.1 1502.7L1297.2 1504.1L1290.4 1505.5L1283.4 1507L1276.4 1508.6L1269.2 1510.2L1261.8 1511.9L1254.2 1513.8L1246.4 1515.6L1238.7 1517.6L1231.1 1519.5L1223.6 1521.5L1216.5 1523.3L1209.9 1525.1L1203.6 1526.8L1197.8 1528.3L1192.3 1529.8L1187 1531.2L1189 1538.8L1194.3 1537.4L1199.8 1535.9L1205.6 1534.4L1211.9 1532.7L1218.6 1531L1225.6 1529.1L1233 1527.2L1240.6 1525.3L1248.3 1523.3L1256 1521.4L1263.6 1519.6L1270.9 1517.9L1278.1 1516.3L1285.1 1514.8L1292 1513.3L1298.8 1511.9L1305.7 1510.5L1312.5 1509.1L1319.5 1507.7L1326.4 1506.4L1333.5 1505L1340.5 1503.7L1347.5 1502.3L1354.5 1501L1361.5 1499.6L1368.5 1498.2L1375.4 1496.9L1382.4 1495.5L1389.3 1494.2L1396.2 1492.8L1403 1491.5L1409.9 1490.1L1416.8 1488.8L1423.6 1487.4L1430.5 1486.1L1437.4 1484.8L1444.2 1483.4L1451.1 1482.1L1458 1480.8L1464.8 1479.5L1471.7 1478.2L1478.7 1476.9L1485.6 1475.7L1492.6 1474.4L1499.6 1473.2L1506.6 1471.9L1513.7 1470.7L1520.7 1469.5L1527.8 1468.3L1534.8 1467L1541.7 1465.8L1548.6 1464.7L1555.4 1463.5L1562.1 1462.3L1568.8 1461.1L1575.5 1459.9L1582.1 1458.7L1588.7 1457.5L1595.4 1456.3L1601.9 1455.1L1608.4 1453.9L1614.8 1452.7L1621.1 1451.5L1627.5 1450.2L1633.9 1449L1640.4 1447.8L1647 1446.5L1653.6 1445.3L1660.3 1444L1667.1 1442.7L1673.9 1441.5L1680.8 1440.2L1687.8 1438.9L1694.9 1437.6L1702 1436.2L1709.2 1434.9L1716.4 1433.6L1723.5 1432.3L1730.6 1430.9L1737.6 1429.6L1744.5 1428.3L1751.4 1427L1758.3 1425.7L1765.2 1424.4L1772.2 1423.1L1779.2 1421.7L1786.1 1420.4L1793 1419L1799.7 1417.7L1806.4 1416.3L1813 1415L1819.6 1413.6L1826.2 1412.2L1832.9 1410.7L1839.7 1409.2L1846.5 1407.7L1853.3 1406.1L1860.2 1404.5L1867.1 1402.8L1874 1401.1L1880.9 1399.3L1887.9 1397.4L1894.8 1395.4L1901.8 1393.3L1908.7 1391.1L1915.8 1388.8L1922.8 1386.3L1929.7 1383.8L1936.6 1381.3L1943.4 1378.7L1950.1 1376L1956.7 1373.2L1963.2 1370.3L1969.6 1367.3L1975.9 1364.2L1982.1 1360.9L1988.1 1357.6L1994 1354.2L1999.7 1350.7L2005.4 1347.2L2011 1343.6L2016.6 1339.9L2022.2 1336L2027.7 1331.8L2033 1327.4L2038.3 1322.7L2043.4 1317.7L2048.4 1312.5L2053.2 1307.1L2058 1301.7L2062.6 1296.1L2067.1 1290.4L2071.4 1284.7L2075.6 1279L2079.5 1273.2L2083.2 1267.4L2086.7 1261.6L2089.9 1255.8L2093 1250L2095.9 1244.3L2098.8 1238.5L2101.7 1232.7L2104.5 1226.9L2107.4 1221L2110.2 1214.9L2113 1208.6L2115.8 1202.1L2118.5 1195.4L2121 1188.5L2123.4 1181.5L2125.6 1174.3L2127.6 1167L2129.4 1159.7L2131 1152.3L2132.5 1144.9L2133.7 1137.4L2134.9 1130L2135.9 1122.6L2136.7 1115.3L2137.5 1108.2L2138.3 1101.4L2139.1 1094.7L2139.8 1088.2L2140.7 1082L2141.5 1075.8L2142.3 1069.6L2143.2 1063.3L2144 1056.8L2144.7 1050.2L2145.5 1043.4L2146.1 1036.4L2146.8 1029.5L2147.4 1022.6L2148 1016L2148.5 1009.6L2149 1003.3Z" fill="#00FF00"/>
<circle cx="2146.0" cy="1003.0" r="3.0" fill="#00FF00"/>
<circle cx="1188.0" cy="1535.0" r="3.0" fill="#00FF00"/>
<path d="M1187 1556L1187 1550.1L1187 1543.9L1186.9 1537.4L1186.9 1530.5L1186.9 1523.2L1186.9 1515.5L1186.9 1507.6L1187 1499.6L1187 1491.7L1187.1 1483.8L1187.2 1476L1187.3 1468.2L1187.4 1460.5L1187.5 1452.8L1187.7 1445.2L1187.9 1437.7L1188.1 1430.3L1188.3 1423.1L1188.7 1415.9L1189 1408.9L1189.5 1402L1190.1 1395.2L1190.7 1388.5L1191.5 1382L1192.4 1375.6L1193.4 1369.2L1194.5 1362.8L1195.6 1356.4L1196.9 1349.9L1198.3 1343.3L1199.8 1336.8L1201.4 1330.2L1203.1 1323.7L1204.9 1317.2L1206.8 1310.9L1209 1304.6L1211.3 1298.4L1213.9 1292.2L1216.8 1286.1L1220 1280L1223.4 1273.9L1227 1267.8L1230.8 1261.7L1234.6 1255.6L1238.4 1249.5L1242.2 1243.4L1246 1237.5L1249.9 1231.7L1253.9 1226L1258 1220.5L1262.3 1215.3L1266.7 1210.2L1271.3 1205.2L1276.1 1200.4L1281.1 1195.8L1286.1 1191.3L1291.3 1186.9L1296.6 1182.7L1301.9 1178.7L1307.3 1174.8L1312.8 1171L1318.5 1167.3L1324.3 1163.8L1330.3 1160.4L1336.4 1157.2L1342.6 1154.2L1348.9 1151.3L1355.4 1148.6L1362 1146.1L1368.7 1143.7L1375.5 1141.3L1382.4 1139L1389.4 1136.8L1396.3 1134.5L1403.3 1132.3L1410.1 1130L1416.9 1127.7L1423.5 1125.4L1430.1 1123.2L1436.7 1120.9L1443.3 1118.7L1450 1116.6L1456.8 1114.6L1463.6 1112.7L1470.4 1111L1477.2 1109.5L1483.9 1108.1L1490.4 1106.9L1497 1105.8L1503.5 1104.8L1510.1 1103.9L1516.8 1103L1523.6 1102.2L1530.6 1101.5L1537.6 1100.7L1544.7 1100L1551.9 1099.3L1559.1 1098.7L1566.3 1098L1573.6 1097.4L1580.7 1096.8L1587.9 1096.2L1595.1 1095.7L1602.3 1095.2L1609.6 1094.7L1617 1094.3L1624.4 1093.8L1631.8 1093.4L1639.2 1093L1646.6 1092.6L1653.9 1092.2L1661.1 1091.8L1668.1 1091.5L1675.1 1091.1L1681.9 1090.8L1688.7 1090.4L1695.5 1090L1702.3 1089.5L1709.2 1089.1L1716 1088.6L1722.7 1088.1L1729.3 1087.7L1735.8 1087.2L1742.2 1086.8L1748.7 1086.5L1755.2 1086.2L1761.8 1086L1768.4 1085.8L1774.9 1085.7L1781.5 1085.7L1788.2 1085.7L1794.9 1085.7L1801.8 1085.7L1808.7 1085.8L1815.8 1085.9L1823 1085.9L1830.2 1085.9L1837.4 1086L1844.6 1086L1851.8 1085.9L1858.9 1085.9L1866 1085.8L1873.2 1085.6L1880.3 1085.5L1887.4 1085.3L1894.6 1085.1L1901.8 1084.9L1908.9 1084.6L1916 1084.3L1923.1 1084L1930.1 1083.7L1937 1083.3L1943.9 1082.9L1950.7 1082.4L1957.5 1081.8L1964.4 1081.1L1971.4 1080.3L1978.5 1079.4L1985.6 1078.3L1992.8 1077.2L1999.9 1075.9L2006.8 1074.5L2013.6 1073.1L2020.3 1071.6L2026.9 1069.9L2033.5 1068.3L2040.1 1066.5L2046.7 1064.6L2053.4 1062.6L2060 1060.6L2066.6 1058.4L2073 1056.1L2079.3 1053.7L2085.6 1051.2L2091.8 1048.5L2097.8 1045.6L2103.9 1042.5L2109.8 1039.3L2115.6 1035.9L2121.3 1032.4L2127 1028.8L2132.6 1025L2138 1021.2L2143.3 1017.4L2148.6 1013.6L2143.4 1006.4L2138.2 1010.1L2132.9 1013.9L2127.5 1017.5L2122.1 1021.2L2116.5 1024.6L2110.9 1028L2105.3 1031.2L2099.6 1034.2L2093.7 1037.1L2087.9 1039.8L2081.9 1042.4L2075.9 1044.8L2069.7 1047L2063.4 1049.2L2057 1051.3L2050.5 1053.3L2044 1055.2L2037.5 1057L2031 1058.8L2024.5 1060.4L2018 1062L2011.5 1063.4L2004.8 1064.8L1998.1 1066.2L1991.1 1067.4L1984.1 1068.5L1977.1 1069.5L1970.2 1070.4L1963.3 1071.2L1956.6 1071.9L1949.9 1072.4L1943.2 1072.9L1936.4 1073.3L1929.6 1073.7L1922.7 1074L1915.6 1074.3L1908.5 1074.6L1901.4 1074.9L1894.3 1075.1L1887.2 1075.3L1880.1 1075.5L1873 1075.6L1865.9 1075.8L1858.8 1075.9L1851.7 1075.9L1844.6 1076L1837.4 1076L1830.2 1075.9L1823 1075.9L1815.9 1075.9L1808.8 1075.8L1801.8 1075.7L1794.9 1075.7L1788.2 1075.7L1781.5 1075.7L1774.8 1075.7L1768.2 1075.8L1761.5 1076L1754.9 1076.2L1748.3 1076.5L1741.7 1076.9L1735.2 1077.3L1728.6 1077.7L1722 1078.2L1715.3 1078.6L1708.5 1079.1L1701.7 1079.6L1694.9 1080L1688.1 1080.4L1681.3 1080.8L1674.5 1081.1L1667.6 1081.5L1660.6 1081.9L1653.4 1082.2L1646.1 1082.6L1638.7 1083L1631.2 1083.4L1623.8 1083.8L1616.3 1084.3L1609 1084.8L1601.6 1085.2L1594.4 1085.8L1587.2 1086.3L1579.9 1086.9L1572.7 1087.5L1565.5 1088.1L1558.2 1088.7L1551 1089.4L1543.7 1090.1L1536.6 1090.8L1529.5 1091.5L1522.5 1092.3L1515.6 1093.2L1508.8 1094L1502.1 1095L1495.4 1096L1488.7 1097.1L1481.9 1098.4L1475.1 1099.8L1468.1 1101.5L1461.1 1103.2L1454.1 1105.2L1447.1 1107.3L1440.3 1109.5L1433.6 1111.7L1427 1114L1420.4 1116.3L1413.8 1118.5L1407 1120.8L1400.2 1123L1393.3 1125.3L1386.4 1127.5L1379.4 1129.8L1372.4 1132.2L1365.4 1134.6L1358.6 1137.1L1351.8 1139.8L1345.1 1142.6L1338.5 1145.7L1332.1 1148.9L1325.8 1152.3L1319.6 1155.9L1313.6 1159.7L1307.8 1163.5L1302.1 1167.5L1296.6 1171.6L1291.1 1175.8L1285.7 1180.2L1280.5 1184.8L1275.3 1189.5L1270.2 1194.5L1265.3 1199.5L1260.6 1204.8L1256.1 1210.2L1251.7 1215.7L1247.5 1221.5L1243.5 1227.3L1239.6 1233.3L1235.8 1239.4L1232 1245.5L1228.2 1251.6L1224.4 1257.8L1220.6 1264L1217 1270.3L1213.5 1276.6L1210.3 1283L1207.5 1289.4L1204.9 1295.8L1202.6 1302.3L1200.5 1308.8L1198.6 1315.4L1196.8 1322L1195.1 1328.6L1193.5 1335.3L1192.1 1342L1190.7 1348.6L1189.4 1355.2L1188.3 1361.7L1187.2 1368.2L1186.2 1374.7L1185.4 1381.2L1184.6 1387.9L1184 1394.7L1183.4 1401.6L1183 1408.6L1182.6 1415.6L1182.3 1422.8L1182.1 1430.1L1181.9 1437.6L1181.7 1445.1L1181.5 1452.7L1181.4 1460.4L1181.3 1468.1L1181.1 1475.9L1181.1 1483.7L1181 1491.6L1181 1499.6L1180.9 1507.6L1180.9 1515.5L1180.9 1523.2L1180.9 1530.5L1180.9 1537.4L1181 1543.9L1181 1550.1L1181 1556Z" fill="#0000FF"/>
<circle cx="1184.0" cy="1556.0" r="3.0" fill="#0000FF"/>
<circle cx="2146.0" cy="1010.0" r="3.0" fill="#0000FF"/>
<path d="M2144 997.1L2144.1 1003.7L2144.3 1010.4L2144.4 1017.4L2144.4 1024.5L2144.4 1031.7L2144.3 1038.8L2144.2 1045.9L2144 1052.8L2143.7 1059.6L2143.5 1066.3L2143.4 1073L2143.4 1079.7L2143.6 1086.3L2143.8 1092.9L2144.2 1099.5L2144.5 1106.1L2144.7 1112.7L2144.8 1119.4L2144.7 1126.1L2144.3 1133L2143.8 1139.9L2143 1146.9L2142 1153.9L2140.9 1161L2139.7 1168L2138.4 1175.1L2137.1 1182.2L2135.6 1189.2L2134 1196.3L2132.3 1203.4L2130.5 1210.5L2128.6 1217.6L2126.5 1224.6L2124.3 1231.7L2121.9 1238.7L2119.3 1245.6L2116.6 1252.4L2113.7 1258.9L2110.6 1265.2L2107.3 1271.2L2103.9 1277L2100.4 1282.7L2096.8 1288.3L2093.1 1293.9L2089.3 1299.4L2085.2 1304.7L2080.9 1309.9L2076.5 1314.9L2071.9 1319.6L2067.2 1324.1L2062.4 1328.4L2057.6 1332.6L2052.6 1336.6L2047.6 1340.5L2042.4 1344.3L2037.1 1347.8L2031.8 1351L2026.2 1354.1L2020.5 1356.9L2014.6 1359.7L2008.4 1362.4L2002 1365.1L1995.6 1367.7L1989 1370.4L1982.3 1373L1975.6 1375.7L1968.7 1378.4L1961.7 1381.1L1954.7 1383.7L1947.7 1386.3L1940.7 1388.8L1933.8 1391.2L1927.1 1393.6L1920.4 1395.8L1913.9 1397.9L1907.3 1400L1900.6 1402.1L1893.9 1404L1887.1 1406L1880.2 1407.9L1873.3 1409.7L1866.4 1411.4L1859.6 1413L1852.9 1414.6L1846.2 1416.1L1839.5 1417.6L1832.7 1419L1825.9 1420.4L1818.9 1421.8L1811.9 1423.2L1804.8 1424.6L1797.7 1426L1790.5 1427.3L1783.4 1428.6L1776.3 1429.9L1769.3 1431.2L1762.2 1432.4L1755.2 1433.6L1748.2 1434.8L1741.1 1435.9L1734.1 1437.1L1727 1438.2L1720 1439.2L1713 1440.3L1706 1441.3L1699.1 1442.3L1692.2 1443.3L1685.4 1444.3L1678.6 1445.2L1671.8 1446.2L1665 1447.1L1658.1 1448.1L1651.2 1449L1644.2 1450L1637.2 1450.9L1630.2 1451.8L1623.2 1452.7L1616.3 1453.6L1609.3 1454.5L1602.3 1455.4L1595.3 1456.3L1588.3 1457.2L1581.3 1458.2L1574.4 1459.1L1567.6 1460.1L1560.8 1461.1L1554 1462L1547.2 1463L1540.3 1464.1L1533.4 1465.1L1526.4 1466.1L1519.3 1467.2L1512.3 1468.3L1505.2 1469.3L1498.1 1470.4L1491.1 1471.5L1484.1 1472.6L1477.2 1473.7L1470.2 1474.8L1463.3 1475.8L1456.4 1476.9L1449.6 1478L1442.7 1479.1L1435.8 1480.2L1428.9 1481.3L1422.1 1482.4L1415.2 1483.5L1408.3 1484.7L1401.4 1485.9L1394.5 1487.2L1387.6 1488.4L1380.7 1489.7L1373.8 1491.1L1366.8 1492.5L1359.8 1493.9L1352.8 1495.4L1345.8 1496.9L1338.8 1498.4L1331.8 1500L1324.8 1501.5L1317.8 1503.2L1310.9 1504.8L1304 1506.5L1297.1 1508.2L1290.2 1510L1283.3 1511.8L1276.3 1513.7L1269.2 1515.7L1261.9 1517.9L1254.5 1520.1L1247 1522.5L1239.4 1524.9L1231.9 1527.4L1224.5 1529.8L1217.4 1532.3L1210.6 1534.6L1204.2 1536.8L1198.3 1538.9L1192.7 1540.8L1187.5 1542.7L1182.4 1544.4L1185.6 1553.6L1190.7 1551.8L1195.9 1550L1201.4 1548L1207.4 1546L1213.8 1543.8L1220.5 1541.4L1227.6 1539L1234.9 1536.6L1242.4 1534.1L1249.9 1531.7L1257.3 1529.4L1264.7 1527.2L1271.9 1525.1L1278.9 1523.1L1285.8 1521.2L1292.7 1519.5L1299.5 1517.7L1306.3 1516L1313.2 1514.4L1320.1 1512.7L1327 1511.1L1334 1509.6L1340.9 1508L1347.9 1506.5L1354.9 1505L1361.8 1503.6L1368.8 1502.2L1375.7 1500.8L1382.6 1499.5L1389.4 1498.2L1396.3 1496.9L1403.1 1495.7L1410 1494.5L1416.8 1493.3L1423.7 1492.2L1430.5 1491.1L1437.4 1490L1444.2 1488.9L1451.1 1487.8L1458 1486.7L1464.9 1485.6L1471.8 1484.6L1478.7 1483.5L1485.7 1482.4L1492.6 1481.3L1499.7 1480.2L1506.7 1479.2L1513.8 1478.1L1520.8 1477L1527.8 1476L1534.8 1474.9L1541.8 1473.9L1548.6 1472.9L1555.4 1471.9L1562.2 1470.9L1569 1469.9L1575.8 1469L1582.7 1468L1589.6 1467.1L1596.6 1466.1L1603.6 1465.2L1610.6 1464.3L1617.6 1463.4L1624.5 1462.5L1631.5 1461.7L1638.5 1460.7L1645.5 1459.8L1652.5 1458.9L1659.5 1457.9L1666.4 1457L1673.2 1456L1680 1455.1L1686.8 1454.1L1693.6 1453.2L1700.5 1452.2L1707.4 1451.1L1714.4 1450.1L1721.5 1449L1728.6 1448L1735.6 1446.9L1742.7 1445.7L1749.8 1444.6L1756.8 1443.4L1763.9 1442.2L1771 1440.9L1778.1 1439.7L1785.2 1438.4L1792.4 1437L1799.5 1435.7L1806.7 1434.3L1813.8 1432.9L1820.9 1431.5L1827.9 1430.1L1834.8 1428.7L1841.6 1427.2L1848.3 1425.7L1855.1 1424.2L1861.9 1422.6L1868.8 1420.9L1875.7 1419.2L1882.8 1417.3L1889.7 1415.4L1896.7 1413.4L1903.5 1411.4L1910.2 1409.3L1916.8 1407.2L1923.5 1405L1930.2 1402.7L1937 1400.3L1944 1397.9L1951 1395.3L1958 1392.7L1965.1 1390L1972.1 1387.3L1979.1 1384.6L1985.9 1381.9L1992.6 1379.3L1999.2 1376.6L2005.7 1373.9L2012.2 1371.1L2018.5 1368.3L2024.7 1365.4L2030.6 1362.3L2036.4 1359L2042.1 1355.4L2047.6 1351.6L2052.9 1347.6L2058.1 1343.5L2063.2 1339.2L2068.1 1334.8L2073.1 1330.2L2077.9 1325.5L2082.6 1320.4L2087.1 1315.1L2091.5 1309.6L2095.6 1303.9L2099.5 1298.2L2103.2 1292.4L2106.8 1286.6L2110.3 1280.7L2113.7 1274.7L2117 1268.4L2120.1 1261.9L2123 1255.1L2125.7 1248.1L2128.3 1241L2130.7 1233.8L2132.9 1226.5L2134.9 1219.3L2136.8 1212.1L2138.6 1204.9L2140.3 1197.7L2141.8 1190.6L2143.3 1183.4L2144.6 1176.3L2145.9 1169.1L2147.1 1162L2148.2 1154.8L2149.1 1147.6L2149.9 1140.5L2150.4 1133.4L2150.7 1126.3L2150.8 1119.4L2150.7 1112.6L2150.5 1105.9L2150.2 1099.2L2149.9 1092.7L2149.6 1086.1L2149.5 1079.6L2149.4 1073L2149.5 1066.5L2149.7 1059.8L2150 1053L2150.2 1046L2150.3 1038.9L2150.4 1031.7L2150.4 1024.5L2150.4 1017.3L2150.3 1010.3L2150.2 1003.6L2150 996.9Z" fill="#0000FF"/>
<circle cx="2147.0" cy="997.0" r="3.0" fill="#0000FF"/>
<circle cx="1184.0" cy="1549.0" r="3.0" fill="#0000FF"/>
<path d="M1190.6 1540.9L1190.5 1535.4L1190.3 1529.7L1190.2 1523.6L1190 1517.1L1189.9 1510.1L1189.7 1502.8L1189.6 1495.3L1189.4 1487.6L1189.3 1479.8L1189.2 1472.1L1189.2 1464.5L1189.2 1457L1189.2 1449.6L1189.3 1442.2L1189.4 1434.9L1189.6 1427.8L1189.8 1420.7L1190.1 1413.7L1190.4 1406.8L1190.8 1400L1191.2 1393.2L1191.7 1386.4L1192.2 1379.6L1192.8 1372.8L1193.4 1366L1194.1 1359.1L1194.8 1352.4L1195.6 1345.7L1196.5 1339L1197.5 1332.5L1198.6 1326L1199.8 1319.4L1201.2 1312.9L1202.8 1306.4L1204.5 1299.8L1206.4 1293.3L1208.5 1286.8L1210.7 1280.3L1213.2 1273.8L1215.9 1267.2L1218.9 1260.8L1222.2 1254.4L1225.7 1248.2L1229.6 1242.2L1233.7 1236.4L1238.1 1230.7L1242.7 1225.1L1247.3 1219.6L1252.1 1214.3L1256.8 1209L1261.6 1203.9L1266.3 1198.9L1271.1 1194.1L1276 1189.3L1280.9 1184.6L1285.9 1180L1291.1 1175.5L1296.3 1171.1L1301.6 1166.7L1307 1162.4L1312.5 1158.2L1318.2 1154L1324 1149.9L1329.9 1145.8L1335.9 1141.9L1341.9 1138.2L1347.9 1134.6L1354 1131.1L1360.1 1127.8L1366.2 1124.5L1372.5 1121.3L1378.8 1118.2L1385.1 1115.2L1391.5 1112.2L1397.9 1109.3L1404.3 1106.5L1410.8 1103.8L1417.2 1101.1L1423.6 1098.5L1430.1 1096L1436.6 1093.6L1443.1 1091.3L1449.8 1089L1456.6 1086.7L1463.5 1084.6L1470.4 1082.5L1477.2 1080.5L1483.9 1078.6L1490.6 1076.8L1497.2 1075.1L1503.8 1073.4L1510.4 1071.8L1517.1 1070.2L1524 1068.6L1530.9 1067L1538 1065.4L1545.1 1063.8L1552.3 1062.2L1559.5 1060.6L1566.7 1059.1L1573.9 1057.6L1581.1 1056.1L1588.3 1054.6L1595.5 1053.2L1602.8 1051.7L1610 1050.3L1617.4 1048.9L1624.8 1047.5L1632.2 1046.1L1639.7 1044.7L1647.1 1043.3L1654.4 1042L1661.6 1040.7L1668.6 1039.4L1675.5 1038.1L1682.4 1036.8L1689.1 1035.5L1695.9 1034.1L1702.8 1032.8L1709.6 1031.4L1716.4 1029.9L1723.2 1028.5L1729.8 1027.1L1736.3 1025.6L1742.8 1024.2L1749.3 1022.8L1755.9 1021.4L1762.5 1019.9L1769.1 1018.5L1775.7 1017.2L1782.3 1015.8L1789 1014.4L1795.7 1013L1802.6 1011.6L1809.6 1010.2L1816.6 1008.8L1823.8 1007.4L1831 1005.9L1838.2 1004.5L1845.3 1003.1L1852.5 1001.7L1859.6 1000.3L1866.7 999L1873.8 997.6L1880.9 996.3L1888 995L1895.2 993.7L1902.3 992.4L1909.4 991.1L1916.5 989.9L1923.6 988.6L1930.6 987.3L1937.5 986.1L1944.3 984.9L1951 983.6L1957.8 982.3L1964.6 981L1971.5 979.6L1978.6 978.2L1985.7 976.8L1992.8 975.3L1999.8 973.7L2006.7 972.2L2013.5 970.7L2020.1 969.1L2026.7 967.4L2033.2 965.7L2039.8 963.9L2046.5 962L2053.1 960L2059.8 957.9L2066.3 955.7L2072.8 953.4L2079.3 951.1L2085.9 948.6L2092.4 946L2099.1 943.2L2105.7 940.3L2112.3 937.3L2118.8 934.2L2125.1 931.1L2131.1 927.9L2136.9 924.9L2142.4 921.8L2147.8 918.8L2144.2 912.2L2138.8 915.1L2133.3 918.1L2127.6 921.1L2121.6 924.2L2115.4 927.3L2109.1 930.3L2102.6 933.2L2096 936.1L2089.5 938.8L2083 941.3L2076.6 943.8L2070.2 946.1L2063.8 948.3L2057.3 950.4L2050.8 952.5L2044.2 954.4L2037.7 956.3L2031.2 958.1L2024.7 959.8L2018.2 961.4L2011.6 963L2005 964.5L1998.1 966L1991.1 967.5L1984.1 969L1977 970.4L1970 971.8L1963.1 973.2L1956.3 974.5L1949.6 975.8L1942.8 977L1936 978.3L1929.2 979.5L1922.2 980.8L1915.1 982L1908 983.3L1900.9 984.6L1893.7 985.9L1886.6 987.2L1879.4 988.5L1872.3 989.8L1865.2 991.2L1858.1 992.5L1851 993.9L1843.8 995.3L1836.6 996.7L1829.4 998.2L1822.2 999.6L1815.1 1001L1808 1002.5L1801 1003.9L1794.1 1005.3L1787.4 1006.7L1780.7 1008L1774.1 1009.4L1767.4 1010.8L1760.8 1012.2L1754.2 1013.6L1747.6 1015L1741.1 1016.4L1734.6 1017.9L1728.1 1019.3L1721.5 1020.7L1714.8 1022.2L1708 1023.6L1701.2 1025L1694.4 1026.3L1687.6 1027.7L1680.9 1029L1674.1 1030.3L1667.2 1031.5L1660.1 1032.8L1652.9 1034.2L1645.6 1035.5L1638.2 1036.9L1630.8 1038.3L1623.3 1039.7L1615.9 1041.1L1608.5 1042.5L1601.2 1043.9L1594 1045.4L1586.7 1046.8L1579.5 1048.3L1572.3 1049.8L1565.1 1051.3L1557.8 1052.9L1550.6 1054.5L1543.4 1056.1L1536.2 1057.7L1529.1 1059.3L1522.2 1060.9L1515.3 1062.5L1508.5 1064.1L1501.8 1065.8L1495.2 1067.5L1488.6 1069.2L1481.8 1071L1475 1072.9L1468.1 1075L1461.2 1077.1L1454.2 1079.3L1447.3 1081.5L1440.5 1083.9L1433.9 1086.3L1427.3 1088.7L1420.7 1091.3L1414.2 1093.9L1407.7 1096.6L1401.2 1099.4L1394.8 1102.3L1388.3 1105.2L1381.8 1108.2L1375.4 1111.3L1369 1114.5L1362.7 1117.7L1356.4 1121L1350.2 1124.5L1344.1 1128L1337.9 1131.7L1331.8 1135.6L1325.7 1139.6L1319.7 1143.7L1313.8 1147.9L1308.1 1152.2L1302.5 1156.6L1297 1161L1291.6 1165.4L1286.3 1170L1281.1 1174.6L1276 1179.3L1270.9 1184.1L1266 1189L1261.2 1194L1256.4 1199L1251.6 1204.2L1246.8 1209.6L1242 1215L1237.2 1220.6L1232.6 1226.4L1228.1 1232.3L1223.9 1238.5L1220 1244.8L1216.3 1251.3L1213 1257.9L1209.9 1264.6L1207.2 1271.4L1204.7 1278.1L1202.4 1284.8L1200.4 1291.5L1198.5 1298.2L1196.7 1304.8L1195.2 1311.5L1193.8 1318.2L1192.5 1324.9L1191.4 1331.5L1190.5 1338.2L1189.6 1344.9L1188.8 1351.7L1188.1 1358.5L1187.4 1365.4L1186.8 1372.3L1186.2 1379.2L1185.7 1386L1185.2 1392.8L1184.8 1399.6L1184.4 1406.5L1184.1 1413.4L1183.8 1420.4L1183.6 1427.6L1183.4 1434.8L1183.3 1442.1L1183.2 1449.5L1183.2 1457L1183.2 1464.5L1183.2 1472.2L1183.3 1479.9L1183.4 1487.7L1183.6 1495.4L1183.7 1503L1183.9 1510.3L1184 1517.2L1184.2 1523.7L1184.3 1529.8L1184.5 1535.5L1184.6 1541.1Z" fill="#00FFFF"/>
<circle cx="1187.6" cy="1541.0" r="3.0" fill="#00FFFF"/>
<circle cx="2146.0" cy="915.5" r="3.0" fill="#00FFFF"/>
<path d="M2145 916L2145 921.9L2145 928L2145 934.5L2144.9 941.4L2144.9 948.7L2144.9 956.3L2144.9 964L2144.9 971.7L2144.8 979.4L2144.7 987L2144.7 994.4L2144.5 1001.7L2144.4 1008.9L2144.1 1015.9L2143.7 1022.7L2143.1 1029.2L2142.3 1035.8L2141.2 1042.3L2140 1048.9L2138.5 1055.8L2136.9 1062.8L2135.1 1070L2133.1 1077.3L2131.1 1084.7L2128.9 1092L2126.7 1099.4L2124.4 1106.7L2122.1 1114L2119.8 1121.2L2117.3 1128.4L2114.8 1135.6L2112.1 1142.7L2109.3 1149.6L2106.5 1156.5L2103.6 1163.3L2100.6 1170L2097.5 1176.5L2094.4 1182.8L2091.2 1189L2087.8 1195L2084.2 1200.8L2080.3 1206.3L2076.2 1211.7L2071.8 1216.9L2067.2 1222.1L2062.4 1227.2L2057.4 1232.3L2052.4 1237.4L2047.4 1242.5L2042.2 1247.6L2037 1252.6L2031.6 1257.5L2026.2 1262.2L2020.6 1266.7L2014.8 1271L2009 1275.2L2003 1279.2L1996.9 1283.1L1990.6 1286.9L1984.3 1290.7L1977.8 1294.4L1971.4 1298.1L1965 1301.7L1958.7 1305.2L1952.4 1308.7L1946.3 1312L1940.1 1315.2L1934 1318.3L1927.8 1321.2L1921.5 1324.1L1915.1 1326.8L1908.7 1329.5L1902.1 1332.1L1895.5 1334.7L1888.9 1337.3L1882.4 1339.8L1875.9 1342.2L1869.5 1344.6L1863.2 1347L1856.9 1349.3L1850.5 1351.6L1844.1 1353.9L1837.7 1356.1L1831.2 1358.2L1824.8 1360.3L1818.4 1362.3L1811.9 1364.3L1805.3 1366.3L1798.6 1368.3L1791.8 1370.4L1784.8 1372.5L1777.7 1374.6L1770.6 1376.7L1763.5 1378.8L1756.5 1380.9L1749.5 1383L1742.6 1385.2L1735.7 1387.3L1728.7 1389.5L1721.6 1391.6L1714.5 1393.8L1707.3 1396L1700.2 1398.2L1693 1400.3L1686 1402.4L1679 1404.4L1672.1 1406.4L1665.3 1408.2L1658.6 1410L1651.9 1411.7L1645.3 1413.3L1638.8 1414.8L1632.3 1416.3L1625.9 1417.6L1619.6 1419L1613.2 1420.3L1606.8 1421.6L1600.4 1422.9L1593.8 1424.3L1587.2 1425.7L1580.6 1427.1L1573.9 1428.6L1567.2 1430.1L1560.5 1431.6L1553.8 1433.2L1547 1434.8L1540.1 1436.4L1533.2 1438L1526.2 1439.7L1519.2 1441.4L1512.1 1443L1505 1444.7L1498 1446.4L1491 1448L1484 1449.6L1477 1451.3L1470.1 1452.9L1463.2 1454.4L1456.3 1456L1449.5 1457.5L1442.6 1459.1L1435.7 1460.6L1428.9 1462.2L1422 1463.8L1415.1 1465.3L1408.2 1467L1401.3 1468.6L1394.4 1470.3L1387.5 1472L1380.6 1473.8L1373.7 1475.6L1366.7 1477.4L1359.7 1479.3L1352.7 1481.3L1345.7 1483.3L1338.6 1485.3L1331.6 1487.3L1324.6 1489.4L1317.6 1491.5L1310.7 1493.6L1303.8 1495.7L1296.9 1497.9L1290.1 1500L1283.3 1502.2L1276.4 1504.5L1269.4 1506.8L1262.4 1509.2L1255.2 1511.7L1247.9 1514.3L1240.6 1516.9L1233.4 1519.6L1226.3 1522.2L1219.5 1524.7L1213.1 1527.1L1207 1529.5L1201.3 1531.6L1196 1533.6L1191 1535.5L1186.2 1537.4L1189 1544.6L1193.8 1542.8L1198.8 1540.9L1204.1 1538.9L1209.8 1536.8L1215.8 1534.5L1222.3 1532L1229.1 1529.5L1236.1 1526.9L1243.3 1524.3L1250.5 1521.7L1257.7 1519.1L1264.9 1516.6L1271.9 1514.2L1278.9 1511.9L1285.7 1509.7L1292.5 1507.5L1299.3 1505.4L1306.1 1503.2L1313 1501.1L1319.9 1499L1326.8 1497L1333.8 1494.9L1340.8 1492.8L1347.8 1490.8L1354.8 1488.9L1361.8 1486.9L1368.8 1485L1375.7 1483.2L1382.6 1481.4L1389.5 1479.7L1396.3 1478L1403.2 1476.3L1410 1474.7L1416.9 1473.1L1423.8 1471.5L1430.6 1469.9L1437.5 1468.4L1444.3 1466.8L1451.2 1465.3L1458.1 1463.7L1465 1462.2L1471.9 1460.6L1478.8 1459L1485.8 1457.4L1492.8 1455.7L1499.8 1454.1L1506.9 1452.4L1513.9 1450.7L1521 1449.1L1528 1447.4L1535 1445.7L1541.9 1444.1L1548.8 1442.5L1555.6 1440.9L1562.3 1439.4L1569 1437.8L1575.6 1436.3L1582.3 1434.9L1588.9 1433.4L1595.4 1432L1602 1430.7L1608.4 1429.3L1614.8 1428L1621.2 1426.7L1627.6 1425.4L1634 1424L1640.5 1422.5L1647.1 1421L1653.8 1419.4L1660.6 1417.7L1667.4 1415.9L1674.3 1414L1681.2 1412L1688.2 1410L1695.3 1407.9L1702.4 1405.7L1709.6 1403.6L1716.8 1401.4L1724 1399.2L1731 1397L1738 1394.8L1744.9 1392.7L1751.8 1390.6L1758.8 1388.5L1765.8 1386.4L1772.8 1384.2L1780 1382.1L1787 1380L1794 1377.9L1800.9 1375.9L1807.6 1373.9L1814.2 1371.9L1820.7 1369.8L1827.2 1367.8L1833.7 1365.7L1840.2 1363.5L1846.7 1361.3L1853.1 1359L1859.5 1356.7L1865.9 1354.3L1872.3 1352L1878.7 1349.5L1885.2 1347.1L1891.7 1344.5L1898.3 1342L1905 1339.3L1911.6 1336.7L1918.2 1334L1924.6 1331.2L1931 1328.3L1937.4 1325.2L1943.6 1322.1L1949.9 1318.8L1956.1 1315.4L1962.4 1311.9L1968.7 1308.3L1975.1 1304.7L1981.6 1301L1988.1 1297.2L1994.5 1293.4L2000.9 1289.5L2007.1 1285.5L2013.3 1281.3L2019.3 1277L2025.1 1272.5L2030.9 1267.8L2036.5 1263L2041.9 1257.9L2047.2 1252.8L2052.4 1247.6L2057.5 1242.4L2062.6 1237.3L2067.6 1232.1L2072.4 1226.8L2077.2 1221.5L2081.7 1216L2085.9 1210.4L2089.9 1204.5L2093.6 1198.4L2097 1192.2L2100.3 1185.8L2103.5 1179.3L2106.5 1172.7L2109.5 1165.9L2112.5 1159L2115.3 1152L2118.1 1145L2120.8 1137.8L2123.3 1130.5L2125.8 1123.3L2128.2 1115.9L2130.5 1108.6L2132.7 1101.2L2134.9 1093.8L2137.1 1086.4L2139.2 1079L2141.1 1071.6L2142.9 1064.2L2144.6 1057.1L2146 1050.1L2147.3 1043.3L2148.3 1036.6L2149.1 1029.9L2149.7 1023.1L2150.1 1016.2L2150.4 1009.1L2150.5 1001.9L2150.7 994.5L2150.7 987L2150.8 979.4L2150.9 971.7L2150.9 964L2150.9 956.3L2150.9 948.7L2150.9 941.4L2151 934.5L2151 928L2151 921.9L2151 916Z" fill="#00FFFF"/>
<circle cx="2148.0" cy="916.0" r="3.0" fill="#00FFFF"/>
<circle cx="1187.6" cy="1541.0" r="3.0" fill="#00FFFF"/>
<path d="M1183.7 1570L1183.7 1564.2L1183.8 1558.1L1183.9 1551.7L1183.9 1544.9L1184 1537.8L1184.1 1530.4L1184.2 1522.8L1184.3 1515.3L1184.4 1507.8L1184.6 1500.4L1184.8 1493.2L1184.9 1486L1185.2 1479L1185.4 1472.2L1185.7 1465.4L1186.1 1458.8L1186.5 1452.2L1187 1445.6L1187.6 1438.9L1188.3 1432.3L1189.2 1425.6L1190.2 1419L1191.4 1412.4L1192.7 1405.7L1194.2 1399L1195.8 1392.1L1197.5 1385.1L1199.1 1378L1200.7 1370.7L1202.1 1363.4L1203.4 1356.1L1204.6 1348.8L1205.7 1341.7L1206.8 1334.7L1207.9 1327.9L1209.1 1321.2L1210.5 1314.7L1212.2 1308.3L1214.1 1302L1216.5 1295.7L1219.3 1289.4L1222.3 1283.2L1225.7 1277L1229.3 1270.8L1233 1264.7L1236.7 1258.7L1240.5 1252.7L1244.3 1246.9L1248.1 1241L1252 1235.3L1255.9 1229.6L1260 1224L1264.2 1218.4L1268.5 1212.9L1273 1207.6L1277.7 1202.4L1282.4 1197.4L1287.2 1192.6L1292.1 1188L1297 1183.5L1302.1 1179.1L1307.3 1174.9L1312.5 1170.8L1317.9 1166.8L1323.5 1162.9L1329.3 1159.1L1335.1 1155.5L1341.1 1151.9L1347.1 1148.5L1353.1 1145.3L1359.2 1142.1L1365.4 1139L1371.7 1136L1378.1 1133.1L1384.6 1130.1L1391.1 1127.3L1397.7 1124.6L1404.3 1121.9L1410.9 1119.3L1417.6 1116.9L1424.3 1114.5L1431.1 1112.3L1437.9 1110.1L1444.7 1108.1L1451.5 1106.2L1458.3 1104.4L1465.1 1102.8L1471.9 1101.3L1478.7 1099.9L1485.6 1098.7L1492.5 1097.6L1499.3 1096.7L1506.2 1095.8L1513 1095.1L1519.8 1094.5L1526.6 1093.9L1533.2 1093.4L1539.8 1093L1546.3 1092.6L1552.7 1092.2L1559.1 1091.9L1565.4 1091.6L1571.8 1091.5L1578.3 1091.4L1584.9 1091.4L1591.6 1091.5L1598.5 1091.8L1605.4 1092.1L1612.4 1092.4L1619.5 1092.9L1626.8 1093.4L1634.1 1093.9L1641.6 1094.5L1649.2 1095.1L1656.8 1095.7L1664.3 1096.2L1671.8 1096.8L1679.2 1097.2L1686.5 1097.6L1693.7 1097.9L1700.7 1098.1L1707.8 1098.2L1714.7 1098.2L1721.5 1098.1L1728.2 1097.9L1734.9 1097.5L1741.6 1097.1L1748.3 1096.6L1755.1 1096.1L1761.8 1095.6L1768.5 1095L1775.2 1094.4L1781.8 1093.9L1788.6 1093.3L1795.3 1092.6L1802.2 1092L1809.2 1091.3L1816.3 1090.6L1823.5 1089.9L1830.6 1089.2L1837.8 1088.4L1845 1087.7L1852.2 1087L1859.3 1086.2L1866.4 1085.5L1873.5 1084.7L1880.6 1084L1887.8 1083.2L1894.9 1082.4L1902.1 1081.7L1909.2 1080.9L1916.3 1080.1L1923.4 1079.3L1930.4 1078.5L1937.3 1077.6L1944.1 1076.8L1950.9 1075.9L1957.7 1075L1964.5 1074L1971.5 1072.9L1978.5 1071.8L1985.7 1070.6L1992.8 1069.3L1999.8 1068L2006.7 1066.6L2013.5 1065.1L2020.1 1063.6L2026.7 1062.1L2033.3 1060.4L2039.9 1058.7L2046.6 1056.8L2053.2 1054.9L2059.8 1052.9L2066.4 1050.7L2072.8 1048.5L2079.2 1046.1L2085.4 1043.7L2091.6 1041.1L2097.6 1038.3L2103.6 1035.4L2109.5 1032.3L2115.3 1029.1L2120.9 1025.7L2126.4 1022.1L2131.6 1018.4L2136.7 1014.7L2141.7 1011L2146.5 1007.2L2141.5 1000.8L2136.8 1004.5L2131.9 1008.1L2126.9 1011.7L2121.8 1015.2L2116.5 1018.6L2111.1 1021.8L2105.5 1024.9L2099.8 1027.8L2094 1030.5L2088.1 1033.2L2082.1 1035.6L2076.1 1038L2069.9 1040.2L2063.6 1042.4L2057.2 1044.5L2050.7 1046.5L2044.2 1048.4L2037.6 1050.2L2031.1 1051.9L2024.6 1053.5L2018.2 1055L2011.6 1056.4L2004.9 1057.8L1998.1 1059.2L1991.2 1060.5L1984.1 1061.8L1977.1 1063L1970.1 1064.1L1963.2 1065.1L1956.4 1066.1L1949.7 1067L1943 1067.9L1936.2 1068.7L1929.3 1069.6L1922.4 1070.4L1915.3 1071.2L1908.2 1071.9L1901.1 1072.7L1894 1073.5L1886.8 1074.3L1879.7 1075L1872.6 1075.8L1865.5 1076.5L1858.4 1077.3L1851.3 1078L1844.1 1078.8L1836.9 1079.5L1829.7 1080.2L1822.6 1081L1815.4 1081.7L1808.3 1082.4L1801.4 1083L1794.5 1083.7L1787.7 1084.3L1781.1 1084.9L1774.4 1085.5L1767.8 1086.1L1761.1 1086.6L1754.4 1087.2L1747.7 1087.7L1741 1088.1L1734.4 1088.5L1727.9 1088.9L1721.3 1089.1L1714.6 1089.2L1707.8 1089.2L1700.9 1089.1L1694 1088.9L1686.9 1088.6L1679.7 1088.3L1672.4 1087.8L1665 1087.3L1657.4 1086.7L1649.9 1086.1L1642.3 1085.5L1634.8 1085L1627.4 1084.4L1620.1 1083.9L1613 1083.4L1605.9 1083.1L1598.8 1082.8L1591.8 1082.6L1585 1082.4L1578.2 1082.4L1571.6 1082.5L1565.1 1082.6L1558.7 1082.9L1552.2 1083.2L1545.8 1083.6L1539.2 1084L1532.6 1084.5L1525.9 1085L1519 1085.5L1512.1 1086.2L1505.2 1086.9L1498.2 1087.8L1491.1 1088.8L1484.1 1089.9L1477.1 1091.2L1470.1 1092.6L1463.1 1094.1L1456.1 1095.8L1449.2 1097.7L1442.2 1099.6L1435.3 1101.7L1428.4 1103.9L1421.5 1106.2L1414.6 1108.7L1407.9 1111.2L1401.1 1113.8L1394.4 1116.5L1387.7 1119.4L1381.1 1122.3L1374.5 1125.2L1368 1128.3L1361.7 1131.4L1355.4 1134.5L1349.1 1137.8L1343 1141.1L1336.8 1144.7L1330.7 1148.4L1324.7 1152.2L1318.9 1156.2L1313.1 1160.2L1307.6 1164.4L1302.2 1168.6L1296.9 1173L1291.8 1177.5L1286.7 1182.2L1281.7 1187.1L1276.8 1192.1L1272 1197.3L1267.3 1202.7L1262.7 1208.2L1258.3 1213.8L1254 1219.6L1249.9 1225.4L1246 1231.2L1242.1 1237L1238.3 1242.9L1234.5 1248.9L1230.7 1254.9L1226.9 1261L1223.2 1267.3L1219.6 1273.6L1216.2 1280.1L1213.1 1286.6L1210.3 1293.2L1207.9 1299.9L1206 1306.6L1204.3 1313.3L1203 1320L1201.8 1326.8L1200.7 1333.7L1199.6 1340.7L1198.5 1347.8L1197.3 1355L1196 1362.2L1194.5 1369.4L1193 1376.6L1191.3 1383.7L1189.7 1390.7L1188.1 1397.6L1186.6 1404.4L1185.3 1411.2L1184.1 1418L1183.1 1424.8L1182.2 1431.6L1181.5 1438.3L1180.9 1445.1L1180.4 1451.7L1180 1458.4L1179.7 1465.1L1179.4 1471.9L1179.2 1478.8L1178.9 1485.9L1178.7 1493L1178.6 1500.3L1178.4 1507.7L1178.3 1515.2L1178.2 1522.7L1178.1 1530.3L1178 1537.7L1177.9 1544.8L1177.9 1551.6L1177.8 1558L1177.7 1564.1L1177.7 1570Z" fill="#FF00FF"/>
<circle cx="1180.7" cy="1570.0" r="3.0" fill="#FF00FF"/>
<circle cx="2144.0" cy="1004.0" r="3.0" fill="#FF00FF"/>
<path d="M2143 1004.1L2143.1 1010.3L2143.2 1016.8L2143.3 1023.5L2143.5 1030.6L2143.5 1037.8L2143.6 1045.1L2143.6 1052.4L2143.5 1059.7L2143.4 1066.7L2143.2 1073.6L2142.9 1080.3L2142.6 1087L2142.3 1093.6L2141.9 1100.2L2141.5 1106.8L2141 1113.4L2140.5 1120L2139.9 1126.7L2139.2 1133.4L2138.4 1140.2L2137.5 1147L2136.4 1153.9L2135.3 1160.7L2134 1167.7L2132.6 1174.6L2131.2 1181.6L2129.6 1188.5L2127.9 1195.4L2126.2 1202.2L2124.2 1208.8L2122.2 1215.2L2120 1221.4L2117.6 1227.3L2115.1 1233.1L2112.4 1238.6L2109.5 1244.1L2106.4 1249.4L2103.2 1254.8L2099.8 1260.1L2096.3 1265.4L2092.8 1270.8L2089.1 1276.1L2085.3 1281.4L2081.2 1286.6L2076.9 1291.9L2072.4 1297.1L2067.6 1302.2L2062.6 1307.2L2057.4 1312.1L2052.2 1316.9L2046.9 1321.4L2041.6 1325.7L2036.2 1329.8L2030.8 1333.6L2025.3 1337.2L2019.7 1340.6L2014 1343.9L2008.2 1347.1L2002.4 1350.1L1996.6 1353.1L1990.6 1356.1L1984.7 1359L1978.6 1361.9L1972.6 1364.8L1966.4 1367.6L1960.2 1370.5L1954 1373.3L1947.6 1376.1L1941.2 1378.8L1934.7 1381.3L1928.3 1383.7L1921.9 1386L1915.4 1388.2L1908.9 1390.3L1902.1 1392.4L1895.2 1394.4L1888.2 1396.4L1881 1398.3L1873.9 1400.2L1866.8 1402L1859.9 1403.7L1853.1 1405.2L1846.3 1406.8L1839.6 1408.2L1832.8 1409.6L1826 1411.1L1819 1412.5L1812 1413.9L1804.9 1415.2L1797.8 1416.6L1790.6 1418L1783.5 1419.3L1776.4 1420.6L1769.3 1421.9L1762.3 1423.2L1755.2 1424.5L1748.2 1425.7L1741.2 1426.9L1734.1 1428.1L1727.1 1429.3L1720 1430.5L1713 1431.6L1706 1432.8L1699 1433.9L1692.2 1435L1685.4 1436.1L1678.6 1437.2L1671.8 1438.3L1664.9 1439.5L1658.1 1440.6L1651.1 1441.7L1644.1 1442.9L1637.1 1444L1630.1 1445.2L1623.1 1446.4L1616.2 1447.6L1609.2 1448.8L1602.2 1450.1L1595.1 1451.4L1588.1 1452.8L1581.1 1454.2L1574.2 1455.6L1567.4 1457.1L1560.6 1458.6L1553.8 1460.1L1546.9 1461.7L1540 1463.3L1533.1 1464.9L1526.1 1466.5L1519 1468.2L1512 1469.9L1504.9 1471.6L1497.9 1473.3L1490.9 1474.9L1483.9 1476.6L1476.9 1478.2L1470 1479.8L1463.1 1481.4L1456.2 1482.9L1449.4 1484.5L1442.5 1486L1435.6 1487.6L1428.7 1489.2L1421.9 1490.7L1415 1492.3L1408.1 1493.9L1401.2 1495.6L1394.3 1497.3L1387.4 1499L1380.5 1500.8L1373.6 1502.6L1366.7 1504.5L1359.7 1506.4L1352.7 1508.3L1345.8 1510.3L1338.8 1512.3L1331.8 1514.3L1324.8 1516.4L1317.9 1518.5L1310.9 1520.6L1304 1522.8L1297.2 1524.9L1290.3 1527.1L1283.5 1529.3L1276.6 1531.5L1269.6 1533.8L1262.5 1536.2L1255.3 1538.6L1248.1 1541.2L1240.7 1543.7L1233.4 1546.3L1226.2 1548.9L1219.2 1551.5L1212.4 1553.9L1206 1556.3L1199.9 1558.5L1194.3 1560.6L1189 1562.5L1184 1564.3L1179.2 1566.1L1182.2 1574.3L1187 1572.5L1192 1570.7L1197.3 1568.8L1202.9 1566.7L1209 1564.5L1215.4 1562.1L1222.2 1559.7L1229.2 1557.1L1236.4 1554.6L1243.6 1552L1250.9 1549.4L1258.2 1546.9L1265.3 1544.5L1272.4 1542.1L1279.3 1539.8L1286.2 1537.6L1293 1535.4L1299.8 1533.3L1306.6 1531.2L1313.5 1529L1320.4 1526.9L1327.3 1524.9L1334.3 1522.8L1341.2 1520.8L1348.2 1518.8L1355.1 1516.8L1362.1 1514.9L1369 1513L1375.9 1511.2L1382.7 1509.4L1389.6 1507.6L1396.5 1505.9L1403.3 1504.2L1410.2 1502.6L1417 1501L1423.9 1499.4L1430.7 1497.8L1437.6 1496.3L1444.5 1494.7L1451.3 1493.2L1458.2 1491.6L1465.1 1490L1472 1488.4L1478.9 1486.8L1485.9 1485.2L1492.9 1483.6L1499.9 1481.9L1507 1480.2L1514 1478.5L1521.1 1476.9L1528.1 1475.2L1535.1 1473.5L1542 1471.9L1548.9 1470.3L1555.7 1468.8L1562.5 1467.2L1569.2 1465.8L1576 1464.3L1582.9 1462.9L1589.8 1461.5L1596.8 1460.1L1603.8 1458.8L1610.8 1457.6L1617.7 1456.4L1624.6 1455.2L1631.6 1454L1638.5 1452.9L1645.5 1451.7L1652.5 1450.6L1659.5 1449.4L1666.4 1448.3L1673.2 1447.2L1680 1446.1L1686.8 1445L1693.6 1443.8L1700.5 1442.7L1707.4 1441.6L1714.4 1440.5L1721.5 1439.3L1728.5 1438.1L1735.6 1437L1742.7 1435.7L1749.7 1434.5L1756.8 1433.3L1763.8 1432L1770.9 1430.7L1778 1429.4L1785.1 1428.1L1792.3 1426.7L1799.4 1425.4L1806.6 1424L1813.7 1422.6L1820.8 1421.2L1827.8 1419.8L1834.7 1418.4L1841.5 1416.9L1848.3 1415.4L1855.1 1413.9L1861.9 1412.3L1869 1410.6L1876.1 1408.8L1883.3 1406.9L1890.5 1404.9L1897.7 1402.9L1904.7 1400.8L1911.5 1398.7L1918.2 1396.5L1924.8 1394.3L1931.3 1391.9L1937.9 1389.4L1944.4 1386.8L1951 1384.1L1957.5 1381.2L1963.8 1378.3L1970.1 1375.4L1976.2 1372.5L1982.3 1369.6L1988.4 1366.7L1994.4 1363.7L2000.4 1360.7L2006.4 1357.7L2012.3 1354.5L2018.2 1351.2L2024 1347.8L2029.8 1344.2L2035.4 1340.4L2041.1 1336.3L2046.6 1332.1L2052.1 1327.6L2057.5 1322.8L2062.8 1317.9L2068.1 1312.8L2073.2 1307.5L2078.1 1302.2L2082.7 1296.7L2087.1 1291.3L2091.2 1285.8L2095.1 1280.3L2098.8 1274.8L2102.4 1269.4L2105.9 1263.9L2109.3 1258.5L2112.5 1253L2115.6 1247.4L2118.6 1241.7L2121.3 1235.9L2123.8 1229.9L2126.2 1223.7L2128.4 1217.3L2130.4 1210.6L2132.3 1203.9L2134.1 1197L2135.8 1190L2137.3 1182.9L2138.8 1175.9L2140.1 1168.8L2141.4 1161.8L2142.5 1154.8L2143.6 1147.9L2144.5 1141L2145.3 1134.1L2146 1127.3L2146.6 1120.5L2147.1 1113.8L2147.5 1107.2L2147.9 1100.5L2148.3 1093.9L2148.7 1087.3L2149 1080.6L2149.2 1073.8L2149.4 1066.8L2149.5 1059.7L2149.6 1052.5L2149.6 1045.1L2149.5 1037.7L2149.5 1030.5L2149.4 1023.4L2149.2 1016.7L2149.1 1010.2L2149 1003.9Z" fill="#FF00FF"/>
<circle cx="2146.0" cy="1004.0" r="3.0" fill="#FF00FF"/>
<circle cx="1180.7" cy="1570.2" r="3.0" fill="#FF00FF"/>
<path d="M1187 1553L1187 1547.1L1187 1540.9L1186.9 1534.4L1186.9 1527.5L1186.9 1520.2L1186.9 1512.5L1186.9 1504.6L1187 1496.6L1187 1488.7L1187.1 1480.8L1187.2 1473L1187.3 1465.2L1187.4 1457.5L1187.5 1449.8L1187.7 1442.2L1187.9 1434.7L1188.1 1427.3L1188.3 1420.1L1188.7 1412.9L1189 1405.9L1189.5 1399L1190.1 1392.2L1190.7 1385.5L1191.5 1379L1192.4 1372.6L1193.4 1366.2L1194.5 1359.8L1195.7 1353.4L1196.9 1346.9L1198.3 1340.3L1199.8 1333.8L1201.4 1327.2L1203.1 1320.7L1204.9 1314.2L1206.9 1307.9L1209 1301.6L1211.3 1295.4L1214 1289.2L1216.8 1283.1L1220 1277L1223.5 1270.9L1227.1 1264.8L1230.8 1258.7L1234.6 1252.6L1238.4 1246.5L1242.2 1240.5L1246.1 1234.6L1250 1228.7L1253.9 1223.1L1258.1 1217.6L1262.4 1212.3L1266.8 1207.2L1271.4 1202.3L1276.2 1197.5L1281.2 1192.9L1286.2 1188.4L1291.4 1184L1296.7 1179.9L1302 1175.8L1307.4 1171.9L1312.9 1168.2L1318.6 1164.5L1324.4 1161L1330.4 1157.6L1336.5 1154.3L1342.7 1151.3L1349 1148.4L1355.5 1145.7L1362.1 1143.1L1368.8 1140.6L1375.6 1138.3L1382.5 1136L1389.4 1133.8L1396.3 1131.7L1403.2 1129.7L1410 1127.7L1416.7 1125.8L1423.3 1124L1429.8 1122.3L1436.4 1120.7L1443 1119.1L1449.7 1117.6L1456.5 1116.2L1463.3 1114.8L1470.2 1113.6L1477 1112.4L1483.7 1111.3L1490.4 1110.2L1496.9 1109.3L1503.5 1108.4L1510.1 1107.5L1516.8 1106.6L1523.7 1105.8L1530.6 1105L1537.7 1104.2L1544.8 1103.5L1552 1102.7L1559.2 1102L1566.4 1101.3L1573.6 1100.7L1580.8 1100.1L1587.9 1099.5L1595.1 1099L1602.3 1098.5L1609.6 1098L1617 1097.5L1624.4 1097.1L1631.8 1096.7L1639.2 1096.3L1646.6 1095.9L1653.9 1095.5L1661.1 1095.2L1668.2 1094.8L1675.1 1094.4L1681.9 1094L1688.7 1093.7L1695.5 1093.2L1702.3 1092.8L1709.2 1092.3L1716 1091.8L1722.7 1091.3L1729.4 1090.8L1735.9 1090.2L1742.4 1089.7L1748.9 1089.1L1755.5 1088.5L1762.1 1088L1768.7 1087.4L1775.3 1086.9L1781.9 1086.4L1788.6 1085.8L1795.3 1085.3L1802.2 1084.7L1809.2 1084.2L1816.3 1083.6L1823.4 1083L1830.6 1082.4L1837.8 1081.8L1845 1081.2L1852.2 1080.5L1859.4 1079.8L1866.5 1079.1L1873.6 1078.4L1880.7 1077.7L1887.8 1077L1895 1076.2L1902.2 1075.5L1909.3 1074.7L1916.4 1073.9L1923.5 1073.1L1930.5 1072.2L1937.4 1071.4L1944.2 1070.5L1951 1069.7L1957.8 1068.7L1964.6 1067.7L1971.6 1066.7L1978.6 1065.6L1985.8 1064.4L1992.9 1063.1L1999.9 1061.8L2006.9 1060.4L2013.6 1059L2020.3 1057.6L2026.9 1056L2033.5 1054.4L2040.1 1052.7L2046.8 1050.8L2053.4 1048.8L2060.1 1046.8L2066.6 1044.6L2073.1 1042.3L2079.4 1039.9L2085.7 1037.4L2091.8 1034.6L2097.9 1031.8L2104 1028.7L2109.9 1025.5L2115.7 1022.1L2121.5 1018.6L2127.1 1014.9L2132.7 1011.2L2138.1 1007.4L2143.4 1003.6L2148.7 999.8L2143.3 992.2L2138.1 996L2132.8 999.7L2127.4 1003.4L2122 1007L2116.4 1010.5L2110.8 1013.8L2105.2 1017L2099.5 1020L2093.7 1022.9L2087.8 1025.6L2081.8 1028.1L2075.8 1030.5L2069.6 1032.8L2063.4 1035L2057 1037.1L2050.5 1039.1L2044 1041L2037.4 1042.7L2030.9 1044.4L2024.5 1046L2018 1047.5L2011.5 1048.9L2004.8 1050.3L1998 1051.6L1991 1052.9L1984 1054.1L1977 1055.3L1970 1056.4L1963.1 1057.4L1956.3 1058.4L1949.6 1059.3L1942.9 1060.2L1936.1 1061L1929.2 1061.9L1922.3 1062.7L1915.3 1063.5L1908.2 1064.3L1901 1065.1L1893.9 1065.8L1886.8 1066.6L1879.6 1067.3L1872.5 1068L1865.5 1068.7L1858.4 1069.4L1851.3 1070.1L1844.1 1070.7L1836.9 1071.4L1829.7 1072L1822.6 1072.6L1815.4 1073.2L1808.4 1073.7L1801.4 1074.3L1794.5 1074.8L1787.7 1075.4L1781.1 1075.9L1774.4 1076.4L1767.8 1077L1761.2 1077.5L1754.6 1078.1L1748 1078.7L1741.5 1079.2L1735 1079.8L1728.5 1080.3L1721.9 1080.8L1715.2 1081.4L1708.5 1081.9L1701.6 1082.3L1694.8 1082.8L1688.1 1083.2L1681.3 1083.6L1674.5 1084L1667.6 1084.3L1660.6 1084.7L1653.4 1085.1L1646.1 1085.4L1638.7 1085.8L1631.2 1086.2L1623.8 1086.6L1616.3 1087.1L1609 1087.5L1601.6 1088L1594.4 1088.5L1587.1 1089.1L1579.9 1089.6L1572.7 1090.3L1565.4 1090.9L1558.2 1091.6L1550.9 1092.3L1543.7 1093.1L1536.5 1093.8L1529.4 1094.6L1522.4 1095.4L1515.6 1096.3L1508.8 1097.1L1502.1 1098L1495.4 1098.9L1488.8 1099.9L1482.1 1101L1475.2 1102.1L1468.3 1103.3L1461.3 1104.6L1454.4 1106L1447.5 1107.5L1440.7 1109.1L1433.9 1110.7L1427.3 1112.4L1420.6 1114.1L1413.9 1116L1407.2 1117.9L1400.3 1119.8L1393.4 1121.9L1386.4 1124.1L1379.3 1126.3L1372.3 1128.7L1365.3 1131.1L1358.5 1133.7L1351.7 1136.4L1345 1139.3L1338.4 1142.4L1332 1145.7L1325.7 1149.1L1319.5 1152.7L1313.5 1156.5L1307.7 1160.4L1302 1164.3L1296.5 1168.4L1291 1172.7L1285.6 1177.1L1280.3 1181.7L1275.2 1186.4L1270.1 1191.3L1265.2 1196.4L1260.5 1201.7L1256 1207.1L1251.6 1212.7L1247.4 1218.4L1243.4 1224.3L1239.5 1230.3L1235.7 1236.3L1231.9 1242.4L1228.1 1248.5L1224.3 1254.7L1220.5 1261L1216.9 1267.2L1213.5 1273.6L1210.3 1280L1207.4 1286.4L1204.8 1292.8L1202.5 1299.3L1200.4 1305.8L1198.5 1312.4L1196.7 1319L1195.1 1325.6L1193.5 1332.3L1192 1339L1190.7 1345.6L1189.4 1352.2L1188.2 1358.7L1187.2 1365.2L1186.2 1371.7L1185.4 1378.2L1184.6 1384.9L1184 1391.7L1183.4 1398.6L1183 1405.6L1182.6 1412.6L1182.3 1419.8L1182.1 1427.1L1181.9 1434.6L1181.7 1442.1L1181.5 1449.7L1181.4 1457.4L1181.3 1465.1L1181.1 1472.9L1181.1 1480.7L1181 1488.6L1181 1496.6L1180.9 1504.6L1180.9 1512.5L1180.9 1520.2L1180.9 1527.5L1180.9 1534.4L1181 1540.9L1181 1547.1L1181 1553Z" fill="#F5822E"/>
<circle cx="1184.0" cy="1553.0" r="3.0" fill="#F5822E"/>
<circle cx="2146.0" cy="996.0" r="3.0" fill="#F5822E"/>
<path d="M2144 997.1L2144.1 1003.7L2144.3 1010.5L2144.4 1017.4L2144.5 1024.5L2144.5 1031.7L2144.4 1038.9L2144.3 1045.9L2144 1052.9L2143.8 1059.8L2143.5 1066.6L2143.2 1073.4L2142.9 1080.3L2142.6 1087.2L2142.3 1094.2L2142 1101.3L2141.7 1108.4L2141.3 1115.6L2140.7 1122.7L2140.1 1129.9L2139.3 1137L2138.4 1144.2L2137.4 1151.3L2136.3 1158.4L2135.1 1165.5L2133.9 1172.6L2132.5 1179.7L2131 1186.7L2129.5 1193.8L2127.8 1200.9L2126 1208L2124.1 1215L2122 1222.1L2119.8 1229.2L2117.4 1236.2L2114.8 1243.1L2112 1249.9L2109.1 1256.4L2106 1262.6L2102.7 1268.6L2099.3 1274.4L2095.9 1280.1L2092.3 1285.7L2088.5 1291.3L2084.7 1296.8L2080.6 1302.2L2076.3 1307.3L2071.9 1312.3L2067.3 1317L2062.6 1321.5L2057.8 1325.8L2052.9 1330L2048 1334.2L2043 1338.3L2038 1342.5L2032.9 1346.5L2027.9 1350.5L2022.8 1354.4L2017.7 1358.1L2012.3 1361.6L2006.7 1365L2000.9 1368.3L1994.9 1371.3L1988.7 1374.3L1982.3 1377.1L1975.6 1379.8L1968.8 1382.5L1961.8 1385.1L1954.8 1387.7L1947.7 1390.2L1940.7 1392.7L1933.8 1395.1L1927.1 1397.4L1920.4 1399.6L1913.8 1401.7L1907.2 1403.8L1900.6 1405.8L1893.9 1407.8L1887 1409.8L1880.2 1411.6L1873.2 1413.4L1866.4 1415.2L1859.6 1416.8L1852.8 1418.4L1846.1 1419.9L1839.4 1421.3L1832.7 1422.8L1825.8 1424.2L1818.9 1425.6L1811.8 1427L1804.7 1428.4L1797.6 1429.7L1790.5 1431.1L1783.4 1432.4L1776.3 1433.7L1769.2 1434.9L1762.2 1436.2L1755.1 1437.4L1748.1 1438.5L1741.1 1439.7L1734 1440.8L1727 1441.9L1720 1443L1712.9 1444L1705.9 1445.1L1699 1446.1L1692.1 1447.1L1685.3 1448L1678.6 1449L1671.8 1450L1665 1450.9L1658.1 1451.8L1651.1 1452.8L1644.1 1453.7L1637.1 1454.6L1630.2 1455.5L1623.2 1456.4L1616.3 1457.3L1609.3 1458.2L1602.3 1459.1L1595.3 1460L1588.3 1461L1581.3 1461.9L1574.4 1462.9L1567.6 1463.9L1560.8 1464.8L1554 1465.8L1547.2 1466.8L1540.3 1467.8L1533.3 1468.8L1526.3 1469.9L1519.3 1470.9L1512.2 1472L1505.2 1473.1L1498.1 1474.2L1491.1 1475.3L1484.1 1476.4L1477.1 1477.4L1470.2 1478.5L1463.3 1479.6L1456.4 1480.7L1449.5 1481.7L1442.7 1482.8L1435.8 1483.9L1428.9 1485L1422 1486.2L1415.1 1487.3L1408.3 1488.5L1401.4 1489.7L1394.5 1490.9L1387.6 1492.2L1380.6 1493.5L1373.7 1494.9L1366.8 1496.2L1359.8 1497.7L1352.8 1499.1L1345.8 1500.6L1338.8 1502.2L1331.7 1503.7L1324.7 1505.3L1317.8 1506.9L1310.8 1508.6L1303.9 1510.3L1297 1512L1290.1 1513.7L1283.2 1515.6L1276.2 1517.5L1269.1 1519.5L1261.8 1521.6L1254.4 1523.9L1246.9 1526.2L1239.3 1528.7L1231.8 1531.2L1224.4 1533.6L1217.3 1536.1L1210.5 1538.4L1204.1 1540.6L1198.2 1542.7L1192.6 1544.6L1187.4 1546.5L1182.3 1548.2L1185.7 1557.8L1190.7 1556L1196 1554.2L1201.5 1552.3L1207.5 1550.2L1213.8 1548L1220.6 1545.7L1227.7 1543.2L1235 1540.8L1242.4 1538.4L1250 1536L1257.4 1533.6L1264.8 1531.4L1272 1529.3L1279 1527.4L1285.9 1525.5L1292.7 1523.7L1299.5 1521.9L1306.4 1520.3L1313.2 1518.6L1320.1 1517L1327 1515.4L1334 1513.8L1341 1512.3L1348 1510.7L1354.9 1509.3L1361.9 1507.8L1368.8 1506.4L1375.7 1505L1382.6 1503.7L1389.5 1502.4L1396.3 1501.1L1403.2 1499.9L1410 1498.7L1416.9 1497.6L1423.7 1496.4L1430.6 1495.3L1437.4 1494.2L1444.3 1493.1L1451.2 1492L1458 1491L1464.9 1489.9L1471.8 1488.8L1478.7 1487.7L1485.7 1486.6L1492.7 1485.6L1499.7 1484.5L1506.7 1483.4L1513.8 1482.3L1520.8 1481.3L1527.9 1480.2L1534.9 1479.2L1541.8 1478.1L1548.7 1477.1L1555.5 1476.1L1562.3 1475.1L1569 1474.2L1575.9 1473.2L1582.7 1472.3L1589.7 1471.3L1596.7 1470.4L1603.7 1469.5L1610.6 1468.6L1617.6 1467.7L1624.5 1466.8L1631.5 1465.9L1638.5 1465L1645.5 1464.1L1652.5 1463.1L1659.5 1462.2L1666.4 1461.2L1673.2 1460.3L1680 1459.3L1686.8 1458.4L1693.6 1457.4L1700.5 1456.4L1707.5 1455.4L1714.5 1454.3L1721.5 1453.3L1728.6 1452.2L1735.7 1451.1L1742.7 1450L1749.8 1448.8L1756.9 1447.6L1763.9 1446.4L1771 1445.2L1778.1 1443.9L1785.2 1442.6L1792.4 1441.3L1799.6 1439.9L1806.7 1438.6L1813.8 1437.2L1820.9 1435.8L1827.9 1434.3L1834.8 1432.9L1841.6 1431.5L1848.4 1430L1855.1 1428.4L1862 1426.8L1868.8 1425.2L1875.8 1423.4L1882.8 1421.6L1889.8 1419.6L1896.7 1417.7L1903.5 1415.6L1910.2 1413.5L1916.9 1411.4L1923.6 1409.2L1930.3 1407L1937.1 1404.6L1944.1 1402.2L1951.1 1399.7L1958.2 1397.2L1965.4 1394.5L1972.4 1391.8L1979.4 1389.1L1986.2 1386.2L1992.8 1383.2L1999.3 1380.1L2005.6 1376.8L2011.6 1373.3L2017.5 1369.6L2023 1365.7L2028.4 1361.8L2033.5 1357.7L2038.6 1353.6L2043.7 1349.5L2048.8 1345.3L2053.8 1341L2058.8 1336.8L2063.8 1332.4L2068.6 1327.8L2073.5 1323.1L2078.2 1318L2082.7 1312.7L2087.1 1307.2L2091.2 1301.5L2095.1 1295.7L2098.8 1290L2102.4 1284.2L2105.9 1278.3L2109.3 1272.2L2112.6 1265.9L2115.7 1259.4L2118.6 1252.6L2121.3 1245.6L2123.8 1238.5L2126.2 1231.3L2128.4 1224.1L2130.4 1216.8L2132.3 1209.6L2134.1 1202.4L2135.8 1195.2L2137.3 1188.1L2138.8 1180.9L2140.1 1173.7L2141.4 1166.6L2142.5 1159.4L2143.6 1152.2L2144.6 1145L2145.4 1137.7L2146.2 1130.5L2146.8 1123.2L2147.3 1116L2147.7 1108.8L2148.1 1101.6L2148.4 1094.5L2148.6 1087.5L2148.9 1080.5L2149.2 1073.7L2149.5 1066.8L2149.8 1060L2150.1 1053.1L2150.3 1046.1L2150.4 1039L2150.5 1031.7L2150.5 1024.5L2150.4 1017.3L2150.3 1010.3L2150.2 1003.6L2150 996.9Z" fill="#F5822E"/>
<circle cx="2147.0" cy="997.0" r="3.0" fill="#F5822E"/>
<circle cx="1184.0" cy="1553.0" r="3.0" fill="#F5822E"/>
<path d="M1185.3 2127.6L1188.5 2121.4L1192 2115.6L1195.9 2110.7L1200.4 2106.5L1205.4 2103.2L1211 2100.4L1217.3 2098.2L1224.2 2096.3L1231.5 2094.7L1239.1 2093.3L1246.8 2092.1L1254.5 2091L1262 2090L1269.3 2089L1276.4 2088.1L1283.3 2087.3L1290.1 2086.5L1296.8 2085.7L1303.7 2085L1310.5 2084.2L1317.5 2083.4L1324.5 2082.7L1331.6 2081.9L1338.7 2081.2L1345.9 2080.5L1353 2079.8L1360.1 2079.1L1367.2 2078.4L1374.3 2077.8L1381.3 2077.2L1388.4 2076.6L1395.4 2076.1L1402.5 2075.6L1409.7 2075.2L1416.9 2074.8L1424.1 2074.5L1431.4 2074.2L1438.6 2073.8L1445.6 2073.5L1452.5 2073L1459.2 2072.5L1465.8 2071.9L1472.2 2071.2L1478.6 2070.4L1485.1 2069.7L1491.6 2069L1498.3 2068.4L1504.9 2067.9L1511.6 2067.4L1518.4 2067.1L1525.3 2066.7L1532.3 2066.5L1539.5 2066.2L1546.9 2066L1554.4 2065.7L1562 2065.5L1569.7 2065.2L1577.3 2065L1584.9 2064.8L1592.5 2064.5L1600 2064.2L1607.5 2064L1614.9 2063.7L1622.4 2063.4L1629.9 2063.1L1637.3 2062.8L1644.8 2062.5L1652.1 2062.2L1659.4 2062L1666.6 2061.7L1673.7 2061.5L1680.6 2061.3L1687.5 2061.2L1694.3 2061.1L1701.1 2061.1L1707.9 2061.2L1714.6 2061.3L1721.3 2061.5L1727.9 2061.8L1734.5 2062.1L1741.1 2062.3L1747.9 2062.6L1754.6 2062.8L1761.4 2063L1768.1 2063.1L1774.8 2063.1L1781.5 2063.1L1788.2 2063.1L1794.9 2063.1L1801.8 2063L1808.8 2062.9L1815.9 2062.8L1823.1 2062.7L1830.3 2062.5L1837.5 2062.3L1844.7 2062.1L1851.9 2061.9L1859 2061.7L1866.1 2061.4L1873.3 2061.1L1880.4 2060.7L1887.5 2060.3L1894.7 2059.9L1901.8 2059.5L1909 2059L1916.1 2058.6L1923.2 2058.1L1930.1 2057.6L1937 2057.1L1943.8 2056.6L1950.6 2056L1957.3 2055.5L1964.1 2054.9L1970.9 2054.4L1977.9 2053.8L1984.8 2053.1L1991.8 2052.5L1998.7 2051.8L2005.4 2051.1L2012.1 2050.4L2018.7 2049.7L2025.3 2049L2032 2048.4L2038.8 2047.7L2045.6 2047L2052.6 2046.3L2059.6 2045.6L2066.6 2044.9L2073.6 2044.2L2080.6 2043.5L2087.6 2042.8L2094.5 2042.1L2101.4 2041.4L2108.4 2040.6L2115.4 2039.9L2122.3 2039.1L2129.1 2038.3L2135.5 2037.5L2141.6 2036.8L2147.4 2036.1L2153 2035.5L2152 2027.5L2146.4 2028.2L2140.7 2028.9L2134.6 2029.6L2128.2 2030.4L2121.4 2031.1L2114.5 2031.9L2107.5 2032.7L2100.6 2033.4L2093.7 2034.2L2086.7 2034.9L2079.8 2035.6L2072.9 2036.3L2065.8 2036.9L2058.8 2037.6L2051.8 2038.3L2044.8 2039L2038 2039.7L2031.2 2040.4L2024.5 2041.1L2017.9 2041.8L2011.3 2042.5L2004.6 2043.2L1997.9 2043.8L1991 2044.5L1984.1 2045.2L1977.2 2045.8L1970.2 2046.4L1963.4 2047L1956.7 2047.5L1950 2048.1L1943.2 2048.6L1936.4 2049.1L1929.6 2049.6L1922.6 2050.1L1915.6 2050.6L1908.5 2051.1L1901.3 2051.5L1894.2 2051.9L1887.1 2052.4L1880 2052.7L1872.9 2053.1L1865.8 2053.4L1858.7 2053.7L1851.6 2053.9L1844.5 2054.2L1837.3 2054.3L1830.1 2054.5L1822.9 2054.7L1815.8 2054.8L1808.7 2054.9L1801.7 2055L1794.9 2055.1L1788.1 2055.1L1781.5 2055.1L1774.8 2055.1L1768.2 2055.1L1761.5 2055L1754.8 2054.8L1748.1 2054.6L1741.5 2054.3L1734.8 2054.1L1728.2 2053.8L1721.5 2053.5L1714.8 2053.3L1708 2053.2L1701.2 2053.1L1694.3 2053.1L1687.4 2053.2L1680.4 2053.3L1673.4 2053.5L1666.3 2053.7L1659.1 2054L1651.8 2054.2L1644.5 2054.5L1637 2054.8L1629.6 2055.1L1622.1 2055.4L1614.6 2055.7L1607.2 2056L1599.7 2056.3L1592.2 2056.5L1584.7 2056.8L1577.1 2057L1569.4 2057.2L1561.8 2057.5L1554.2 2057.7L1546.6 2058L1539.2 2058.2L1532 2058.5L1524.9 2058.8L1518 2059.1L1511.2 2059.4L1504.4 2059.9L1497.6 2060.4L1490.9 2061.1L1484.2 2061.8L1477.7 2062.5L1471.4 2063.2L1465 2063.9L1458.6 2064.5L1452 2065L1445.1 2065.5L1438.1 2065.8L1431 2066.2L1423.7 2066.5L1416.5 2066.9L1409.2 2067.2L1402 2067.7L1394.9 2068.1L1387.7 2068.7L1380.7 2069.2L1373.6 2069.8L1366.5 2070.5L1359.4 2071.1L1352.2 2071.8L1345.1 2072.5L1337.9 2073.3L1330.8 2074L1323.7 2074.8L1316.6 2075.5L1309.7 2076.3L1302.8 2077L1295.9 2077.8L1289.1 2078.6L1282.3 2079.4L1275.4 2080.2L1268.3 2081.1L1261 2082.1L1253.4 2083.1L1245.6 2084.2L1237.7 2085.5L1229.9 2086.9L1222.2 2088.6L1214.8 2090.7L1207.9 2093.4L1201.4 2096.7L1195.7 2100.9L1190.7 2105.9L1186.4 2111.7L1182.8 2117.9L1179.5 2124.4Z" fill="#000000"/>
<circle cx="1182.4" cy="2126.0" r="3.0" fill="#000000"/>
<circle cx="2152.5" cy="2031.5" r="3.0" fill="#000000"/>
<path d="M2150.6 2029.5L2147.7 2035.1L2144.7 2040.7L2141.3 2045.9L2137.4 2050.8L2132.9 2055.3L2128 2059.4L2122.7 2062.9L2117.1 2065.9L2111.2 2068.4L2105.1 2070.5L2098.8 2072.3L2092.4 2073.8L2085.9 2075.2L2079.2 2076.4L2072.4 2077.6L2065.5 2078.7L2058.5 2079.8L2051.5 2080.8L2044.4 2081.7L2037.3 2082.6L2030.3 2083.5L2023.3 2084.3L2016.2 2085.1L2009.1 2085.9L2001.9 2086.6L1994.7 2087.4L1987.4 2088.2L1980.2 2088.9L1973.1 2089.6L1966.1 2090.4L1959.2 2091L1952.4 2091.7L1945.7 2092.4L1939 2093L1932.5 2093.6L1926 2094.2L1919.6 2094.7L1913.1 2095.2L1906.6 2095.7L1900.1 2096.2L1893.4 2096.6L1886.7 2097L1880 2097.4L1873.2 2097.8L1866.3 2098.1L1859.4 2098.4L1852.5 2098.8L1845.6 2099.1L1838.7 2099.4L1832 2099.7L1825.3 2100L1818.6 2100.3L1812.1 2100.6L1805.5 2100.9L1798.8 2101.1L1792.1 2101.4L1785.2 2101.7L1778.3 2101.9L1771.3 2102.2L1764.3 2102.4L1757.4 2102.6L1750.5 2102.8L1743.7 2103L1736.7 2103.2L1729.8 2103.4L1722.7 2103.5L1715.6 2103.7L1708.4 2103.9L1701.2 2104L1694.1 2104.2L1687 2104.3L1679.9 2104.5L1672.9 2104.6L1665.9 2104.8L1658.9 2104.9L1651.9 2105L1644.8 2105.1L1637.8 2105.2L1630.8 2105.3L1623.8 2105.4L1616.9 2105.5L1609.9 2105.6L1603 2105.7L1596 2105.8L1589 2105.9L1582.2 2106L1575.4 2106.1L1568.7 2106.2L1562.2 2106.3L1555.7 2106.4L1549.1 2106.5L1542.5 2106.6L1535.8 2106.8L1529 2106.9L1522 2107.1L1515 2107.2L1507.8 2107.4L1500.6 2107.6L1493.3 2107.8L1486.2 2108.1L1479.1 2108.3L1472.1 2108.6L1465.2 2108.8L1458.4 2109.1L1451.5 2109.4L1444.7 2109.7L1437.7 2110L1430.7 2110.4L1423.6 2110.7L1416.5 2111L1409.3 2111.4L1402.1 2111.8L1395 2112.1L1387.8 2112.5L1380.7 2112.9L1373.7 2113.3L1366.8 2113.7L1359.9 2114.1L1352.9 2114.5L1345.9 2114.9L1338.9 2115.4L1331.7 2115.9L1324.3 2116.4L1316.9 2117L1309.4 2117.5L1301.9 2118.1L1294.6 2118.7L1287.3 2119.3L1280.1 2119.9L1273.2 2120.5L1266.4 2121.1L1259.8 2121.6L1253.3 2122.1L1246.8 2122.6L1240.3 2123L1233.6 2123.3L1226.7 2123.5L1219.7 2123.7L1212.6 2123.7L1205.8 2123.7L1199.4 2123.6L1193.4 2123.4L1187.9 2123.2L1182.6 2123L1182.2 2131L1187.6 2131.2L1193.2 2131.4L1199.2 2131.6L1205.7 2131.7L1212.7 2131.7L1219.8 2131.7L1227 2131.5L1234 2131.3L1240.8 2130.9L1247.4 2130.5L1253.9 2130.1L1260.4 2129.6L1267 2129.1L1273.8 2128.5L1280.8 2127.9L1287.9 2127.3L1295.2 2126.7L1302.6 2126.1L1310 2125.5L1317.5 2124.9L1324.9 2124.4L1332.2 2123.8L1339.4 2123.4L1346.5 2122.9L1353.4 2122.5L1360.3 2122L1367.2 2121.6L1374.2 2121.3L1381.2 2120.9L1388.2 2120.5L1395.4 2120.1L1402.5 2119.7L1409.7 2119.4L1416.9 2119L1424 2118.7L1431.1 2118.3L1438.1 2118L1445 2117.7L1451.9 2117.4L1458.7 2117.1L1465.5 2116.8L1472.4 2116.6L1479.3 2116.3L1486.4 2116.1L1493.6 2115.8L1500.8 2115.6L1508 2115.4L1515.2 2115.2L1522.2 2115L1529.2 2114.9L1536 2114.8L1542.7 2114.6L1549.3 2114.5L1555.8 2114.4L1562.3 2114.3L1568.9 2114.2L1575.5 2114.1L1582.3 2114L1589.1 2113.9L1596.1 2113.8L1603.1 2113.7L1610 2113.6L1617 2113.5L1623.9 2113.4L1630.9 2113.3L1637.9 2113.2L1644.9 2113.1L1652 2113L1659 2112.9L1666.1 2112.8L1673.1 2112.6L1680.1 2112.5L1687.1 2112.3L1694.2 2112.2L1701.4 2112L1708.6 2111.9L1715.8 2111.7L1722.9 2111.5L1730 2111.4L1737 2111.2L1743.9 2111L1750.8 2110.8L1757.6 2110.6L1764.6 2110.4L1771.6 2110.2L1778.6 2109.9L1785.5 2109.7L1792.4 2109.4L1799.1 2109.1L1805.8 2108.9L1812.4 2108.6L1819 2108.3L1825.6 2108L1832.3 2107.7L1839.1 2107.4L1845.9 2107.1L1852.8 2106.8L1859.8 2106.4L1866.7 2106.1L1873.6 2105.8L1880.4 2105.4L1887.2 2105L1893.9 2104.6L1900.6 2104.2L1907.2 2103.7L1913.7 2103.2L1920.2 2102.7L1926.7 2102.1L1933.2 2101.6L1939.8 2101L1946.4 2100.3L1953.2 2099.7L1960 2099L1966.9 2098.3L1974 2097.6L1981.1 2096.9L1988.3 2096.1L1995.5 2095.4L2002.8 2094.6L2010 2093.8L2017.1 2093L2024.2 2092.2L2031.2 2091.4L2038.3 2090.6L2045.4 2089.7L2052.6 2088.7L2059.7 2087.7L2066.8 2086.6L2073.8 2085.4L2080.6 2084.2L2087.5 2082.9L2094.2 2081.5L2100.9 2079.9L2107.5 2078L2114.1 2075.7L2120.5 2072.8L2126.7 2069.4L2132.5 2065.3L2137.9 2060.6L2142.7 2055.5L2146.9 2050L2150.4 2044.2L2153.6 2038.4L2156.4 2032.5Z" fill="#000000"/>
<circle cx="2153.5" cy="2031.0" r="3.0" fill="#000000"/>
<circle cx="1182.4" cy="2127.0" r="3.0" fill="#000000"/>
<path d="M1185.4 2153.8L1186.1 2146.6L1187.1 2139.4L1188.4 2132.5L1190.4 2126.1L1193 2120.2L1196.3 2114.9L1200.2 2110.2L1204.7 2106.1L1209.6 2102.5L1214.8 2099.5L1220.2 2096.9L1225.8 2094.7L1231.5 2092.7L1237.2 2090.9L1242.9 2089.1L1248.7 2087.3L1254.5 2085.4L1260.4 2083.5L1266.4 2081.5L1272.4 2079.5L1278.5 2077.7L1284.8 2075.9L1291.1 2074.3L1297.6 2072.7L1304.2 2071.3L1311 2069.9L1317.8 2068.7L1324.8 2067.5L1331.8 2066.5L1338.8 2065.5L1345.9 2064.6L1353 2063.8L1360.1 2063.1L1367.2 2062.5L1374.2 2061.9L1381.2 2061.5L1388.3 2061L1395.4 2060.7L1402.5 2060.3L1409.7 2059.9L1416.9 2059.5L1424.2 2059.1L1431.4 2058.6L1438.6 2058.1L1445.7 2057.6L1452.6 2057.1L1459.3 2056.5L1465.8 2055.9L1472.2 2055.2L1478.6 2054.6L1485.1 2053.9L1491.6 2053.3L1498.3 2052.7L1505 2052.2L1511.7 2051.7L1518.5 2051.2L1525.4 2050.8L1532.4 2050.4L1539.6 2050L1547 2049.6L1554.5 2049.2L1562.1 2048.8L1569.8 2048.4L1577.4 2048L1585 2047.7L1592.5 2047.4L1600 2047.1L1607.5 2046.8L1614.9 2046.6L1622.4 2046.3L1629.8 2046.1L1637.3 2045.9L1644.7 2045.7L1652.1 2045.5L1659.4 2045.4L1666.6 2045.2L1673.7 2045L1680.6 2044.8L1687.6 2044.6L1694.4 2044.4L1701.3 2044.1L1708.1 2043.8L1714.9 2043.5L1721.6 2043.2L1728.3 2042.8L1734.9 2042.4L1741.5 2042.1L1748.2 2041.7L1754.9 2041.4L1761.6 2041.1L1768.3 2040.8L1775 2040.5L1781.6 2040.3L1788.3 2040L1795 2039.8L1801.9 2039.6L1808.9 2039.4L1816 2039.1L1823.1 2038.9L1830.3 2038.7L1837.5 2038.4L1844.7 2038.2L1851.9 2037.9L1859 2037.6L1866.1 2037.4L1873.2 2037.1L1880.3 2036.8L1887.5 2036.4L1894.6 2036.1L1901.8 2035.8L1908.9 2035.5L1916 2035.1L1923.1 2034.8L1930.1 2034.4L1936.9 2034.1L1943.7 2033.7L1950.5 2033.3L1957.2 2032.9L1964 2032.5L1970.8 2032.1L1977.8 2031.7L1984.7 2031.2L1991.7 2030.8L1998.6 2030.3L2005.3 2029.8L2012 2029.2L2018.6 2028.7L2025.3 2028.2L2032 2027.6L2038.7 2027L2045.6 2026.4L2052.6 2025.7L2059.6 2025.1L2066.6 2024.4L2073.6 2023.7L2080.6 2023L2087.6 2022.3L2094.5 2021.5L2101.5 2020.7L2108.5 2019.9L2115.5 2019L2122.4 2018L2129.2 2017.1L2135.6 2016.1L2141.7 2015.2L2147.5 2014.3L2153.1 2013.4L2151.9 2005.6L2146.3 2006.4L2140.5 2007.3L2134.5 2008.2L2128 2009.2L2121.3 2010.1L2114.4 2011.1L2107.5 2012L2100.5 2012.8L2093.6 2013.6L2086.7 2014.4L2079.8 2015.1L2072.9 2015.8L2065.9 2016.5L2058.8 2017.1L2051.8 2017.8L2044.9 2018.4L2038 2019L2031.3 2019.6L2024.6 2020.2L2018 2020.7L2011.4 2021.3L2004.7 2021.8L1998 2022.3L1991.1 2022.8L1984.2 2023.3L1977.3 2023.7L1970.3 2024.2L1963.5 2024.6L1956.8 2025L1950 2025.3L1943.3 2025.7L1936.5 2026.1L1929.7 2026.4L1922.7 2026.8L1915.6 2027.1L1908.5 2027.5L1901.4 2027.8L1894.3 2028.1L1887.1 2028.5L1880 2028.8L1872.9 2029.1L1865.8 2029.4L1858.7 2029.6L1851.6 2029.9L1844.4 2030.2L1837.3 2030.4L1830.1 2030.7L1822.9 2030.9L1815.7 2031.1L1808.6 2031.4L1801.7 2031.6L1794.8 2031.8L1788 2032L1781.3 2032.3L1774.6 2032.5L1768 2032.8L1761.2 2033.1L1754.5 2033.4L1747.8 2033.7L1741.1 2034.1L1734.4 2034.5L1727.8 2034.8L1721.2 2035.2L1714.5 2035.5L1707.8 2035.8L1701 2036.1L1694.1 2036.4L1687.3 2036.6L1680.4 2036.8L1673.4 2037L1666.4 2037.2L1659.2 2037.4L1651.9 2037.5L1644.5 2037.7L1637.1 2037.9L1629.6 2038.1L1622.1 2038.3L1614.7 2038.6L1607.2 2038.8L1599.7 2039.1L1592.2 2039.4L1584.6 2039.7L1577 2040.1L1569.4 2040.4L1561.7 2040.8L1554.1 2041.2L1546.6 2041.6L1539.2 2042L1531.9 2042.4L1524.9 2042.8L1517.9 2043.2L1511.1 2043.7L1504.3 2044.2L1497.6 2044.7L1490.9 2045.3L1484.3 2046L1477.8 2046.6L1471.4 2047.3L1465 2047.9L1458.5 2048.5L1451.9 2049.1L1445.1 2049.6L1438.1 2050.1L1430.9 2050.6L1423.7 2051.1L1416.4 2051.5L1409.2 2051.9L1402 2052.3L1394.9 2052.7L1387.8 2053.1L1380.7 2053.5L1373.6 2054L1366.5 2054.5L1359.4 2055.1L1352.2 2055.8L1345 2056.7L1337.8 2057.6L1330.6 2058.6L1323.5 2059.7L1316.5 2060.9L1309.5 2062.1L1302.6 2063.5L1295.9 2065L1289.2 2066.6L1282.7 2068.3L1276.3 2070.1L1270.1 2072L1264 2074L1258 2076L1252.1 2077.9L1246.3 2079.8L1240.5 2081.6L1234.7 2083.4L1228.9 2085.3L1223 2087.4L1217 2089.9L1211.1 2092.8L1205.3 2096.4L1199.9 2100.5L1194.9 2105.4L1190.7 2111L1187.1 2117.2L1184.4 2123.9L1182.4 2131L1181 2138.3L1180.1 2145.7L1179.4 2153.2Z" fill="#FF0000"/>
<circle cx="1182.4" cy="2153.5" r="3.0" fill="#FF0000"/>
<circle cx="2152.5" cy="2009.5" r="3.0" fill="#FF0000"/>
<path d="M2150.5 2008.9L2148.3 2015.4L2146 2021.7L2143.3 2027.9L2140.3 2033.7L2136.9 2039.2L2133.1 2044.3L2128.9 2049L2124.4 2053.2L2119.6 2056.9L2114.4 2060.3L2109.1 2063.4L2103.5 2066.2L2097.7 2068.7L2091.8 2071.1L2085.9 2073.3L2079.9 2075.3L2074 2077.3L2068 2079.2L2062 2081L2055.8 2082.6L2049.5 2084.2L2043 2085.6L2036.4 2086.8L2029.8 2088L2023 2089L2016.1 2089.9L2009 2090.9L2001.8 2091.7L1994.6 2092.6L1987.4 2093.4L1980.2 2094.2L1973.1 2095L1966.1 2095.8L1959.2 2096.5L1952.4 2097.3L1945.6 2098L1939 2098.7L1932.4 2099.4L1926 2100L1919.5 2100.6L1913 2101.3L1906.5 2101.9L1899.9 2102.6L1893.3 2103.2L1886.6 2103.9L1879.8 2104.5L1873 2105.2L1866.1 2105.8L1859.2 2106.5L1852.3 2107.1L1845.4 2107.7L1838.6 2108.3L1831.8 2108.9L1825.1 2109.4L1818.5 2109.9L1812 2110.3L1805.4 2110.7L1798.7 2111.2L1792 2111.6L1785.1 2112L1778.1 2112.5L1771.1 2113L1764.2 2113.5L1757.2 2114L1750.3 2114.6L1743.4 2115.1L1736.5 2115.7L1729.5 2116.3L1722.5 2116.9L1715.3 2117.5L1708.1 2118.2L1701 2118.8L1693.8 2119.4L1686.7 2119.9L1679.7 2120.5L1672.7 2121L1665.7 2121.5L1658.7 2121.9L1651.7 2122.3L1644.7 2122.7L1637.7 2123L1630.7 2123.3L1623.7 2123.6L1616.8 2123.8L1609.8 2124.1L1602.9 2124.3L1595.9 2124.5L1589 2124.7L1582.1 2125L1575.3 2125.2L1568.7 2125.4L1562.1 2125.7L1555.6 2125.9L1549 2126.1L1542.4 2126.3L1535.7 2126.6L1528.9 2126.8L1522 2127.1L1514.9 2127.4L1507.8 2127.7L1500.5 2128L1493.3 2128.3L1486.1 2128.6L1479 2129L1472.1 2129.3L1465.2 2129.7L1458.5 2130.1L1451.7 2130.4L1444.9 2130.8L1438 2131.2L1431.1 2131.6L1424 2132L1417 2132.5L1409.9 2132.9L1402.7 2133.3L1395.6 2133.8L1388.5 2134.2L1381.4 2134.7L1374.3 2135.2L1367.3 2135.6L1360.3 2136.1L1353.3 2136.6L1346.2 2137.1L1339 2137.7L1331.6 2138.2L1324.1 2138.8L1316.5 2139.4L1308.8 2140.1L1301 2140.7L1293.3 2141.4L1285.6 2142.1L1278.1 2142.7L1270.6 2143.4L1263.4 2144L1256.4 2144.7L1249.5 2145.3L1242.8 2145.8L1236.2 2146.4L1229.4 2146.9L1222.5 2147.4L1215.4 2147.9L1208.2 2148.3L1201.2 2148.7L1194.6 2149L1188.3 2149.3L1182.2 2149.5L1182.6 2157.5L1188.6 2157.3L1194.9 2157L1201.6 2156.7L1208.7 2156.3L1215.9 2155.9L1223 2155.4L1230 2154.9L1236.8 2154.4L1243.5 2153.8L1250.2 2153.2L1257.1 2152.6L1264.1 2152L1271.3 2151.3L1278.8 2150.7L1286.3 2150L1294 2149.3L1301.7 2148.7L1309.4 2148L1317.1 2147.4L1324.8 2146.8L1332.2 2146.2L1339.6 2145.6L1346.8 2145.1L1353.8 2144.6L1360.8 2144.1L1367.8 2143.6L1374.8 2143.1L1381.9 2142.7L1389 2142.2L1396.1 2141.8L1403.2 2141.3L1410.3 2140.9L1417.5 2140.4L1424.5 2140L1431.5 2139.6L1438.5 2139.2L1445.3 2138.8L1452.1 2138.4L1458.9 2138L1465.7 2137.7L1472.5 2137.3L1479.4 2137L1486.5 2136.6L1493.7 2136.3L1500.9 2136L1508.1 2135.7L1515.2 2135.4L1522.3 2135.1L1529.2 2134.8L1536 2134.6L1542.7 2134.3L1549.3 2134.1L1555.9 2133.9L1562.4 2133.7L1568.9 2133.4L1575.6 2133.2L1582.3 2133L1589.2 2132.7L1596.2 2132.5L1603.1 2132.3L1610.1 2132.1L1617.1 2131.8L1624 2131.6L1631 2131.3L1638 2131L1645.1 2130.7L1652.1 2130.3L1659.2 2129.9L1666.3 2129.5L1673.3 2129L1680.3 2128.4L1687.4 2127.9L1694.5 2127.3L1701.6 2126.7L1708.8 2126.1L1716 2125.5L1723.1 2124.9L1730.2 2124.3L1737.2 2123.7L1744.1 2123.1L1751 2122.5L1757.8 2122L1764.7 2121.5L1771.7 2121L1778.7 2120.5L1785.6 2120L1792.5 2119.6L1799.2 2119.1L1805.9 2118.7L1812.5 2118.3L1819.1 2117.8L1825.7 2117.3L1832.5 2116.8L1839.2 2116.3L1846.1 2115.7L1853 2115.1L1859.9 2114.4L1866.9 2113.8L1873.7 2113.1L1880.6 2112.5L1887.4 2111.8L1894.1 2111.1L1900.7 2110.5L1907.3 2109.9L1913.8 2109.2L1920.3 2108.6L1926.8 2108L1933.2 2107.3L1939.8 2106.6L1946.5 2105.9L1953.2 2105.2L1960 2104.5L1967 2103.7L1974 2103L1981.1 2102.2L1988.3 2101.3L1995.5 2100.5L2002.8 2099.7L2010 2098.8L2017.1 2097.8L2024.1 2096.9L2031 2095.8L2037.9 2094.6L2044.6 2093.3L2051.2 2091.9L2057.8 2090.3L2064.1 2088.6L2070.3 2086.7L2076.4 2084.8L2082.5 2082.8L2088.6 2080.6L2094.7 2078.3L2100.8 2075.9L2106.8 2073.1L2112.8 2070.1L2118.5 2066.7L2124 2062.9L2129.2 2058.6L2134.1 2053.9L2138.6 2048.7L2142.6 2043L2146.2 2037L2149.3 2030.7L2151.9 2024.2L2154.3 2017.6L2156.5 2011.1Z" fill="#FF0000"/>
<circle cx="2153.5" cy="2010.0" r="3.0" fill="#FF0000"/>
<circle cx="1182.4" cy="2153.5" r="3.0" fill="#FF0000"/>
<path d="M1186 2198.9L1185.9 2192.6L1185.8 2186.1L1185.7 2179.5L1185.8 2172.6L1186.2 2165.7L1186.8 2158.8L1187.7 2152L1188.9 2145.5L1190.6 2139.2L1192.8 2133.3L1195.5 2127.8L1198.8 2122.7L1202.6 2118L1206.9 2113.7L1211.6 2109.8L1216.6 2106.3L1221.9 2103L1227.3 2100.1L1232.8 2097.4L1238.4 2094.8L1244.1 2092.2L1249.8 2089.6L1255.6 2087L1261.5 2084.2L1267.5 2081.5L1273.5 2078.8L1279.7 2076.1L1285.9 2073.5L1292.2 2071L1298.7 2068.6L1305.3 2066.3L1311.9 2064.2L1318.7 2062.2L1325.6 2060.4L1332.6 2058.7L1339.6 2057.1L1346.7 2055.6L1353.7 2054.2L1360.8 2052.9L1367.8 2051.7L1374.8 2050.6L1381.8 2049.6L1388.8 2048.6L1395.9 2047.7L1402.9 2046.9L1410.1 2046.2L1417.3 2045.5L1424.5 2044.8L1431.8 2044.1L1439 2043.4L1446.1 2042.6L1453 2041.8L1459.8 2040.8L1466.4 2039.6L1472.9 2038.4L1479.3 2037.2L1485.7 2035.9L1492.3 2034.7L1498.8 2033.6L1505.5 2032.7L1512.1 2031.8L1518.8 2031.1L1525.7 2030.4L1532.7 2029.8L1539.9 2029.2L1547.2 2028.6L1554.7 2028.1L1562.3 2027.5L1570 2027L1577.6 2026.5L1585.2 2026L1592.7 2025.5L1600.2 2025.1L1607.6 2024.7L1615.1 2024.3L1622.5 2024L1630 2023.6L1637.4 2023.3L1644.8 2023L1652.2 2022.7L1659.5 2022.5L1666.7 2022.2L1673.8 2021.9L1680.8 2021.5L1687.8 2021.1L1694.7 2020.7L1701.6 2020.2L1708.5 2019.6L1715.3 2018.9L1722 2018.2L1728.7 2017.5L1735.3 2016.7L1741.9 2016L1748.6 2015.3L1755.3 2014.7L1761.9 2014.1L1768.6 2013.5L1775.2 2013.1L1781.8 2012.7L1788.5 2012.3L1795.2 2011.9L1802.1 2011.6L1809.1 2011.2L1816.1 2010.9L1823.3 2010.6L1830.5 2010.3L1837.7 2009.9L1844.9 2009.6L1852 2009.2L1859.2 2008.8L1866.3 2008.4L1873.4 2008L1880.5 2007.6L1887.7 2007.2L1894.8 2006.8L1902 2006.3L1909.1 2005.9L1916.2 2005.4L1923.3 2004.9L1930.3 2004.5L1937.2 2004L1944 2003.5L1950.7 2003L1957.4 2002.5L1964.2 2002L1971.1 2001.5L1978 2000.9L1985 2000.3L1991.9 1999.7L1998.8 1999L2005.6 1998.3L2012.3 1997.7L2019 1996.9L2025.6 1996.2L2032.3 1995.3L2039.1 1994.5L2046 1993.6L2053 1992.6L2060.1 1991.6L2067.1 1990.6L2074.2 1989.5L2081.1 1988.4L2088.1 1987.4L2095 1986.3L2101.9 1985.3L2108.8 1984.2L2115.7 1983.2L2122.6 1982.2L2129.2 1981.3L2135.6 1980.3L2141.6 1979.5L2147.3 1978.7L2152.8 1977.9L2151.2 1966.1L2145.6 1966.9L2139.9 1967.7L2133.9 1968.6L2127.5 1969.5L2120.9 1970.4L2114 1971.4L2107 1972.5L2100.1 1973.5L2093.2 1974.6L2086.3 1975.6L2079.3 1976.7L2072.4 1977.7L2065.4 1978.8L2058.4 1979.8L2051.4 1980.8L2044.4 1981.8L2037.6 1982.7L2030.9 1983.5L2024.2 1984.3L2017.7 1985.1L2011.1 1985.8L2004.4 1986.5L1997.7 1987.1L1990.9 1987.8L1983.9 1988.4L1977 1989L1970.1 1989.5L1963.3 1990.1L1956.5 1990.6L1949.8 1991.1L1943.1 1991.6L1936.3 1992.1L1929.5 1992.5L1922.5 1993L1915.5 1993.4L1908.4 1993.9L1901.2 1994.4L1894.1 1994.8L1886.9 1995.2L1879.8 1995.7L1872.7 1996.1L1865.6 1996.5L1858.5 1996.9L1851.4 1997.2L1844.3 1997.6L1837.1 1997.9L1829.9 1998.3L1822.7 1998.6L1815.6 1998.9L1808.5 1999.3L1801.5 1999.6L1794.6 1999.9L1787.8 2000.3L1781.1 2000.7L1774.4 2001.1L1767.7 2001.6L1760.9 2002.1L1754.1 2002.7L1747.4 2003.4L1740.7 2004.1L1734 2004.9L1727.4 2005.6L1720.8 2006.3L1714.1 2007L1707.4 2007.7L1700.7 2008.2L1693.9 2008.7L1687.1 2009.2L1680.2 2009.5L1673.3 2009.9L1666.2 2010.2L1659 2010.5L1651.8 2010.8L1644.4 2011L1636.9 2011.3L1629.5 2011.7L1622 2012L1614.5 2012.3L1607 2012.7L1599.5 2013.1L1592 2013.6L1584.4 2014L1576.8 2014.5L1569.2 2015L1561.5 2015.6L1553.9 2016.1L1546.3 2016.7L1538.9 2017.3L1531.6 2017.9L1524.5 2018.5L1517.6 2019.2L1510.7 2020L1503.8 2020.9L1497 2021.9L1490.2 2023L1483.6 2024.2L1477.1 2025.5L1470.7 2026.8L1464.4 2028L1458 2029L1451.4 2030L1444.7 2030.8L1437.7 2031.5L1430.6 2032.2L1423.4 2032.9L1416.1 2033.6L1408.8 2034.3L1401.6 2035.1L1394.4 2035.9L1387.3 2036.8L1380.2 2037.8L1373 2038.8L1365.9 2040L1358.7 2041.2L1351.5 2042.6L1344.3 2044L1337 2045.6L1329.8 2047.2L1322.7 2049.1L1315.5 2051L1308.5 2053.1L1301.6 2055.4L1294.8 2057.8L1288.1 2060.3L1281.6 2063L1275.2 2065.7L1269 2068.5L1262.9 2071.3L1256.9 2074.1L1251 2076.8L1245.2 2079.4L1239.4 2082.1L1233.7 2084.7L1227.9 2087.5L1222.1 2090.5L1216.3 2093.9L1210.6 2097.8L1205.1 2102.1L1200.1 2107L1195.6 2112.3L1191.7 2118.1L1188.6 2124.2L1186 2130.6L1184 2137.2L1182.5 2144.1L1181.4 2151.1L1180.6 2158.2L1180.1 2165.3L1179.8 2172.4L1179.7 2179.4L1179.8 2186.1L1179.9 2192.7L1180 2199.1Z" fill="#00FF00"/>
<circle cx="1183.0" cy="2199.0" r="3.0" fill="#00FF00"/>
<circle cx="2152.0" cy="1972.0" r="3.0" fill="#00FF00"/>
<path d="M2149.9 1972.5L2148.7 1979.7L2147.5 1986.8L2146.2 1993.8L2144.5 2000.5L2142.6 2006.9L2140.3 2013.1L2137.7 2019.1L2134.6 2024.9L2131.1 2030.5L2127 2035.9L2122.6 2041.2L2117.7 2046.3L2112.6 2051.1L2107.4 2055.7L2102.1 2059.9L2096.8 2063.8L2091.4 2067.4L2085.9 2070.7L2080.2 2073.7L2074.2 2076.6L2068.1 2079.3L2061.6 2081.9L2055 2084.2L2048.3 2086.4L2041.4 2088.5L2034.6 2090.3L2027.7 2092L2020.8 2093.7L2013.9 2095.2L2007 2096.6L2000.2 2098L1993.5 2099.3L1986.7 2100.6L1980 2101.8L1973.3 2103.1L1966.6 2104.4L1960 2105.7L1953.4 2107L1946.8 2108.4L1940.2 2109.8L1933.6 2111.2L1926.9 2112.6L1920.1 2114.1L1913.3 2115.5L1906.5 2116.9L1899.6 2118.3L1892.8 2119.6L1886 2120.9L1879.2 2122.2L1872.3 2123.5L1865.5 2124.7L1858.6 2125.9L1851.7 2127.1L1844.8 2128.2L1838 2129.3L1831.2 2130.3L1824.6 2131.3L1818 2132.2L1811.4 2133.1L1804.9 2134L1798.2 2134.9L1791.5 2135.7L1784.7 2136.5L1777.7 2137.3L1770.8 2138.1L1763.8 2138.9L1756.9 2139.6L1750 2140.4L1743.1 2141.1L1736.2 2141.9L1729.2 2142.6L1722.2 2143.3L1715.1 2144.1L1707.9 2144.8L1700.7 2145.5L1693.6 2146.2L1686.5 2146.9L1679.5 2147.5L1672.5 2148.1L1665.5 2148.7L1658.5 2149.3L1651.5 2149.8L1644.5 2150.3L1637.4 2150.8L1630.5 2151.2L1623.5 2151.6L1616.6 2152L1609.6 2152.4L1602.7 2152.8L1595.7 2153.2L1588.7 2153.6L1581.9 2154L1575.1 2154.4L1568.4 2154.8L1561.9 2155.2L1555.3 2155.6L1548.8 2156.1L1542.2 2156.5L1535.5 2157L1528.7 2157.4L1521.7 2157.9L1514.6 2158.4L1507.5 2159L1500.2 2159.5L1493 2160.1L1485.8 2160.7L1478.8 2161.3L1471.8 2161.9L1465 2162.4L1458.3 2163L1451.6 2163.7L1444.8 2164.3L1438 2164.9L1431.1 2165.5L1424.2 2166.2L1417.2 2166.9L1410.1 2167.6L1403 2168.3L1395.9 2169L1388.8 2169.7L1381.7 2170.5L1374.6 2171.2L1367.5 2172L1360.4 2172.8L1353.4 2173.6L1346.3 2174.4L1339.2 2175.2L1331.9 2176.1L1324.6 2177.1L1317.1 2178L1309.6 2179.1L1302 2180.1L1294.3 2181.2L1286.7 2182.2L1279.1 2183.3L1271.6 2184.4L1264.3 2185.5L1257.1 2186.5L1250.1 2187.5L1243.4 2188.5L1236.8 2189.4L1230.5 2190.3L1224.2 2191.1L1218 2191.9L1211.7 2192.5L1205.5 2193.1L1199.4 2193.5L1193.6 2193.8L1188.1 2193.9L1182.9 2194L1183.1 2206L1188.5 2205.9L1194.1 2205.7L1200.1 2205.4L1206.4 2205L1212.9 2204.4L1219.3 2203.7L1225.7 2203L1232 2202.1L1238.5 2201.2L1245 2200.3L1251.8 2199.3L1258.8 2198.3L1266 2197.3L1273.3 2196.2L1280.8 2195.1L1288.4 2194L1296 2193L1303.6 2191.9L1311.2 2190.9L1318.7 2189.9L1326.1 2188.9L1333.4 2188L1340.6 2187.1L1347.7 2186.2L1354.7 2185.4L1361.8 2184.6L1368.8 2183.8L1375.8 2183.1L1382.9 2182.3L1390 2181.6L1397.1 2180.9L1404.2 2180.2L1411.3 2179.5L1418.3 2178.8L1425.3 2178.1L1432.3 2177.5L1439.1 2176.8L1445.9 2176.2L1452.6 2175.6L1459.3 2175L1466.1 2174.4L1472.9 2173.8L1479.8 2173.2L1486.8 2172.6L1494 2172L1501.2 2171.4L1508.4 2170.9L1515.5 2170.4L1522.6 2169.9L1529.5 2169.4L1536.3 2168.9L1543 2168.5L1549.6 2168L1556.1 2167.6L1562.6 2167.2L1569.2 2166.8L1575.8 2166.4L1582.6 2165.9L1589.4 2165.5L1596.4 2165.1L1603.3 2164.7L1610.3 2164.4L1617.3 2164L1624.2 2163.6L1631.2 2163.2L1638.2 2162.7L1645.3 2162.3L1652.4 2161.8L1659.4 2161.2L1666.5 2160.6L1673.5 2160L1680.6 2159.4L1687.6 2158.8L1694.7 2158.1L1701.9 2157.4L1709.1 2156.7L1716.3 2155.9L1723.4 2155.2L1730.5 2154.5L1737.5 2153.7L1744.4 2153L1751.3 2152.3L1758.2 2151.5L1765.1 2150.7L1772.1 2150L1779.1 2149.2L1786.1 2148.3L1792.9 2147.5L1799.7 2146.7L1806.4 2145.8L1813 2145L1819.6 2144L1826.3 2143.1L1833 2142.1L1839.8 2141L1846.7 2139.9L1853.6 2138.8L1860.6 2137.6L1867.5 2136.4L1874.4 2135.1L1881.3 2133.9L1888.2 2132.6L1895.1 2131.2L1902 2129.9L1908.8 2128.5L1915.7 2127.1L1922.5 2125.6L1929.3 2124.2L1936 2122.7L1942.6 2121.3L1949.2 2119.9L1955.7 2118.6L1962.3 2117.3L1968.9 2116L1975.5 2114.7L1982.2 2113.5L1988.9 2112.2L1995.7 2110.9L2002.5 2109.6L2009.4 2108.2L2016.4 2106.7L2023.4 2105.1L2030.5 2103.4L2037.6 2101.6L2044.7 2099.6L2051.8 2097.5L2058.8 2095.1L2065.7 2092.5L2072.5 2089.7L2079 2086.7L2085.3 2083.4L2091.3 2080L2097.2 2076.2L2102.8 2072.2L2108.4 2067.9L2113.9 2063.2L2119.3 2058.1L2124.6 2052.8L2129.5 2047.1L2134.1 2041.1L2138.1 2035L2141.6 2028.7L2144.6 2022.3L2147.1 2015.7L2149.3 2009L2151.1 2002.2L2152.6 1995.1L2153.9 1988L2155.1 1980.8L2156.1 1973.5Z" fill="#00FF00"/>
<circle cx="2153.0" cy="1973.0" r="3.0" fill="#00FF00"/>
<circle cx="1183.0" cy="2200.0" r="3.0" fill="#00FF00"/>
<path d="M1187 2241.1L1187.2 2233.5L1187.4 2225.9L1187.7 2218.3L1188.1 2210.8L1188.7 2203.3L1189.5 2195.9L1190.3 2188.7L1191.2 2181.7L1192.3 2175L1193.5 2168.3L1194.8 2161.8L1196.2 2155.3L1197.8 2148.8L1199.7 2142.3L1201.9 2135.8L1204.4 2129.5L1207.3 2123.6L1210.7 2118.2L1214.6 2113.2L1218.9 2108.8L1223.6 2104.8L1228.5 2101.1L1233.7 2097.6L1239 2094.1L1244.4 2090.7L1250 2087.3L1255.6 2083.9L1261.3 2080.5L1267.2 2077.1L1273.2 2073.7L1279.3 2070.3L1285.6 2066.9L1291.9 2063.7L1298.4 2060.5L1305 2057.5L1311.7 2054.7L1318.5 2052L1325.4 2049.6L1332.4 2047.4L1339.4 2045.3L1346.4 2043.4L1353.5 2041.7L1360.6 2040.2L1367.6 2038.8L1374.6 2037.6L1381.6 2036.6L1388.6 2035.6L1395.7 2034.6L1402.8 2033.7L1410 2032.8L1417.2 2031.8L1424.5 2030.9L1431.7 2029.9L1438.9 2028.8L1446 2027.8L1452.9 2026.7L1459.6 2025.5L1466.1 2024.4L1472.5 2023.2L1478.9 2022L1485.3 2020.8L1491.9 2019.7L1498.5 2018.6L1505.2 2017.7L1511.9 2016.8L1518.7 2015.9L1525.6 2015.1L1532.6 2014.4L1539.8 2013.6L1547.2 2012.8L1554.7 2012L1562.3 2011.3L1570 2010.5L1577.6 2009.8L1585.2 2009.1L1592.7 2008.3L1600.2 2007.7L1607.7 2007L1615.1 2006.3L1622.6 2005.7L1630 2005.1L1637.5 2004.4L1644.9 2003.8L1652.3 2003.2L1659.6 2002.6L1666.8 2002L1673.9 2001.4L1680.9 2000.8L1687.8 2000.1L1694.7 1999.3L1701.6 1998.5L1708.5 1997.7L1715.3 1996.7L1722 1995.7L1728.6 1994.7L1735.3 1993.7L1741.9 1992.7L1748.6 1991.7L1755.3 1990.7L1762 1989.8L1768.6 1988.9L1775.3 1988.1L1781.9 1987.4L1788.6 1986.7L1795.3 1986L1802.2 1985.3L1809.2 1984.6L1816.2 1983.9L1823.4 1983.2L1830.6 1982.5L1837.8 1981.8L1845 1981.1L1852.1 1980.4L1859.2 1979.7L1866.4 1979L1873.5 1978.3L1880.6 1977.6L1887.7 1976.9L1894.8 1976.2L1902 1975.5L1909.1 1974.8L1916.2 1974.1L1923.3 1973.4L1930.3 1972.7L1937.1 1972.1L1943.9 1971.4L1950.7 1970.7L1957.4 1970L1964.2 1969.3L1971 1968.5L1978 1967.8L1984.9 1967L1991.9 1966.2L1998.7 1965.4L2005.5 1964.5L2012.2 1963.7L2018.8 1962.8L2025.5 1961.9L2032.2 1960.9L2039 1959.9L2045.9 1958.8L2052.8 1957.7L2059.9 1956.5L2066.9 1955.3L2074 1954.1L2080.9 1952.8L2087.9 1951.6L2094.8 1950.3L2101.7 1949L2108.7 1947.6L2115.6 1946.2L2122.5 1944.8L2129.2 1943.4L2135.6 1942.1L2141.6 1940.8L2147.3 1939.6L2152.8 1938.4L2151.2 1930.6L2145.6 1931.8L2140 1933L2133.9 1934.3L2127.6 1935.7L2120.9 1937L2114.1 1938.4L2107.1 1939.8L2100.2 1941.2L2093.3 1942.5L2086.4 1943.8L2079.5 1945L2072.6 1946.3L2065.6 1947.5L2058.6 1948.7L2051.6 1949.8L2044.6 1951L2037.8 1952L2031 1953L2024.4 1954L2017.8 1954.9L2011.2 1955.8L2004.5 1956.6L1997.8 1957.4L1990.9 1958.3L1984 1959.1L1977.1 1959.8L1970.2 1960.6L1963.3 1961.3L1956.6 1962.1L1949.9 1962.8L1943.1 1963.4L1936.3 1964.1L1929.5 1964.8L1922.5 1965.5L1915.5 1966.2L1908.3 1966.9L1901.2 1967.6L1894.1 1968.2L1886.9 1968.9L1879.8 1969.6L1872.7 1970.3L1865.6 1971L1858.5 1971.7L1851.3 1972.4L1844.2 1973.1L1837 1973.8L1829.8 1974.5L1822.6 1975.2L1815.5 1975.9L1808.4 1976.6L1801.4 1977.3L1794.5 1978L1787.7 1978.7L1781 1979.5L1774.3 1980.2L1767.6 1981L1760.9 1981.9L1754.2 1982.8L1747.4 1983.8L1740.7 1984.8L1734.1 1985.8L1727.4 1986.9L1720.8 1987.9L1714.2 1988.8L1707.4 1989.8L1700.6 1990.6L1693.8 1991.4L1687 1992.1L1680.1 1992.8L1673.2 1993.5L1666.1 1994.1L1658.9 1994.7L1651.7 1995.3L1644.3 1995.9L1636.8 1996.5L1629.4 1997.1L1621.9 1997.7L1614.4 1998.4L1607 1999L1599.5 1999.7L1592 2000.4L1584.4 2001.1L1576.8 2001.8L1569.2 2002.6L1561.5 2003.3L1553.9 2004.1L1546.4 2004.9L1539 2005.6L1531.7 2006.4L1524.7 2007.2L1517.7 2008L1510.9 2008.9L1504.1 2009.8L1497.3 2010.8L1490.6 2011.8L1484 2013L1477.5 2014.2L1471.1 2015.3L1464.7 2016.5L1458.2 2017.7L1451.6 2018.8L1444.8 2019.9L1437.8 2020.9L1430.6 2022L1423.4 2023L1416.2 2023.9L1408.9 2024.9L1401.7 2025.8L1394.6 2026.7L1387.5 2027.7L1380.4 2028.7L1373.3 2029.8L1366.1 2031L1358.9 2032.4L1351.7 2034L1344.5 2035.8L1337.3 2037.7L1330 2039.8L1322.9 2042.2L1315.8 2044.7L1308.8 2047.4L1301.9 2050.4L1295.1 2053.5L1288.5 2056.8L1282 2060.2L1275.7 2063.6L1269.5 2067L1263.4 2070.5L1257.5 2074L1251.7 2077.4L1246 2080.9L1240.4 2084.3L1234.9 2087.8L1229.5 2091.4L1224.1 2095.1L1218.9 2099.2L1213.8 2103.7L1209.2 2108.7L1205.1 2114.3L1201.5 2120.4L1198.4 2126.9L1195.9 2133.6L1193.7 2140.4L1191.8 2147.2L1190.2 2153.9L1188.7 2160.6L1187.4 2167.2L1186.3 2174L1185.2 2180.9L1184.3 2187.9L1183.4 2195.3L1182.7 2202.7L1182.1 2210.4L1181.7 2218L1181.4 2225.7L1181.1 2233.3L1181 2240.9Z" fill="#0000FF"/>
<circle cx="1184.0" cy="2241.0" r="3.0" fill="#0000FF"/>
<circle cx="2152.0" cy="1934.5" r="3.0" fill="#0000FF"/>
<path d="M2150 1934.7L2149.4 1941L2148.8 1947.4L2148 1953.9L2147 1960.6L2145.9 1967.3L2144.6 1974.1L2143.1 1981L2141.3 1987.8L2139.3 1994.6L2137 2001.4L2134.4 2008.1L2131.5 2014.7L2128.2 2021.1L2124.7 2027.3L2120.8 2033.2L2116.8 2038.8L2112.5 2044.1L2108.1 2049L2103.6 2053.7L2099 2058.1L2094.3 2062.3L2089.3 2066.3L2084.1 2070.1L2078.6 2073.7L2072.8 2077.2L2066.8 2080.6L2060.6 2083.9L2054.2 2087L2047.6 2090L2040.9 2092.8L2034.2 2095.5L2027.4 2098.1L2020.7 2100.5L2013.9 2102.7L2007.1 2104.9L2000.4 2106.9L1993.7 2108.9L1987 2110.7L1980.3 2112.6L1973.6 2114.4L1966.9 2116.1L1960.3 2117.8L1953.6 2119.5L1947.1 2121.2L1940.5 2122.8L1933.9 2124.5L1927.2 2126.1L1920.4 2127.7L1913.6 2129.2L1906.8 2130.7L1900 2132.2L1893.2 2133.6L1886.4 2134.9L1879.5 2136.1L1872.7 2137.4L1865.8 2138.6L1858.9 2139.8L1852 2140.9L1845.1 2142.1L1838.2 2143.3L1831.5 2144.4L1824.8 2145.6L1818.1 2146.7L1811.6 2147.8L1804.9 2149L1798.3 2150.1L1791.5 2151.3L1784.7 2152.5L1777.7 2153.8L1770.7 2155L1763.7 2156.3L1756.8 2157.6L1749.9 2158.9L1743 2160.3L1736.1 2161.6L1729.1 2163L1722 2164.4L1714.9 2165.8L1707.7 2167.2L1700.6 2168.6L1693.4 2170L1686.3 2171.3L1679.3 2172.5L1672.4 2173.7L1665.4 2174.8L1658.4 2175.9L1651.4 2176.9L1644.4 2177.8L1637.4 2178.6L1630.4 2179.3L1623.5 2180L1616.6 2180.7L1609.6 2181.3L1602.6 2181.9L1595.7 2182.6L1588.7 2183.2L1581.8 2183.9L1575 2184.6L1568.4 2185.3L1561.8 2186L1555.3 2186.7L1548.7 2187.5L1542.1 2188.2L1535.4 2189L1528.6 2189.8L1521.7 2190.6L1514.6 2191.5L1507.4 2192.3L1500.2 2193.2L1493 2194.1L1485.8 2195L1478.7 2195.9L1471.7 2196.8L1464.8 2197.7L1457.9 2198.6L1451.1 2199.5L1444.1 2200.4L1437.1 2201.4L1430.1 2202.3L1422.9 2203.3L1415.8 2204.3L1408.6 2205.3L1401.4 2206.3L1394.2 2207.2L1387 2208.2L1380 2209.2L1373 2210.2L1366.1 2211.2L1359.2 2212.1L1352.3 2213.1L1345.4 2214.1L1338.3 2215.1L1331.1 2216.1L1323.7 2217.2L1316.3 2218.3L1308.9 2219.4L1301.5 2220.5L1294.2 2221.6L1287.1 2222.7L1280.1 2223.7L1273.3 2224.8L1266.7 2225.8L1260.2 2226.8L1253.7 2227.7L1247 2228.7L1240.2 2229.7L1233 2230.7L1225.7 2231.7L1218.2 2232.7L1210.9 2233.7L1204 2234.6L1197.4 2235.5L1191.3 2236.3L1185.4 2237L1186.4 2245L1192.3 2244.2L1198.5 2243.4L1205 2242.6L1212 2241.6L1219.3 2240.7L1226.7 2239.6L1234.1 2238.6L1241.3 2237.6L1248.2 2236.6L1254.8 2235.6L1261.4 2234.6L1267.9 2233.7L1274.5 2232.6L1281.3 2231.6L1288.3 2230.6L1295.4 2229.5L1302.7 2228.4L1310.1 2227.3L1317.5 2226.2L1324.9 2225.1L1332.2 2224L1339.4 2223L1346.5 2222L1353.4 2221L1360.3 2220L1367.2 2219.1L1374.1 2218.1L1381.1 2217.1L1388.1 2216.1L1395.3 2215.1L1402.4 2214.1L1409.6 2213.2L1416.8 2212.2L1424 2211.2L1431.2 2210.2L1438.2 2209.3L1445.2 2208.3L1452.1 2207.4L1459 2206.5L1465.8 2205.6L1472.7 2204.7L1479.7 2203.8L1486.8 2202.9L1494 2202L1501.2 2201.1L1508.4 2200.2L1515.6 2199.4L1522.6 2198.5L1529.5 2197.7L1536.3 2196.9L1543 2196.2L1549.6 2195.4L1556.2 2194.7L1562.7 2193.9L1569.2 2193.2L1575.9 2192.5L1582.6 2191.8L1589.5 2191.2L1596.4 2190.5L1603.4 2189.9L1610.3 2189.2L1617.3 2188.6L1624.3 2188L1631.3 2187.3L1638.3 2186.5L1645.4 2185.7L1652.5 2184.8L1659.5 2183.8L1666.6 2182.7L1673.6 2181.6L1680.7 2180.4L1687.8 2179.1L1694.9 2177.8L1702.1 2176.4L1709.2 2175L1716.4 2173.6L1723.6 2172.2L1730.6 2170.8L1737.6 2169.4L1744.5 2168.1L1751.4 2166.7L1758.3 2165.4L1765.2 2164.1L1772.1 2162.9L1779.1 2161.6L1786.1 2160.4L1792.9 2159.1L1799.7 2158L1806.3 2156.8L1812.9 2155.7L1819.5 2154.5L1826.1 2153.4L1832.8 2152.3L1839.6 2151.1L1846.4 2150L1853.3 2148.8L1860.2 2147.6L1867.2 2146.4L1874.1 2145.2L1881 2144L1887.9 2142.7L1894.7 2141.3L1901.6 2139.9L1908.5 2138.5L1915.4 2137L1922.2 2135.4L1929 2133.8L1935.7 2132.2L1942.4 2130.5L1949 2128.9L1955.6 2127.2L1962.2 2125.5L1968.9 2123.8L1975.6 2122L1982.4 2120.2L1989.1 2118.3L1995.9 2116.4L2002.7 2114.4L2009.5 2112.4L2016.3 2110.2L2023.2 2107.9L2030.1 2105.4L2037 2102.8L2043.9 2100L2050.7 2097.1L2057.5 2094L2064.1 2090.7L2070.5 2087.3L2076.7 2083.8L2082.7 2080.1L2088.4 2076.2L2093.8 2072.1L2099 2067.9L2104 2063.4L2108.8 2058.8L2113.4 2053.8L2117.9 2048.5L2122.3 2043L2126.5 2037L2130.4 2030.8L2134.1 2024.2L2137.4 2017.5L2140.4 2010.6L2143 2003.6L2145.4 1996.5L2147.4 1989.5L2149.1 1982.4L2150.7 1975.4L2152 1968.4L2153.1 1961.5L2154 1954.7L2154.8 1948.1L2155.4 1941.7L2156 1935.3Z" fill="#0000FF"/>
<circle cx="2153.0" cy="1935.0" r="3.0" fill="#0000FF"/>
<circle cx="1185.9" cy="2241.0" r="3.0" fill="#0000FF"/>
<path d="M1188 2310.1L1188.2 2303.6L1188.5 2297L1188.8 2290.1L1189.1 2282.9L1189.4 2275.5L1189.9 2268L1190.4 2260.5L1190.9 2253L1191.6 2245.7L1192.3 2238.4L1193.1 2231.1L1194 2223.9L1194.9 2216.7L1195.8 2209.5L1196.9 2202.3L1198 2195.3L1199.2 2188.3L1200.5 2181.5L1201.8 2174.9L1203.3 2168.4L1204.9 2162L1206.6 2155.6L1208.4 2149.1L1210.5 2142.6L1212.8 2136.3L1215.5 2130.1L1218.5 2124.3L1222 2118.9L1225.9 2113.9L1230.2 2109.2L1235 2104.6L1240 2100.1L1245.3 2095.6L1250.7 2091.1L1256.2 2086.5L1261.6 2082L1267 2077.6L1272.4 2073.3L1277.8 2069.2L1283.3 2065.2L1288.9 2061.4L1294.6 2057.7L1300.4 2054.2L1306.3 2050.8L1312.3 2047.7L1318.3 2044.7L1324.4 2041.9L1330.5 2039.3L1336.7 2036.7L1343 2034.3L1349.4 2031.9L1355.9 2029.6L1362.5 2027.4L1369.2 2025.2L1375.9 2023.1L1382.8 2021L1389.7 2019L1396.7 2017.1L1403.8 2015.1L1410.9 2013.3L1418.1 2011.4L1425.4 2009.6L1432.6 2007.8L1439.8 2006.1L1446.8 2004.3L1453.7 2002.5L1460.4 2000.7L1466.9 1999L1473.3 1997.2L1479.7 1995.5L1486.1 1993.8L1492.6 1992.2L1499.2 1990.7L1505.9 1989.2L1512.5 1987.9L1519.3 1986.6L1526.1 1985.4L1533.2 1984.2L1540.4 1983L1547.7 1981.8L1555.2 1980.6L1562.8 1979.4L1570.5 1978.2L1578.1 1977L1585.7 1975.8L1593.2 1974.7L1600.7 1973.6L1608.2 1972.6L1615.6 1971.5L1623 1970.5L1630.5 1969.5L1637.9 1968.6L1645.4 1967.6L1652.7 1966.7L1660 1965.7L1667.2 1964.8L1674.3 1963.9L1681.3 1962.9L1688.3 1961.9L1695.2 1960.9L1702.1 1959.8L1708.9 1958.7L1715.8 1957.5L1722.5 1956.2L1729.2 1954.9L1735.8 1953.7L1742.4 1952.4L1749.1 1951.1L1755.8 1949.9L1762.5 1948.7L1769.1 1947.6L1775.8 1946.5L1782.4 1945.4L1789.1 1944.3L1795.8 1943.3L1802.7 1942.3L1809.7 1941.2L1816.7 1940.2L1823.9 1939.1L1831.1 1938.1L1838.2 1937L1845.4 1936L1852.6 1935L1859.7 1933.9L1866.8 1932.9L1873.9 1932L1881 1931L1888.1 1930L1895.2 1929L1902.4 1928.1L1909.5 1927.1L1916.6 1926.2L1923.7 1925.3L1930.6 1924.3L1937.5 1923.4L1944.3 1922.5L1951.1 1921.6L1957.8 1920.7L1964.6 1919.8L1971.4 1918.9L1978.3 1917.9L1985.3 1916.9L1992.2 1916L1999.1 1915L2005.9 1914L2012.6 1913L2019.2 1911.9L2025.9 1910.9L2032.6 1909.8L2039.4 1908.6L2046.4 1907.3L2053.4 1906L2060.5 1904.7L2067.6 1903.3L2074.7 1901.9L2081.7 1900.4L2088.7 1899L2095.7 1897.5L2102.7 1895.9L2109.8 1894.3L2116.9 1892.6L2123.8 1891L2130.6 1889.3L2137 1887.7L2143.2 1886.1L2149.2 1884.6L2146.2 1873.2L2140.3 1874.7L2134.2 1876.3L2127.8 1877.9L2121.1 1879.5L2114.2 1881.2L2107.1 1882.8L2100.1 1884.4L2093.2 1885.9L2086.2 1887.4L2079.3 1888.9L2072.3 1890.3L2065.3 1891.7L2058.2 1893.1L2051.2 1894.4L2044.3 1895.7L2037.4 1896.9L2030.6 1898L2024 1899.1L2017.4 1900.2L2010.8 1901.2L2004.2 1902.2L1997.4 1903.2L1990.6 1904.2L1983.6 1905.1L1976.7 1906.1L1969.8 1907.1L1962.9 1908L1956.2 1908.9L1949.5 1909.8L1942.7 1910.7L1936 1911.6L1929.1 1912.5L1922.1 1913.4L1915.1 1914.4L1907.9 1915.3L1900.8 1916.3L1893.6 1917.2L1886.5 1918.2L1879.4 1919.2L1872.2 1920.2L1865.1 1921.1L1858 1922.1L1850.9 1923.2L1843.7 1924.2L1836.5 1925.2L1829.3 1926.3L1822.1 1927.3L1815 1928.4L1807.9 1929.4L1800.9 1930.5L1794 1931.5L1787.2 1932.6L1780.5 1933.7L1773.8 1934.7L1767.1 1935.8L1760.4 1937L1753.6 1938.2L1746.9 1939.5L1740.2 1940.8L1733.5 1942L1726.9 1943.3L1720.3 1944.6L1713.7 1945.8L1706.9 1947L1700.2 1948.1L1693.4 1949.2L1686.6 1950.2L1679.7 1951.1L1672.8 1952.1L1665.7 1953L1658.5 1953.9L1651.2 1954.8L1643.8 1955.8L1636.4 1956.7L1628.9 1957.7L1621.5 1958.7L1614 1959.7L1606.5 1960.8L1599 1961.8L1591.5 1962.9L1583.9 1964.1L1576.3 1965.2L1568.6 1966.4L1561 1967.6L1553.4 1968.8L1545.8 1970L1538.4 1971.3L1531.2 1972.5L1524.1 1973.7L1517.1 1975L1510.3 1976.3L1503.4 1977.7L1496.6 1979.2L1489.9 1980.8L1483.2 1982.4L1476.7 1984.2L1470.3 1985.9L1463.9 1987.7L1457.4 1989.4L1450.8 1991.2L1443.9 1992.9L1436.9 1994.7L1429.8 1996.4L1422.5 1998.2L1415.2 2000.1L1408 2001.9L1400.8 2003.8L1393.6 2005.8L1386.5 2007.8L1379.5 2009.9L1372.5 2012L1365.6 2014.2L1358.8 2016.5L1352.1 2018.8L1345.5 2021.2L1338.9 2023.6L1332.5 2026.2L1326.1 2028.9L1319.7 2031.7L1313.4 2034.7L1307.2 2037.9L1301 2041.3L1294.9 2044.9L1288.8 2048.7L1283 2052.6L1277.2 2056.7L1271.6 2060.9L1266.1 2065.3L1260.6 2069.7L1255.2 2074.2L1249.7 2078.8L1244.2 2083.4L1238.8 2088.1L1233.4 2092.9L1228.2 2097.8L1223.3 2102.9L1218.9 2108.4L1214.9 2114.2L1211.5 2120.5L1208.6 2127L1206 2133.7L1203.8 2140.4L1201.8 2147.1L1200 2153.8L1198.4 2160.4L1196.8 2166.9L1195.4 2173.6L1194.1 2180.3L1192.9 2187.2L1191.7 2194.2L1190.6 2201.4L1189.6 2208.6L1188.6 2215.9L1187.8 2223.2L1186.9 2230.4L1186.2 2237.7L1185.5 2245.1L1184.8 2252.5L1184.3 2260L1183.8 2267.6L1183.4 2275.2L1183 2282.6L1182.7 2289.8L1182.4 2296.7L1182.2 2303.4L1182 2309.9Z" fill="#00FFFF"/>
<circle cx="1185.0" cy="2310.0" r="3.0" fill="#00FFFF"/>
<circle cx="2147.7" cy="1878.9" r="3.0" fill="#00FFFF"/>
<path d="M2146 1878.9L2145.8 1885.4L2145.5 1891.9L2145.2 1898.6L2144.8 1905.4L2144.3 1912.2L2143.7 1919.1L2143 1926L2142.2 1932.9L2141.2 1939.8L2140 1946.7L2138.7 1953.6L2137.3 1960.5L2135.7 1967.3L2134 1974.1L2132.2 1981L2130.2 1987.8L2128.1 1994.5L2125.8 2001.2L2123.2 2007.8L2120.4 2014.3L2117.4 2020.6L2114.1 2026.6L2110.7 2032.3L2107.2 2037.8L2103.5 2043L2099.6 2048.1L2095.6 2052.9L2091.4 2057.5L2087.1 2061.9L2082.7 2065.9L2078.1 2069.8L2073.3 2073.4L2068.3 2077L2063.1 2080.5L2057.6 2084L2051.8 2087.4L2045.9 2090.8L2039.6 2094.1L2033.2 2097.3L2026.6 2100.5L2019.8 2103.4L2012.9 2106.3L2006 2108.9L1999.1 2111.5L1992.1 2113.8L1985.3 2116L1978.5 2118.1L1971.8 2120L1965.1 2122L1958.5 2123.9L1952 2125.8L1945.6 2127.9L1939.2 2130L1932.8 2132.2L1926.2 2134.6L1919.6 2136.9L1912.9 2139.3L1906.1 2141.7L1899.3 2144L1892.5 2146.3L1885.8 2148.5L1878.9 2150.6L1872.1 2152.7L1865.2 2154.8L1858.2 2156.9L1851.3 2159L1844.3 2161L1837.5 2162.9L1830.7 2164.8L1824 2166.6L1817.3 2168.4L1810.8 2170.1L1804.2 2171.8L1797.5 2173.5L1790.8 2175.2L1784 2176.9L1777 2178.6L1770 2180.3L1763.1 2182L1756.1 2183.6L1749.2 2185.3L1742.4 2187L1735.5 2188.7L1728.5 2190.4L1721.4 2192.1L1714.3 2193.8L1707.1 2195.5L1700 2197.2L1692.9 2198.8L1685.8 2200.4L1678.8 2201.9L1671.8 2203.3L1664.9 2204.7L1657.9 2206L1651 2207.2L1644 2208.2L1637 2209.2L1630.1 2210.2L1623.1 2211L1616.2 2211.8L1609.3 2212.7L1602.3 2213.5L1595.3 2214.4L1588.3 2215.3L1581.4 2216.3L1574.6 2217.3L1567.9 2218.4L1561.3 2219.5L1554.7 2220.6L1548.2 2221.7L1541.5 2222.9L1534.8 2224.1L1528 2225.4L1521 2226.6L1514 2228L1506.8 2229.3L1499.6 2230.7L1492.3 2232.1L1485.1 2233.6L1478 2235L1471 2236.4L1464.1 2237.8L1457.2 2239.2L1450.4 2240.6L1443.5 2242.1L1436.5 2243.6L1429.4 2245.1L1422.3 2246.6L1415.1 2248.1L1407.9 2249.7L1400.7 2251.2L1393.5 2252.8L1386.3 2254.3L1379.3 2255.9L1372.3 2257.4L1365.4 2258.9L1358.5 2260.3L1351.6 2261.8L1344.7 2263.3L1337.6 2264.8L1330.4 2266.4L1323.1 2267.9L1315.7 2269.5L1308.3 2271L1300.9 2272.6L1293.6 2274.1L1286.5 2275.6L1279.5 2277.1L1272.7 2278.5L1266.1 2280L1259.5 2281.5L1253.1 2283L1246.5 2284.6L1239.9 2286.3L1233 2288.2L1226 2290.2L1219.1 2292.3L1212.2 2294.5L1205.7 2296.6L1199.7 2298.7L1194.1 2300.7L1188.9 2302.6L1183.9 2304.4L1187.9 2315.2L1192.8 2313.4L1197.9 2311.5L1203.4 2309.6L1209.4 2307.6L1215.8 2305.5L1222.5 2303.4L1229.3 2301.4L1236.2 2299.4L1242.9 2297.6L1249.4 2296L1255.8 2294.4L1262.2 2293L1268.6 2291.5L1275.2 2290.1L1282 2288.6L1288.9 2287.1L1296 2285.6L1303.3 2284.1L1310.7 2282.6L1318.1 2281L1325.5 2279.5L1332.9 2277.9L1340.1 2276.4L1347.2 2274.9L1354.1 2273.4L1361 2271.9L1367.9 2270.4L1374.8 2268.9L1381.8 2267.4L1388.8 2265.9L1396 2264.3L1403.1 2262.8L1410.3 2261.2L1417.5 2259.7L1424.7 2258.1L1431.8 2256.6L1438.9 2255.1L1445.9 2253.6L1452.8 2252.2L1459.6 2250.8L1466.5 2249.4L1473.4 2248L1480.3 2246.6L1487.4 2245.2L1494.6 2243.8L1501.8 2242.4L1509 2241L1516.2 2239.6L1523.2 2238.3L1530.1 2237L1536.9 2235.8L1543.6 2234.6L1550.2 2233.4L1556.7 2232.3L1563.2 2231.2L1569.7 2230.1L1576.4 2229.1L1583.1 2228.1L1589.9 2227.1L1596.8 2226.2L1603.8 2225.3L1610.7 2224.5L1617.6 2223.7L1624.6 2222.9L1631.6 2222L1638.7 2221L1645.8 2220L1652.9 2218.9L1660 2217.7L1667.1 2216.3L1674.2 2214.9L1681.2 2213.5L1688.3 2211.9L1695.5 2210.3L1702.6 2208.7L1709.8 2207L1717 2205.2L1724.2 2203.5L1731.2 2201.8L1738.2 2200.1L1745.2 2198.4L1752 2196.7L1758.9 2195.1L1765.8 2193.4L1772.8 2191.7L1779.8 2190L1786.8 2188.3L1793.6 2186.6L1800.4 2184.9L1807.1 2183.2L1813.7 2181.5L1820.3 2179.7L1827 2177.9L1833.8 2176.1L1840.6 2174.1L1847.6 2172.2L1854.6 2170.1L1861.6 2168.1L1868.6 2166L1875.5 2163.8L1882.4 2161.7L1889.3 2159.5L1896.2 2157.2L1903 2154.9L1909.9 2152.6L1916.7 2150.2L1923.5 2147.8L1930.1 2145.4L1936.5 2143.1L1942.9 2140.9L1949.2 2138.9L1955.5 2136.9L1961.9 2135L1968.4 2133.1L1975 2131.2L1981.8 2129.2L1988.8 2127L1995.8 2124.7L2002.9 2122.3L2010.1 2119.6L2017.2 2116.8L2024.3 2113.8L2031.3 2110.6L2038.1 2107.3L2044.7 2103.9L2051.2 2100.3L2057.3 2096.7L2063.3 2093L2068.9 2089.3L2074.3 2085.5L2079.5 2081.6L2084.5 2077.5L2089.3 2073.2L2093.9 2068.6L2098.3 2063.8L2102.6 2058.8L2106.6 2053.5L2110.5 2048L2114.3 2042.4L2117.8 2036.5L2121.1 2030.4L2124.3 2024L2127.3 2017.4L2130 2010.6L2132.5 2003.6L2134.8 1996.7L2136.9 1989.7L2138.7 1982.7L2140.5 1975.8L2142.1 1968.8L2143.7 1961.8L2145.1 1954.8L2146.4 1947.8L2147.5 1940.8L2148.4 1933.7L2149.2 1926.7L2149.9 1919.7L2150.4 1912.7L2150.9 1905.7L2151.3 1898.9L2151.6 1892.2L2151.8 1885.6L2152 1879.1Z" fill="#00FFFF"/>
<circle cx="2149.0" cy="1879.0" r="3.0" fill="#00FFFF"/>
<circle cx="1185.9" cy="2309.8" r="3.0" fill="#00FFFF"/>
<path d="M1187.1 2441.1L1187.3 2435.8L1187.4 2430.3L1187.6 2424.5L1187.8 2418.2L1188 2411.6L1188.2 2404.5L1188.4 2397L1188.7 2389.4L1188.9 2381.6L1189.2 2373.7L1189.4 2366L1189.7 2358.3L1189.9 2350.8L1190.2 2343.3L1190.4 2336L1190.7 2328.8L1191 2321.5L1191.2 2314.3L1191.5 2307.3L1191.8 2300.3L1192.2 2293.6L1192.5 2287L1192.9 2280.5L1193.3 2274L1193.8 2267.4L1194.4 2260.6L1195 2253.7L1195.8 2246.6L1196.6 2239.5L1197.4 2232.4L1198.4 2225.3L1199.5 2218.4L1200.7 2211.5L1202 2204.8L1203.4 2198.2L1205 2191.7L1206.8 2185.4L1208.6 2179.2L1210.6 2173.3L1212.7 2167.3L1214.9 2161.4L1217.3 2155.4L1219.9 2149.2L1222.7 2142.9L1225.7 2136.5L1229 2130L1232.7 2123.7L1236.6 2117.5L1240.9 2111.5L1245.4 2105.6L1250.1 2099.9L1254.7 2094.1L1259.4 2088.3L1264 2082.5L1268.6 2076.6L1273.3 2070.7L1277.9 2064.9L1282.6 2059.2L1287.4 2053.6L1292.2 2048.2L1297.2 2043L1302.2 2037.9L1307.4 2033.1L1312.6 2028.4L1317.9 2023.9L1323.3 2019.6L1328.7 2015.4L1334.2 2011.4L1339.8 2007.4L1345.5 2003.6L1351.2 1999.9L1356.9 1996.4L1362.6 1993L1368.4 1989.8L1374.1 1986.8L1380 1983.9L1385.9 1981.2L1391.9 1978.6L1397.9 1976L1404.1 1973.6L1410.3 1971.2L1416.6 1969L1422.9 1966.8L1429.3 1964.6L1435.8 1962.5L1442.5 1960.3L1449.3 1958.2L1456.3 1956L1463.4 1953.8L1470.4 1951.7L1477.4 1949.5L1484.3 1947.4L1491 1945.4L1497.7 1943.3L1504.3 1941.3L1510.9 1939.2L1517.7 1937.2L1524.5 1935.1L1531.5 1933L1538.6 1930.9L1545.7 1928.7L1552.8 1926.6L1560 1924.5L1567.2 1922.5L1574.3 1920.5L1581.3 1918.5L1588.2 1916.6L1595.1 1914.7L1602 1912.8L1608.9 1911L1615.9 1909.2L1622.9 1907.4L1629.9 1905.6L1636.9 1903.7L1644 1901.9L1650.9 1900.2L1657.8 1898.4L1664.5 1896.7L1671.2 1895L1677.7 1893.3L1684.1 1891.7L1690.6 1890L1697.1 1888.3L1703.7 1886.5L1710.4 1884.7L1717.1 1882.9L1723.7 1881.1L1730.3 1879.3L1736.8 1877.5L1743.3 1875.8L1749.8 1874L1756.3 1872.3L1762.9 1870.7L1769.5 1869L1776.1 1867.4L1782.7 1865.8L1789.3 1864.2L1796.1 1862.6L1803 1861L1809.9 1859.4L1817 1857.7L1824.2 1856.1L1831.4 1854.4L1838.6 1852.8L1845.7 1851.1L1852.9 1849.4L1860 1847.8L1867.1 1846.1L1874.2 1844.5L1881.3 1842.8L1888.5 1841.2L1895.6 1839.5L1902.8 1837.8L1909.9 1836.2L1917 1834.5L1924.1 1832.9L1931 1831.2L1937.9 1829.6L1944.7 1828L1951.4 1826.4L1958.2 1824.9L1964.9 1823.3L1971.8 1821.6L1978.7 1820L1985.7 1818.3L1992.6 1816.7L1999.5 1815L2006.3 1813.3L2013 1811.7L2019.6 1810L2026.3 1808.3L2033 1806.5L2039.8 1804.6L2046.7 1802.7L2053.7 1800.7L2060.8 1798.6L2067.9 1796.6L2075 1794.4L2082 1792.3L2089 1790.1L2096 1787.8L2103 1785.5L2110 1783.1L2117 1780.7L2123.9 1778.2L2130.6 1775.7L2136.9 1773.3L2143 1771L2148.8 1768.7L2145.2 1759.3L2139.4 1761.6L2133.3 1763.9L2127.1 1766.3L2120.5 1768.7L2113.6 1771.1L2106.7 1773.5L2099.8 1775.9L2092.8 1778.2L2085.9 1780.4L2079 1782.5L2072 1784.7L2065 1786.8L2058 1788.8L2050.9 1790.9L2043.9 1792.8L2037.1 1794.7L2030.3 1796.5L2023.6 1798.3L2017 1800L2010.4 1801.7L2003.8 1803.3L1997 1805L1990.2 1806.6L1983.3 1808.3L1976.3 1809.9L1969.4 1811.6L1962.6 1813.2L1955.8 1814.8L1949.1 1816.4L1942.3 1818L1935.6 1819.6L1928.7 1821.2L1921.7 1822.8L1914.7 1824.5L1907.6 1826.1L1900.4 1827.8L1893.3 1829.4L1886.1 1831.1L1879 1832.8L1871.9 1834.4L1864.8 1836.1L1857.7 1837.7L1850.6 1839.4L1843.4 1841L1836.2 1842.7L1829 1844.4L1821.8 1846L1814.7 1847.7L1807.6 1849.3L1800.6 1851L1793.7 1852.6L1787 1854.2L1780.3 1855.8L1773.6 1857.4L1767 1859L1760.4 1860.7L1753.8 1862.4L1747.2 1864.1L1740.6 1865.8L1734.1 1867.6L1727.6 1869.4L1721 1871.2L1714.4 1873L1707.7 1874.8L1701 1876.6L1694.5 1878.4L1688 1880.1L1681.5 1881.7L1675.1 1883.4L1668.6 1885L1662 1886.7L1655.2 1888.4L1648.4 1890.2L1641.4 1892L1634.4 1893.8L1627.3 1895.6L1620.3 1897.4L1613.3 1899.2L1606.3 1901.1L1599.4 1902.9L1592.4 1904.8L1585.5 1906.7L1578.5 1908.6L1571.5 1910.6L1564.4 1912.6L1557.2 1914.7L1550 1916.8L1542.8 1918.9L1535.6 1921.1L1528.6 1923.2L1521.6 1925.3L1514.7 1927.4L1508 1929.5L1501.3 1931.5L1494.7 1933.6L1488 1935.6L1481.3 1937.7L1474.4 1939.8L1467.4 1941.9L1460.4 1944.1L1453.3 1946.3L1446.3 1948.4L1439.4 1950.6L1432.6 1952.8L1426.1 1955L1419.6 1957.2L1413.2 1959.5L1406.8 1961.8L1400.4 1964.3L1394.1 1966.8L1387.9 1969.4L1381.7 1972.2L1375.7 1975.1L1369.7 1978.1L1363.7 1981.3L1357.8 1984.7L1351.9 1988.2L1346 1991.9L1340.2 1995.8L1334.5 1999.8L1328.8 2003.9L1323.2 2008.1L1317.6 2012.5L1312.1 2017L1306.7 2021.7L1301.4 2026.6L1296.1 2031.8L1291 2037.1L1286 2042.5L1281.1 2048.1L1276.3 2053.8L1271.5 2059.7L1266.8 2065.6L1262.2 2071.5L1257.6 2077.4L1253 2083.2L1248.3 2089L1243.6 2094.8L1239 2100.7L1234.4 2106.9L1230.1 2113.2L1226.1 2119.8L1222.4 2126.5L1219.1 2133.3L1216.1 2139.9L1213.3 2146.5L1210.8 2152.8L1208.4 2159L1206.2 2165L1204.2 2171.1L1202.2 2177.3L1200.4 2183.6L1198.7 2190.1L1197.1 2196.7L1195.7 2203.5L1194.4 2210.4L1193.3 2217.4L1192.2 2224.4L1191.3 2231.6L1190.4 2238.8L1189.6 2246L1188.9 2253.1L1188.3 2260.1L1187.8 2266.9L1187.3 2273.6L1186.8 2280.1L1186.5 2286.7L1186.1 2293.3L1185.8 2300.1L1185.5 2307L1185.2 2314.1L1184.9 2321.3L1184.7 2328.5L1184.4 2335.8L1184.1 2343.1L1183.9 2350.6L1183.6 2358.1L1183.4 2365.8L1183.1 2373.6L1182.9 2381.4L1182.7 2389.2L1182.4 2396.9L1182.2 2404.3L1182 2411.4L1181.8 2418.1L1181.6 2424.3L1181.4 2430.1L1181.2 2435.6L1181.1 2440.9Z" fill="#FF00FF"/>
<circle cx="1184.1" cy="2441.0" r="3.0" fill="#FF00FF"/>
<circle cx="2147.0" cy="1764.0" r="3.0" fill="#FF00FF"/>
<path d="M2144.5 1764L2144.5 1770.3L2144.5 1776.7L2144.5 1783.4L2144.5 1790.5L2144.5 1797.8L2144.5 1805.3L2144.5 1812.8L2144.5 1820.3L2144.4 1827.8L2144.3 1835.1L2144.1 1842.4L2143.9 1849.5L2143.5 1856.5L2143 1863.5L2142.3 1870.5L2141.6 1877.5L2140.8 1884.5L2140 1891.5L2139.2 1898.5L2138.4 1905.5L2137.5 1912.5L2136.6 1919.5L2135.6 1926.4L2134.5 1933.3L2133.3 1940.2L2132 1947.1L2130.5 1953.9L2128.9 1960.8L2127.1 1967.6L2125.2 1974.4L2123.1 1981.2L2120.8 1988L2118.3 1994.7L2115.6 2001.4L2112.7 2008.1L2109.6 2014.8L2106.3 2021.3L2102.7 2027.8L2099 2034.1L2095.1 2040.3L2090.9 2046.2L2086.6 2051.9L2082 2057.4L2077.3 2062.8L2072.5 2068L2067.4 2073.2L2062.3 2078.4L2057 2083.5L2051.7 2088.6L2046.3 2093.6L2040.8 2098.4L2035.4 2103.1L2029.9 2107.5L2024.4 2111.7L2018.8 2115.7L2013.1 2119.7L2007.5 2123.5L2001.8 2127.3L1996 2131L1990.3 2134.7L1984.6 2138.3L1978.8 2141.9L1973 2145.5L1967.1 2149.1L1961.2 2152.6L1955.2 2156L1949.2 2159.4L1943.2 2162.7L1937.1 2166L1930.9 2169.2L1924.7 2172.4L1918.4 2175.5L1912 2178.5L1905.7 2181.5L1899.4 2184.5L1893.1 2187.3L1886.8 2190.1L1880.6 2192.9L1874.4 2195.6L1868.1 2198.3L1861.8 2201L1855.4 2203.7L1849 2206.3L1842.6 2208.9L1836.2 2211.5L1829.7 2214L1823.3 2216.4L1816.9 2218.8L1810.4 2221.1L1803.9 2223.5L1797.3 2225.8L1790.6 2228.1L1783.8 2230.4L1776.9 2232.8L1770 2235.1L1763.1 2237.4L1756.3 2239.7L1749.6 2242L1742.9 2244.2L1736.1 2246.5L1729.3 2248.8L1722.4 2251.1L1715.5 2253.4L1708.6 2255.7L1701.7 2258L1694.9 2260.2L1688.2 2262.4L1681.7 2264.6L1675.3 2266.6L1669 2268.7L1662.7 2270.7L1656.4 2272.6L1650.1 2274.6L1643.9 2276.4L1637.8 2278.2L1631.8 2280L1625.9 2281.7L1620 2283.4L1614 2285.1L1607.9 2286.8L1601.7 2288.6L1595.4 2290.4L1588.9 2292.3L1582.2 2294.2L1575.3 2296.2L1568.2 2298.3L1561.1 2300.4L1553.9 2302.5L1546.9 2304.6L1539.9 2306.7L1533.1 2308.7L1526.3 2310.8L1519.5 2312.8L1512.7 2314.9L1505.8 2317L1498.8 2319.2L1491.8 2321.3L1484.7 2323.6L1477.5 2325.8L1470.4 2328L1463.3 2330.3L1456.2 2332.6L1449.3 2334.8L1442.5 2337L1435.7 2339.3L1429.1 2341.5L1422.6 2343.7L1416.1 2345.9L1409.6 2348.1L1403.1 2350.3L1396.7 2352.5L1390.2 2354.8L1383.8 2357L1377.3 2359.3L1370.9 2361.6L1364.4 2363.9L1358 2366.3L1351.5 2368.6L1345 2371L1338.4 2373.4L1331.8 2375.9L1325.1 2378.4L1318.3 2380.9L1311.5 2383.5L1304.7 2386.1L1297.9 2388.8L1291.1 2391.4L1284.3 2394L1277.6 2396.6L1271.1 2399.2L1264.7 2401.8L1258.3 2404.3L1252 2406.8L1245.6 2409.4L1239.1 2412L1232.3 2414.8L1225.3 2417.7L1218.3 2420.7L1211.3 2423.7L1204.7 2426.5L1198.4 2429.3L1192.7 2431.8L1187.3 2434.2L1182.1 2436.5L1186.1 2445.5L1191.3 2443.3L1196.6 2440.9L1202.4 2438.4L1208.6 2435.7L1215.2 2432.8L1222.1 2429.9L1229.2 2427L1236.1 2424.1L1242.9 2421.3L1249.4 2418.7L1255.7 2416.1L1262 2413.6L1268.4 2411.1L1274.8 2408.6L1281.3 2406L1288 2403.4L1294.7 2400.8L1301.5 2398.2L1308.3 2395.5L1315.1 2392.9L1321.9 2390.4L1328.6 2387.8L1335.3 2385.3L1341.9 2382.9L1348.4 2380.5L1354.9 2378.1L1361.4 2375.8L1367.8 2373.4L1374.3 2371.1L1380.7 2368.9L1387.1 2366.6L1393.6 2364.3L1400 2362.1L1406.4 2359.9L1412.9 2357.7L1419.3 2355.5L1425.8 2353.3L1432.3 2351.1L1438.9 2348.9L1445.6 2346.7L1452.4 2344.5L1459.4 2342.2L1466.4 2340L1473.4 2337.8L1480.6 2335.5L1487.7 2333.3L1494.8 2331.1L1501.9 2328.9L1508.8 2326.8L1515.7 2324.7L1522.5 2322.6L1529.3 2320.6L1536 2318.5L1542.8 2316.5L1549.8 2314.4L1556.8 2312.3L1564 2310.2L1571.1 2308.1L1578.1 2306L1585 2304L1591.7 2302.1L1598.2 2300.2L1604.5 2298.4L1610.7 2296.6L1616.8 2294.9L1622.8 2293.2L1628.7 2291.5L1634.7 2289.8L1640.7 2288.1L1646.9 2286.2L1653.1 2284.3L1659.4 2282.4L1665.8 2280.4L1672.1 2278.4L1678.4 2276.3L1684.9 2274.2L1691.4 2272.1L1698.1 2269.9L1704.9 2267.6L1711.8 2265.3L1718.7 2263L1725.7 2260.7L1732.5 2258.4L1739.4 2256.1L1746.1 2253.9L1752.8 2251.6L1759.5 2249.3L1766.3 2247L1773.2 2244.7L1780.1 2242.4L1787 2240L1793.9 2237.7L1800.6 2235.3L1807.3 2233L1813.8 2230.6L1820.4 2228.3L1826.9 2225.8L1833.4 2223.3L1839.8 2220.8L1846.3 2218.2L1852.8 2215.6L1859.2 2212.9L1865.7 2210.2L1872 2207.5L1878.4 2204.8L1884.6 2202L1890.9 2199.2L1897.2 2196.4L1903.5 2193.4L1909.9 2190.5L1916.3 2187.4L1922.7 2184.3L1929.1 2181.1L1935.4 2177.9L1941.6 2174.6L1947.8 2171.3L1953.9 2167.9L1960 2164.4L1966.1 2160.9L1972 2157.3L1978 2153.7L1983.8 2150L1989.7 2146.4L1995.4 2142.7L2001.2 2138.9L2007 2135.2L2012.7 2131.3L2018.5 2127.3L2024.2 2123.3L2029.9 2119L2035.6 2114.6L2041.2 2110L2046.7 2105.2L2052.2 2100.1L2057.7 2095L2063.1 2089.8L2068.4 2084.5L2073.6 2079.2L2078.7 2073.8L2083.7 2068.3L2088.4 2062.7L2093 2056.9L2097.4 2050.8L2101.6 2044.6L2105.6 2038.1L2109.3 2031.5L2112.9 2024.7L2116.2 2017.9L2119.3 2011L2122.1 2004.1L2124.8 1997.2L2127.2 1990.2L2129.5 1983.3L2131.6 1976.3L2133.5 1969.3L2135.2 1962.4L2136.8 1955.3L2138.3 1948.3L2139.6 1941.3L2140.8 1934.3L2141.8 1927.3L2142.8 1920.3L2143.7 1913.3L2144.5 1906.3L2145.3 1899.3L2146.1 1892.2L2146.9 1885.2L2147.7 1878.1L2148.4 1871L2149 1864L2149.5 1856.9L2149.9 1849.7L2150.2 1842.5L2150.3 1835.3L2150.4 1827.9L2150.5 1820.4L2150.5 1812.8L2150.5 1805.3L2150.5 1797.8L2150.5 1790.5L2150.5 1783.4L2150.5 1776.7L2150.5 1770.3L2150.5 1764Z" fill="#FF00FF"/>
<circle cx="2147.5" cy="1764.0" r="3.0" fill="#FF00FF"/>
<circle cx="1184.1" cy="2441.0" r="3.0" fill="#FF00FF"/>
<rect x="1097.2" y="29.2" width="8.2" height="2494" fill="#6c6c6c"/>
<rect x="2225.2" y="29.2" width="4" height="2494" fill="#8c8c8c"/>
<rect x="2229.2" y="29.2" width="4" height="2494" fill="#3c3c3c"/>
<rect x="1097.2" y="29.2" width="1136" height="4" fill="#161616"/>
<rect x="1105.4" y="33.2" width="1120" height="3.8" fill="#dedede"/>
<rect x="1105.4" y="855.2" width="1120" height="3.8" fill="#b6b6b6"/>
<rect x="1097.2" y="859.0" width="1136" height="4.3" fill="#1c1c1c"/>
<rect x="1105.4" y="1685.2" width="1120" height="3.8" fill="#b6b6b6"/>
<rect x="1097.2" y="1689.0" width="1136" height="4.3" fill="#1c1c1c"/>
<rect x="1105.4" y="2515.2" width="1120" height="3.8" fill="#b6b6b6"/>
<rect x="1097.2" y="2519.0" width="1136" height="4.3" fill="#1c1c1c"/>
<rect x="1179.7" y="33.0" width="4.4" height="11.6" fill="#1e1e1e"/>
<rect x="1260.4" y="33.0" width="4.4" height="4.2" fill="#1e1e1e"/>
<rect x="1341.0" y="33.0" width="4.4" height="11.6" fill="#1e1e1e"/>
<rect x="1421.7" y="33.0" width="4.4" height="4.2" fill="#1e1e1e"/>
<rect x="1502.4" y="33.0" width="4.4" height="11.6" fill="#1e1e1e"/>
<rect x="1583.0" y="33.0" width="4.4" height="4.2" fill="#1e1e1e"/>
<rect x="1663.7" y="33.0" width="4.4" height="11.6" fill="#1e1e1e"/>
<rect x="1744.4" y="33.0" width="4.4" height="4.2" fill="#1e1e1e"/>
<rect x="1825.0" y="33.0" width="4.4" height="11.6" fill="#1e1e1e"/>
<rect x="1905.7" y="33.0" width="4.4" height="4.2" fill="#1e1e1e"/>
<rect x="1986.3" y="33.0" width="4.4" height="11.6" fill="#1e1e1e"/>
<rect x="2067.0" y="33.0" width="4.4" height="4.2" fill="#1e1e1e"/>
<rect x="2147.7" y="33.0" width="4.4" height="11.6" fill="#1e1e1e"/>
<rect x="1179.7" y="842.7" width="4.4" height="16.3" fill="#1e1e1e"/>
<rect x="1260.4" y="850.8" width="4.4" height="8.2" fill="#1e1e1e"/>
<rect x="1341.0" y="842.7" width="4.4" height="16.3" fill="#1e1e1e"/>
<rect x="1421.7" y="850.8" width="4.4" height="8.2" fill="#1e1e1e"/>
<rect x="1502.4" y="842.7" width="4.4" height="16.3" fill="#1e1e1e"/>
<rect x="1583.0" y="850.8" width="4.4" height="8.2" fill="#1e1e1e"/>
<rect x="1663.7" y="842.7" width="4.4" height="16.3" fill="#1e1e1e"/>
<rect x="1744.4" y="850.8" width="4.4" height="8.2" fill="#1e1e1e"/>
<rect x="1825.0" y="842.7" width="4.4" height="16.3" fill="#1e1e1e"/>
<rect x="1905.7" y="850.8" width="4.4" height="8.2" fill="#1e1e1e"/>
<rect x="1986.3" y="842.7" width="4.4" height="16.3" fill="#1e1e1e"/>
<rect x="2067.0" y="850.8" width="4.4" height="8.2" fill="#1e1e1e"/>
<rect x="2147.7" y="842.7" width="4.4" height="16.3" fill="#1e1e1e"/>
<rect x="1179.7" y="1672.7" width="4.4" height="16.3" fill="#1e1e1e"/>
<rect x="1260.4" y="1680.8" width="4.4" height="8.2" fill="#1e1e1e"/>
<rect x="1341.0" y="1672.7" width="4.4" height="16.3" fill="#1e1e1e"/>
<rect x="1421.7" y="1680.8" width="4.4" height="8.2" fill="#1e1e1e"/>
<rect x="1502.4" y="1672.7" width="4.4" height="16.3" fill="#1e1e1e"/>
<rect x="1583.0" y="1680.8" width="4.4" height="8.2" fill="#1e1e1e"/>
<rect x="1663.7" y="1672.7" width="4.4" height="16.3" fill="#1e1e1e"/>
<rect x="1744.4" y="1680.8" width="4.4" height="8.2" fill="#1e1e1e"/>
<rect x="1825.0" y="1672.7" width="4.4" height="16.3" fill="#1e1e1e"/>
<rect x="1905.7" y="1680.8" width="4.4" height="8.2" fill="#1e1e1e"/>
<rect x="1986.3" y="1672.7" width="4.4" height="16.3" fill="#1e1e1e"/>
<rect x="2067.0" y="1680.8" width="4.4" height="8.2" fill="#1e1e1e"/>
<rect x="2147.7" y="1672.7" width="4.4" height="16.3" fill="#1e1e1e"/>
<rect x="1179.7" y="2502.7" width="4.4" height="16.3" fill="#1e1e1e"/>
<rect x="1260.4" y="2510.8" width="4.4" height="8.2" fill="#1e1e1e"/>
<rect x="1341.0" y="2502.7" width="4.4" height="16.3" fill="#1e1e1e"/>
<rect x="1421.7" y="2510.8" width="4.4" height="8.2" fill="#1e1e1e"/>
<rect x="1502.4" y="2502.7" width="4.4" height="16.3" fill="#1e1e1e"/>
<rect x="1583.0" y="2510.8" width="4.4" height="8.2" fill="#1e1e1e"/>
<rect x="1663.7" y="2502.7" width="4.4" height="16.3" fill="#1e1e1e"/>
<rect x="1744.4" y="2510.8" width="4.4" height="8.2" fill="#1e1e1e"/>
<rect x="1825.0" y="2502.7" width="4.4" height="16.3" fill="#1e1e1e"/>
<rect x="1905.7" y="2510.8" width="4.4" height="8.2" fill="#1e1e1e"/>
<rect x="1986.3" y="2502.7" width="4.4" height="16.3" fill="#1e1e1e"/>
<rect x="2067.0" y="2510.8" width="4.4" height="8.2" fill="#1e1e1e"/>
<rect x="2147.7" y="2502.7" width="4.4" height="16.3" fill="#1e1e1e"/>
<rect x="1105.4" y="52.2" width="4.4" height="4.4" fill="#1e1e1e"/>
<rect x="2220.8" y="52.2" width="4.4" height="4.4" fill="#1e1e1e"/>
<rect x="1105.4" y="130.4" width="12.2" height="4.4" fill="#1e1e1e"/>
<rect x="2213.0" y="130.4" width="12.2" height="4.4" fill="#1e1e1e"/>
<rect x="1105.4" y="208.6" width="4.4" height="4.4" fill="#1e1e1e"/>
<rect x="2220.8" y="208.6" width="4.4" height="4.4" fill="#1e1e1e"/>
<rect x="1105.4" y="286.7" width="12.2" height="4.4" fill="#1e1e1e"/>
<rect x="2213.0" y="286.7" width="12.2" height="4.4" fill="#1e1e1e"/>
<rect x="1105.4" y="364.9" width="4.4" height="4.4" fill="#1e1e1e"/>
<rect x="2220.8" y="364.9" width="4.4" height="4.4" fill="#1e1e1e"/>
<rect x="1105.4" y="443.0" width="12.2" height="4.4" fill="#1e1e1e"/>
<rect x="2213.0" y="443.0" width="12.2" height="4.4" fill="#1e1e1e"/>
<rect x="1105.4" y="521.1" width="4.4" height="4.4" fill="#1e1e1e"/>
<rect x="2220.8" y="521.1" width="4.4" height="4.4" fill="#1e1e1e"/>
<rect x="1105.4" y="599.3" width="12.2" height="4.4" fill="#1e1e1e"/>
<rect x="2213.0" y="599.3" width="12.2" height="4.4" fill="#1e1e1e"/>
<rect x="1105.4" y="677.5" width="4.4" height="4.4" fill="#1e1e1e"/>
<rect x="2220.8" y="677.5" width="4.4" height="4.4" fill="#1e1e1e"/>
<rect x="1105.4" y="755.6" width="12.2" height="4.4" fill="#1e1e1e"/>
<rect x="2213.0" y="755.6" width="12.2" height="4.4" fill="#1e1e1e"/>
<rect x="1105.4" y="833.8" width="4.4" height="4.4" fill="#1e1e1e"/>
<rect x="2220.8" y="833.8" width="4.4" height="4.4" fill="#1e1e1e"/>
<rect x="1105.4" y="882.5" width="4.4" height="4.4" fill="#1e1e1e"/>
<rect x="2220.8" y="882.5" width="4.4" height="4.4" fill="#1e1e1e"/>
<rect x="1105.4" y="960.7" width="12.2" height="4.4" fill="#1e1e1e"/>
<rect x="2213.0" y="960.7" width="12.2" height="4.4" fill="#1e1e1e"/>
<rect x="1105.4" y="1038.8" width="4.4" height="4.4" fill="#1e1e1e"/>
<rect x="2220.8" y="1038.8" width="4.4" height="4.4" fill="#1e1e1e"/>
<rect x="1105.4" y="1117.0" width="12.2" height="4.4" fill="#1e1e1e"/>
<rect x="2213.0" y="1117.0" width="12.2" height="4.4" fill="#1e1e1e"/>
<rect x="1105.4" y="1195.1" width="4.4" height="4.4" fill="#1e1e1e"/>
<rect x="2220.8" y="1195.1" width="4.4" height="4.4" fill="#1e1e1e"/>
<rect x="1105.4" y="1273.3" width="12.2" height="4.4" fill="#1e1e1e"/>
<rect x="2213.0" y="1273.3" width="12.2" height="4.4" fill="#1e1e1e"/>
<rect x="1105.4" y="1351.5" width="4.4" height="4.4" fill="#1e1e1e"/>
<rect x="2220.8" y="1351.5" width="4.4" height="4.4" fill="#1e1e1e"/>
<rect x="1105.4" y="1429.6" width="12.2" height="4.4" fill="#1e1e1e"/>
<rect x="2213.0" y="1429.6" width="12.2" height="4.4" fill="#1e1e1e"/>
<rect x="1105.4" y="1507.8" width="4.4" height="4.4" fill="#1e1e1e"/>
<rect x="2220.8" y="1507.8" width="4.4" height="4.4" fill="#1e1e1e"/>
<rect x="1105.4" y="1585.9" width="12.2" height="4.4" fill="#1e1e1e"/>
<rect x="2213.0" y="1585.9" width="12.2" height="4.4" fill="#1e1e1e"/>
<rect x="1105.4" y="1664.0" width="4.4" height="4.4" fill="#1e1e1e"/>
<rect x="2220.8" y="1664.0" width="4.4" height="4.4" fill="#1e1e1e"/>
<rect x="1105.4" y="1758.1" width="4.4" height="4.4" fill="#1e1e1e"/>
<rect x="2220.8" y="1758.1" width="4.4" height="4.4" fill="#1e1e1e"/>
<rect x="1105.4" y="1827.4" width="12.2" height="4.4" fill="#1e1e1e"/>
<rect x="2213.0" y="1827.4" width="12.2" height="4.4" fill="#1e1e1e"/>
<rect x="1105.4" y="1896.7" width="4.4" height="4.4" fill="#1e1e1e"/>
<rect x="2220.8" y="1896.7" width="4.4" height="4.4" fill="#1e1e1e"/>
<rect x="1105.4" y="1965.9" width="12.2" height="4.4" fill="#1e1e1e"/>
<rect x="2213.0" y="1965.9" width="12.2" height="4.4" fill="#1e1e1e"/>
<rect x="1105.4" y="2035.2" width="4.4" height="4.4" fill="#1e1e1e"/>
<rect x="2220.8" y="2035.2" width="4.4" height="4.4" fill="#1e1e1e"/>
<rect x="1105.4" y="2104.5" width="12.2" height="4.4" fill="#1e1e1e"/>
<rect x="2213.0" y="2104.5" width="12.2" height="4.4" fill="#1e1e1e"/>
<rect x="1105.4" y="2173.8" width="4.4" height="4.4" fill="#1e1e1e"/>
<rect x="2220.8" y="2173.8" width="4.4" height="4.4" fill="#1e1e1e"/>
<rect x="1105.4" y="2243.1" width="12.2" height="4.4" fill="#1e1e1e"/>
<rect x="2213.0" y="2243.1" width="12.2" height="4.4" fill="#1e1e1e"/>
<rect x="1105.4" y="2312.3" width="4.4" height="4.4" fill="#1e1e1e"/>
<rect x="2220.8" y="2312.3" width="4.4" height="4.4" fill="#1e1e1e"/>
<rect x="1105.4" y="2381.6" width="12.2" height="4.4" fill="#1e1e1e"/>
<rect x="2213.0" y="2381.6" width="12.2" height="4.4" fill="#1e1e1e"/>
<rect x="1105.4" y="2450.9" width="4.4" height="4.4" fill="#1e1e1e"/>
<rect x="2220.8" y="2450.9" width="4.4" height="4.4" fill="#1e1e1e"/>
<text x="1083.5" y="145.6" font-size="48.0" font-weight="normal" fill="#111" text-anchor="end" >0.30</text>
<text x="1083.5" y="301.9" font-size="48.0" font-weight="normal" fill="#111" text-anchor="end" >0.15</text>
<text x="1083.5" y="458.2" font-size="48.0" font-weight="normal" fill="#111" text-anchor="end" >0.00</text>
<text x="1083.5" y="614.5" font-size="48.0" font-weight="normal" fill="#111" text-anchor="end" >0.15</text>
<text x="982.1" y="614.5" font-size="48" text-anchor="end" fill="#111">−</text>
<text x="1083.5" y="770.8" font-size="48.0" font-weight="normal" fill="#111" text-anchor="end" >0.30</text>
<text x="982.1" y="770.8" font-size="48" text-anchor="end" fill="#111">−</text>
<text x="1083.5" y="975.9" font-size="48.0" font-weight="normal" fill="#111" text-anchor="end" >0.30</text>
<text x="1083.5" y="1132.2" font-size="48.0" font-weight="normal" fill="#111" text-anchor="end" >0.15</text>
<text x="1083.5" y="1288.5" font-size="48.0" font-weight="normal" fill="#111" text-anchor="end" >0.00</text>
<text x="1083.5" y="1444.8" font-size="48.0" font-weight="normal" fill="#111" text-anchor="end" >0.15</text>
<text x="982.1" y="1444.8" font-size="48" text-anchor="end" fill="#111">−</text>
<text x="1083.5" y="1601.1" font-size="48.0" font-weight="normal" fill="#111" text-anchor="end" >0.30</text>
<text x="982.1" y="1601.1" font-size="48" text-anchor="end" fill="#111">−</text>
<text x="1083.5" y="1702.0" font-size="48.0" font-weight="normal" fill="#111" text-anchor="end" >6</text>
<text x="1083.5" y="1840.5" font-size="48.0" font-weight="normal" fill="#111" text-anchor="end" >4</text>
<text x="1083.5" y="1979.1" font-size="48.0" font-weight="normal" fill="#111" text-anchor="end" >2</text>
<text x="1083.5" y="2117.7" font-size="48.0" font-weight="normal" fill="#111" text-anchor="end" >0</text>
<text x="1083.5" y="2256.2" font-size="48.0" font-weight="normal" fill="#111" text-anchor="end" >2</text>
<text x="1048.8" y="2256.2" font-size="48" text-anchor="end" fill="#111">−</text>
<text x="1083.5" y="2394.8" font-size="48.0" font-weight="normal" fill="#111" text-anchor="end" >4</text>
<text x="1048.8" y="2394.8" font-size="48" text-anchor="end" fill="#111">−</text>
<text x="1083.5" y="2533.3" font-size="48.0" font-weight="normal" fill="#111" text-anchor="end" >6</text>
<text x="1048.8" y="2533.3" font-size="48" text-anchor="end" fill="#111">−</text>
<text x="1181.3" y="2575.0" font-size="48.0" font-weight="normal" fill="#111" text-anchor="middle" >0.0</text>
<text x="1342.6" y="2575.0" font-size="48.0" font-weight="normal" fill="#111" text-anchor="middle" >0.1</text>
<text x="1504.0" y="2575.0" font-size="48.0" font-weight="normal" fill="#111" text-anchor="middle" >0.2</text>
<text x="1665.3" y="2575.0" font-size="48.0" font-weight="normal" fill="#111" text-anchor="middle" >0.3</text>
<text x="1826.6" y="2575.0" font-size="48.0" font-weight="normal" fill="#111" text-anchor="middle" >0.4</text>
<text x="1987.9" y="2575.0" font-size="48.0" font-weight="normal" fill="#111" text-anchor="middle" >0.5</text>
<text x="2149.3" y="2575.0" font-size="48.0" font-weight="normal" fill="#111" text-anchor="middle" >0.6</text>
<text transform="translate(950.5,612.5) rotate(-90)" font-size="75" fill="#000">Current [mA]</text>
<text transform="translate(950.5,1463.5) rotate(-90)" font-size="75" fill="#000">Current [mA]</text>
<text transform="translate(941,2468) rotate(-90)" font-size="75" fill="#000">Current Density [Ag<tspan font-size="50" dy="-30">−1</tspan><tspan dy="30">]</tspan></text>
<text x="1665.0" y="2673.0" font-size="75.0" font-weight="normal" fill="#000" text-anchor="middle" >Potential vs SCE [V]</text>
<text x="1133.5" y="169.5" font-size="110">(b<tspan dx="5">)</tspan></text>
<text x="1134.5" y="1008" font-size="110">(c<tspan dx="5">)</tspan></text>
<text x="1138" y="1826.5" font-size="110">(d<tspan dx="4">)</tspan></text>
<text x="1366.0" y="138.2" font-size="78.0" font-weight="bold" fill="#000" text-anchor="start" >10 min</text>
<text x="1366.0" y="1794.8" font-size="78.0" font-weight="bold" fill="#000" text-anchor="start" >10 min</text>
<text x="1734.0" y="723.6" font-size="79" font-weight="bold" fill="#000" word-spacing="-5">v = 20 mV s<tspan font-size="48" dy="-27" dx="4">−1</tspan></text>
<text x="1728.0" y="1520.4" font-size="79" font-weight="bold" fill="#000" word-spacing="-5">v = 20 mV s<tspan font-size="48" dy="-27" dx="4">−1</tspan></text>
<rect x="1445.0" y="807.2" width="113.5" height="8" fill="#808080"/>
<text x="1565.0" y="828.2" font-size="46.5" font-weight="normal" fill="#111" text-anchor="start" >GP</text>
<rect x="1660.0" y="807.2" width="107.0" height="8" fill="#FF00FF"/>
<text x="1775.0" y="828.2" font-size="46.5" font-weight="normal" fill="#111" text-anchor="start" >NS</text>
<rect x="1865.5" y="807.2" width="110.5" height="8" fill="#00DC00"/>
<text x="1984.0" y="828.2" font-size="46.5" font-weight="normal" fill="#111" text-anchor="start" >AnnNS</text>
<rect x="1129.0" y="1591.3" width="110.0" height="8" fill="#808080"/>
<text x="1246.0" y="1612.3" font-size="46.5" font-weight="normal" fill="#111" text-anchor="start" >GP</text>
<rect x="1338.7" y="1591.3" width="109.9" height="8" fill="#000000"/>
<text x="1456.0" y="1612.3" font-size="46.5" font-weight="normal" fill="#111" text-anchor="start" >0.5 min</text>
<rect x="1637.5" y="1591.3" width="109.0" height="8" fill="#FF0000"/>
<text x="1754.0" y="1612.3" font-size="46.5" font-weight="normal" fill="#111" text-anchor="start" >1 min</text>
<rect x="1894.0" y="1591.3" width="110.0" height="8" fill="#00FF00"/>
<text x="2011.0" y="1612.3" font-size="46.5" font-weight="normal" fill="#111" text-anchor="start" >3 min</text>
<rect x="1129.0" y="1648.6" width="110.0" height="8" fill="#0000FF"/>
<text x="1246.0" y="1669.6" font-size="46.5" font-weight="normal" fill="#111" text-anchor="start" >6 min</text>
<rect x="1387.0" y="1648.6" width="109.7" height="8" fill="#00FFFF"/>
<text x="1505.0" y="1669.6" font-size="46.5" font-weight="normal" fill="#111" text-anchor="start" >10 min</text>
<rect x="1669.6" y="1648.6" width="109.9" height="8" fill="#FF00FF"/>
<text x="1788.0" y="1669.6" font-size="46.5" font-weight="normal" fill="#111" text-anchor="start" >20 min</text>
<rect x="1955.4" y="1648.6" width="109.9" height="8" fill="#F5822E"/>
<text x="2071.0" y="1669.6" font-size="46.5" font-weight="normal" fill="#111" text-anchor="start" >30 min</text>
<rect x="1289.0" y="2416.7" width="94.0" height="8" fill="#000000"/>
<text x="1391.0" y="2435.7" font-size="41" fill="#111">5 mV s<tspan font-size="25" dy="-17" dx="6">-1</tspan></text>
<rect x="1572.0" y="2416.7" width="96.5" height="8" fill="#FF0000"/>
<text x="1676.0" y="2435.7" font-size="41" fill="#111">10 mV s<tspan font-size="25" dy="-17" dx="6">-1</tspan></text>
<rect x="1878.0" y="2416.7" width="96.0" height="8" fill="#00FF00"/>
<text x="1981.0" y="2435.7" font-size="41" fill="#111">20 mV s<tspan font-size="25" dy="-17" dx="6">-1</tspan></text>
<rect x="1289.0" y="2470.6" width="94.0" height="8" fill="#0000FF"/>
<text x="1391.0" y="2489.6" font-size="41" fill="#111">30 mV s<tspan font-size="25" dy="-17" dx="6">-1</tspan></text>
<rect x="1593.0" y="2470.6" width="96.0" height="8" fill="#00FFFF"/>
<text x="1696.0" y="2489.6" font-size="41" fill="#111">50 mV s<tspan font-size="25" dy="-17" dx="6">-1</tspan></text>
<rect x="1900.5" y="2470.6" width="96.0" height="8" fill="#FF00FF"/>
<text x="2004.0" y="2489.6" font-size="41" fill="#111">100 mV s<tspan font-size="25" dy="-17" dx="6">-1</tspan></text>
</g>
</svg></body></html>
